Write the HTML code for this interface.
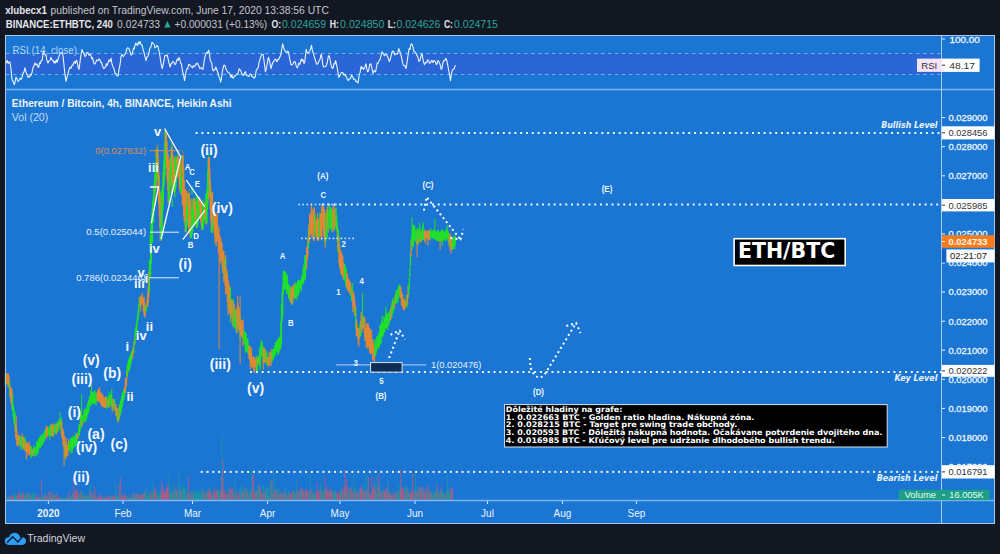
<!DOCTYPE html>
<html><head><meta charset="utf-8"><style>
html,body{margin:0;padding:0;background:#131722;}
#wrap{position:relative;width:1000px;height:554px;overflow:hidden;background:#131722;}
</style></head><body><div id="wrap">
<svg width="1000" height="554" viewBox="0 0 1000 554" style="position:absolute;left:0;top:0">
<rect x="5" y="35" width="990" height="489" fill="#1a75d3"/>
<rect x="6" y="53.5" width="935" height="21" fill="#2a66d6"/>
<line x1="6" y1="53.5" x2="941" y2="53.5" stroke="#6fb0f4" stroke-width="1" stroke-dasharray="3.5 3.5"/>
<line x1="6" y1="74.5" x2="941" y2="74.5" stroke="#6fb0f4" stroke-width="1" stroke-dasharray="3.5 3.5"/>
<g><rect x="6.0" y="494.3" width="1.1" height="5.7" fill="#22a88c" fill-opacity="0.5"/><rect x="6.7" y="496.9" width="1.1" height="3.1" fill="#22a88c" fill-opacity="0.5"/><rect x="7.4" y="497.0" width="1.1" height="3.0" fill="#e0506e" fill-opacity="0.62"/><rect x="8.1" y="496.6" width="1.1" height="3.4" fill="#e0506e" fill-opacity="0.62"/><rect x="8.8" y="496.1" width="1.1" height="3.9" fill="#22a88c" fill-opacity="0.5"/><rect x="9.5" y="496.2" width="1.1" height="3.8" fill="#22a88c" fill-opacity="0.5"/><rect x="10.2" y="494.0" width="1.1" height="6.0" fill="#e0506e" fill-opacity="0.62"/><rect x="10.9" y="497.0" width="1.1" height="3.0" fill="#22a88c" fill-opacity="0.5"/><rect x="11.6" y="496.5" width="1.1" height="3.5" fill="#e0506e" fill-opacity="0.62"/><rect x="12.3" y="496.3" width="1.1" height="3.7" fill="#e0506e" fill-opacity="0.62"/><rect x="13.0" y="496.6" width="1.1" height="3.4" fill="#e0506e" fill-opacity="0.62"/><rect x="13.7" y="493.5" width="1.1" height="6.5" fill="#22a88c" fill-opacity="0.5"/><rect x="14.4" y="492.7" width="1.1" height="7.3" fill="#22a88c" fill-opacity="0.5"/><rect x="15.1" y="497.0" width="1.1" height="3.0" fill="#22a88c" fill-opacity="0.5"/><rect x="15.8" y="495.4" width="1.1" height="4.6" fill="#22a88c" fill-opacity="0.5"/><rect x="16.5" y="495.5" width="1.1" height="4.5" fill="#e0506e" fill-opacity="0.62"/><rect x="17.2" y="496.7" width="1.1" height="3.3" fill="#e0506e" fill-opacity="0.62"/><rect x="17.9" y="490.3" width="1.1" height="9.7" fill="#e0506e" fill-opacity="0.62"/><rect x="18.6" y="494.2" width="1.1" height="5.8" fill="#e0506e" fill-opacity="0.62"/><rect x="19.3" y="495.1" width="1.1" height="4.9" fill="#e0506e" fill-opacity="0.62"/><rect x="20.0" y="494.1" width="1.1" height="5.9" fill="#22a88c" fill-opacity="0.5"/><rect x="20.7" y="491.1" width="1.1" height="8.9" fill="#22a88c" fill-opacity="0.5"/><rect x="21.4" y="495.9" width="1.1" height="4.1" fill="#e0506e" fill-opacity="0.62"/><rect x="22.1" y="493.3" width="1.1" height="6.7" fill="#e0506e" fill-opacity="0.62"/><rect x="22.8" y="492.9" width="1.1" height="7.1" fill="#e0506e" fill-opacity="0.62"/><rect x="23.5" y="495.7" width="1.1" height="4.3" fill="#e0506e" fill-opacity="0.62"/><rect x="24.2" y="493.2" width="1.1" height="6.8" fill="#22a88c" fill-opacity="0.5"/><rect x="24.9" y="495.8" width="1.1" height="4.2" fill="#22a88c" fill-opacity="0.5"/><rect x="25.6" y="493.0" width="1.1" height="7.0" fill="#22a88c" fill-opacity="0.5"/><rect x="26.3" y="496.2" width="1.1" height="3.8" fill="#22a88c" fill-opacity="0.5"/><rect x="27.0" y="494.1" width="1.1" height="5.9" fill="#e0506e" fill-opacity="0.62"/><rect x="27.7" y="492.3" width="1.1" height="7.7" fill="#e0506e" fill-opacity="0.62"/><rect x="28.4" y="493.9" width="1.1" height="6.1" fill="#22a88c" fill-opacity="0.5"/><rect x="29.1" y="493.1" width="1.1" height="6.9" fill="#22a88c" fill-opacity="0.5"/><rect x="29.8" y="495.5" width="1.1" height="4.5" fill="#e0506e" fill-opacity="0.62"/><rect x="30.5" y="493.2" width="1.1" height="6.8" fill="#22a88c" fill-opacity="0.5"/><rect x="31.2" y="495.0" width="1.1" height="5.0" fill="#22a88c" fill-opacity="0.5"/><rect x="31.9" y="492.7" width="1.1" height="7.3" fill="#22a88c" fill-opacity="0.5"/><rect x="32.6" y="493.7" width="1.1" height="6.3" fill="#22a88c" fill-opacity="0.5"/><rect x="33.3" y="491.2" width="1.1" height="8.8" fill="#22a88c" fill-opacity="0.5"/><rect x="34.0" y="493.8" width="1.1" height="6.2" fill="#22a88c" fill-opacity="0.5"/><rect x="34.7" y="497.3" width="1.1" height="2.7" fill="#22a88c" fill-opacity="0.5"/><rect x="35.4" y="497.2" width="1.1" height="2.8" fill="#e0506e" fill-opacity="0.62"/><rect x="36.1" y="493.8" width="1.1" height="6.2" fill="#e0506e" fill-opacity="0.62"/><rect x="36.8" y="496.9" width="1.1" height="3.1" fill="#e0506e" fill-opacity="0.62"/><rect x="37.5" y="496.3" width="1.1" height="3.7" fill="#e0506e" fill-opacity="0.62"/><rect x="38.2" y="497.9" width="1.1" height="2.1" fill="#22a88c" fill-opacity="0.5"/><rect x="38.9" y="497.1" width="1.1" height="2.9" fill="#e0506e" fill-opacity="0.62"/><rect x="39.6" y="497.4" width="1.1" height="2.6" fill="#22a88c" fill-opacity="0.5"/><rect x="40.3" y="497.1" width="1.1" height="2.9" fill="#22a88c" fill-opacity="0.5"/><rect x="41.0" y="479.3" width="1.1" height="20.7" fill="#e0506e" fill-opacity="0.62"/><rect x="41.7" y="496.5" width="1.1" height="3.5" fill="#22a88c" fill-opacity="0.5"/><rect x="42.4" y="495.0" width="1.1" height="5.0" fill="#22a88c" fill-opacity="0.5"/><rect x="43.1" y="496.3" width="1.1" height="3.7" fill="#22a88c" fill-opacity="0.5"/><rect x="43.8" y="491.8" width="1.1" height="8.2" fill="#22a88c" fill-opacity="0.5"/><rect x="44.5" y="495.9" width="1.1" height="4.1" fill="#e0506e" fill-opacity="0.62"/><rect x="45.2" y="494.2" width="1.1" height="5.8" fill="#e0506e" fill-opacity="0.62"/><rect x="45.9" y="496.5" width="1.1" height="3.5" fill="#e0506e" fill-opacity="0.62"/><rect x="46.6" y="495.3" width="1.1" height="4.7" fill="#e0506e" fill-opacity="0.62"/><rect x="47.3" y="496.1" width="1.1" height="3.9" fill="#22a88c" fill-opacity="0.5"/><rect x="48.0" y="491.7" width="1.1" height="8.3" fill="#22a88c" fill-opacity="0.5"/><rect x="48.7" y="491.6" width="1.1" height="8.4" fill="#e0506e" fill-opacity="0.62"/><rect x="49.4" y="496.8" width="1.1" height="3.2" fill="#22a88c" fill-opacity="0.5"/><rect x="50.1" y="495.3" width="1.1" height="4.7" fill="#e0506e" fill-opacity="0.62"/><rect x="50.8" y="491.2" width="1.1" height="8.8" fill="#e0506e" fill-opacity="0.62"/><rect x="51.5" y="495.8" width="1.1" height="4.2" fill="#22a88c" fill-opacity="0.5"/><rect x="52.2" y="497.0" width="1.1" height="3.0" fill="#e0506e" fill-opacity="0.62"/><rect x="52.9" y="494.6" width="1.1" height="5.4" fill="#22a88c" fill-opacity="0.5"/><rect x="53.6" y="493.8" width="1.1" height="6.2" fill="#e0506e" fill-opacity="0.62"/><rect x="54.3" y="495.0" width="1.1" height="5.0" fill="#e0506e" fill-opacity="0.62"/><rect x="55.0" y="497.7" width="1.1" height="2.3" fill="#22a88c" fill-opacity="0.5"/><rect x="55.7" y="492.2" width="1.1" height="7.8" fill="#22a88c" fill-opacity="0.5"/><rect x="56.4" y="493.7" width="1.1" height="6.3" fill="#e0506e" fill-opacity="0.62"/><rect x="57.1" y="497.5" width="1.1" height="2.5" fill="#e0506e" fill-opacity="0.62"/><rect x="57.8" y="497.1" width="1.1" height="2.9" fill="#e0506e" fill-opacity="0.62"/><rect x="58.5" y="497.0" width="1.1" height="3.0" fill="#e0506e" fill-opacity="0.62"/><rect x="59.2" y="497.5" width="1.1" height="2.5" fill="#e0506e" fill-opacity="0.62"/><rect x="59.9" y="497.8" width="1.1" height="2.2" fill="#22a88c" fill-opacity="0.5"/><rect x="60.6" y="498.1" width="1.1" height="1.9" fill="#e0506e" fill-opacity="0.62"/><rect x="61.3" y="497.8" width="1.1" height="2.2" fill="#22a88c" fill-opacity="0.5"/><rect x="62.0" y="496.9" width="1.1" height="3.1" fill="#22a88c" fill-opacity="0.5"/><rect x="62.7" y="497.8" width="1.1" height="2.2" fill="#22a88c" fill-opacity="0.5"/><rect x="63.4" y="497.5" width="1.1" height="2.5" fill="#22a88c" fill-opacity="0.5"/><rect x="64.1" y="497.7" width="1.1" height="2.3" fill="#22a88c" fill-opacity="0.5"/><rect x="64.8" y="498.3" width="1.1" height="1.7" fill="#e0506e" fill-opacity="0.62"/><rect x="65.5" y="497.2" width="1.1" height="2.8" fill="#22a88c" fill-opacity="0.5"/><rect x="66.2" y="498.0" width="1.1" height="2.0" fill="#22a88c" fill-opacity="0.5"/><rect x="66.9" y="497.3" width="1.1" height="2.7" fill="#e0506e" fill-opacity="0.62"/><rect x="67.6" y="495.6" width="1.1" height="4.4" fill="#22a88c" fill-opacity="0.5"/><rect x="68.3" y="491.6" width="1.1" height="8.4" fill="#e0506e" fill-opacity="0.62"/><rect x="69.0" y="494.7" width="1.1" height="5.3" fill="#22a88c" fill-opacity="0.5"/><rect x="69.7" y="496.4" width="1.1" height="3.6" fill="#e0506e" fill-opacity="0.62"/><rect x="70.4" y="496.7" width="1.1" height="3.3" fill="#22a88c" fill-opacity="0.5"/><rect x="71.1" y="496.5" width="1.1" height="3.5" fill="#22a88c" fill-opacity="0.5"/><rect x="71.8" y="492.9" width="1.1" height="7.1" fill="#22a88c" fill-opacity="0.5"/><rect x="72.5" y="495.2" width="1.1" height="4.8" fill="#22a88c" fill-opacity="0.5"/><rect x="73.2" y="477.7" width="1.1" height="22.3" fill="#e0506e" fill-opacity="0.62"/><rect x="73.9" y="490.7" width="1.1" height="9.3" fill="#e0506e" fill-opacity="0.62"/><rect x="74.6" y="494.6" width="1.1" height="5.4" fill="#e0506e" fill-opacity="0.62"/><rect x="75.3" y="491.2" width="1.1" height="8.8" fill="#e0506e" fill-opacity="0.62"/><rect x="76.0" y="488.7" width="1.1" height="11.3" fill="#e0506e" fill-opacity="0.62"/><rect x="76.7" y="493.8" width="1.1" height="6.2" fill="#e0506e" fill-opacity="0.62"/><rect x="77.4" y="489.4" width="1.1" height="10.6" fill="#e0506e" fill-opacity="0.62"/><rect x="78.1" y="496.3" width="1.1" height="3.7" fill="#22a88c" fill-opacity="0.5"/><rect x="78.8" y="494.7" width="1.1" height="5.3" fill="#22a88c" fill-opacity="0.5"/><rect x="79.5" y="492.0" width="1.1" height="8.0" fill="#22a88c" fill-opacity="0.5"/><rect x="80.2" y="490.9" width="1.1" height="9.1" fill="#e0506e" fill-opacity="0.62"/><rect x="80.9" y="490.6" width="1.1" height="9.4" fill="#22a88c" fill-opacity="0.5"/><rect x="81.6" y="492.0" width="1.1" height="8.0" fill="#22a88c" fill-opacity="0.5"/><rect x="82.3" y="496.1" width="1.1" height="3.9" fill="#e0506e" fill-opacity="0.62"/><rect x="83.0" y="496.8" width="1.1" height="3.2" fill="#22a88c" fill-opacity="0.5"/><rect x="83.7" y="493.9" width="1.1" height="6.1" fill="#22a88c" fill-opacity="0.5"/><rect x="84.4" y="495.4" width="1.1" height="4.6" fill="#e0506e" fill-opacity="0.62"/><rect x="85.1" y="497.0" width="1.1" height="3.0" fill="#22a88c" fill-opacity="0.5"/><rect x="85.8" y="495.6" width="1.1" height="4.4" fill="#22a88c" fill-opacity="0.5"/><rect x="86.5" y="495.3" width="1.1" height="4.7" fill="#22a88c" fill-opacity="0.5"/><rect x="87.2" y="495.6" width="1.1" height="4.4" fill="#22a88c" fill-opacity="0.5"/><rect x="87.9" y="496.1" width="1.1" height="3.9" fill="#22a88c" fill-opacity="0.5"/><rect x="88.6" y="492.3" width="1.1" height="7.7" fill="#22a88c" fill-opacity="0.5"/><rect x="89.3" y="491.5" width="1.1" height="8.5" fill="#e0506e" fill-opacity="0.62"/><rect x="90.0" y="483.4" width="1.1" height="16.6" fill="#22a88c" fill-opacity="0.5"/><rect x="90.7" y="495.3" width="1.1" height="4.7" fill="#22a88c" fill-opacity="0.5"/><rect x="91.4" y="491.6" width="1.1" height="8.4" fill="#e0506e" fill-opacity="0.62"/><rect x="92.1" y="496.7" width="1.1" height="3.3" fill="#e0506e" fill-opacity="0.62"/><rect x="92.8" y="493.2" width="1.1" height="6.8" fill="#22a88c" fill-opacity="0.5"/><rect x="93.5" y="494.3" width="1.1" height="5.7" fill="#e0506e" fill-opacity="0.62"/><rect x="94.2" y="486.7" width="1.1" height="13.3" fill="#e0506e" fill-opacity="0.62"/><rect x="94.9" y="497.4" width="1.1" height="2.6" fill="#22a88c" fill-opacity="0.5"/><rect x="95.6" y="497.2" width="1.1" height="2.8" fill="#e0506e" fill-opacity="0.62"/><rect x="96.3" y="497.9" width="1.1" height="2.1" fill="#e0506e" fill-opacity="0.62"/><rect x="97.0" y="497.9" width="1.1" height="2.1" fill="#e0506e" fill-opacity="0.62"/><rect x="97.7" y="497.3" width="1.1" height="2.7" fill="#e0506e" fill-opacity="0.62"/><rect x="98.4" y="492.7" width="1.1" height="7.3" fill="#e0506e" fill-opacity="0.62"/><rect x="99.1" y="497.1" width="1.1" height="2.9" fill="#e0506e" fill-opacity="0.62"/><rect x="99.8" y="495.1" width="1.1" height="4.9" fill="#e0506e" fill-opacity="0.62"/><rect x="100.5" y="497.8" width="1.1" height="2.2" fill="#e0506e" fill-opacity="0.62"/><rect x="101.2" y="495.7" width="1.1" height="4.3" fill="#e0506e" fill-opacity="0.62"/><rect x="101.9" y="496.7" width="1.1" height="3.3" fill="#22a88c" fill-opacity="0.5"/><rect x="102.6" y="497.1" width="1.1" height="2.9" fill="#22a88c" fill-opacity="0.5"/><rect x="103.3" y="498.0" width="1.1" height="2.0" fill="#e0506e" fill-opacity="0.62"/><rect x="104.0" y="497.2" width="1.1" height="2.8" fill="#e0506e" fill-opacity="0.62"/><rect x="104.7" y="497.4" width="1.1" height="2.6" fill="#e0506e" fill-opacity="0.62"/><rect x="105.4" y="497.2" width="1.1" height="2.8" fill="#e0506e" fill-opacity="0.62"/><rect x="106.1" y="497.2" width="1.1" height="2.8" fill="#22a88c" fill-opacity="0.5"/><rect x="106.8" y="497.8" width="1.1" height="2.2" fill="#e0506e" fill-opacity="0.62"/><rect x="107.5" y="495.6" width="1.1" height="4.4" fill="#e0506e" fill-opacity="0.62"/><rect x="108.2" y="497.3" width="1.1" height="2.7" fill="#e0506e" fill-opacity="0.62"/><rect x="108.9" y="498.4" width="1.1" height="1.6" fill="#e0506e" fill-opacity="0.62"/><rect x="109.6" y="495.4" width="1.1" height="4.6" fill="#e0506e" fill-opacity="0.62"/><rect x="110.3" y="494.6" width="1.1" height="5.4" fill="#22a88c" fill-opacity="0.5"/><rect x="111.0" y="495.9" width="1.1" height="4.1" fill="#22a88c" fill-opacity="0.5"/><rect x="111.7" y="496.4" width="1.1" height="3.6" fill="#e0506e" fill-opacity="0.62"/><rect x="112.4" y="497.1" width="1.1" height="2.9" fill="#e0506e" fill-opacity="0.62"/><rect x="113.1" y="497.2" width="1.1" height="2.8" fill="#e0506e" fill-opacity="0.62"/><rect x="113.8" y="495.9" width="1.1" height="4.1" fill="#e0506e" fill-opacity="0.62"/><rect x="114.5" y="494.8" width="1.1" height="5.2" fill="#e0506e" fill-opacity="0.62"/><rect x="115.2" y="481.7" width="1.1" height="18.3" fill="#22a88c" fill-opacity="0.5"/><rect x="115.9" y="495.7" width="1.1" height="4.3" fill="#22a88c" fill-opacity="0.5"/><rect x="116.6" y="495.9" width="1.1" height="4.1" fill="#22a88c" fill-opacity="0.5"/><rect x="117.3" y="491.4" width="1.1" height="8.6" fill="#22a88c" fill-opacity="0.5"/><rect x="118.0" y="496.1" width="1.1" height="3.9" fill="#22a88c" fill-opacity="0.5"/><rect x="118.7" y="485.1" width="1.1" height="14.9" fill="#e0506e" fill-opacity="0.62"/><rect x="119.4" y="496.5" width="1.1" height="3.5" fill="#22a88c" fill-opacity="0.5"/><rect x="120.1" y="477.5" width="1.1" height="22.5" fill="#e0506e" fill-opacity="0.62"/><rect x="120.8" y="497.0" width="1.1" height="3.0" fill="#e0506e" fill-opacity="0.62"/><rect x="121.5" y="494.7" width="1.1" height="5.3" fill="#22a88c" fill-opacity="0.5"/><rect x="122.2" y="494.6" width="1.1" height="5.4" fill="#e0506e" fill-opacity="0.62"/><rect x="122.9" y="495.5" width="1.1" height="4.5" fill="#e0506e" fill-opacity="0.62"/><rect x="123.6" y="496.7" width="1.1" height="3.3" fill="#e0506e" fill-opacity="0.62"/><rect x="124.3" y="496.3" width="1.1" height="3.7" fill="#e0506e" fill-opacity="0.62"/><rect x="125.0" y="493.5" width="1.1" height="6.5" fill="#e0506e" fill-opacity="0.62"/><rect x="125.7" y="496.6" width="1.1" height="3.4" fill="#e0506e" fill-opacity="0.62"/><rect x="126.4" y="496.1" width="1.1" height="3.9" fill="#22a88c" fill-opacity="0.5"/><rect x="127.1" y="498.1" width="1.1" height="1.9" fill="#22a88c" fill-opacity="0.5"/><rect x="127.8" y="497.6" width="1.1" height="2.4" fill="#22a88c" fill-opacity="0.5"/><rect x="128.5" y="494.3" width="1.1" height="5.7" fill="#22a88c" fill-opacity="0.5"/><rect x="129.2" y="497.7" width="1.1" height="2.3" fill="#e0506e" fill-opacity="0.62"/><rect x="129.9" y="498.1" width="1.1" height="1.9" fill="#22a88c" fill-opacity="0.5"/><rect x="130.6" y="496.4" width="1.1" height="3.6" fill="#22a88c" fill-opacity="0.5"/><rect x="131.3" y="494.3" width="1.1" height="5.7" fill="#e0506e" fill-opacity="0.62"/><rect x="132.0" y="495.3" width="1.1" height="4.7" fill="#22a88c" fill-opacity="0.5"/><rect x="132.7" y="492.3" width="1.1" height="7.7" fill="#e0506e" fill-opacity="0.62"/><rect x="133.4" y="493.0" width="1.1" height="7.0" fill="#22a88c" fill-opacity="0.5"/><rect x="134.1" y="495.8" width="1.1" height="4.2" fill="#22a88c" fill-opacity="0.5"/><rect x="134.8" y="496.3" width="1.1" height="3.7" fill="#22a88c" fill-opacity="0.5"/><rect x="135.5" y="493.5" width="1.1" height="6.5" fill="#e0506e" fill-opacity="0.62"/><rect x="136.2" y="493.8" width="1.1" height="6.2" fill="#22a88c" fill-opacity="0.5"/><rect x="136.9" y="494.1" width="1.1" height="5.9" fill="#e0506e" fill-opacity="0.62"/><rect x="137.6" y="494.3" width="1.1" height="5.7" fill="#e0506e" fill-opacity="0.62"/><rect x="138.3" y="492.4" width="1.1" height="7.6" fill="#22a88c" fill-opacity="0.5"/><rect x="139.0" y="494.3" width="1.1" height="5.7" fill="#e0506e" fill-opacity="0.62"/><rect x="139.7" y="497.0" width="1.1" height="3.0" fill="#e0506e" fill-opacity="0.62"/><rect x="140.4" y="496.8" width="1.1" height="3.2" fill="#e0506e" fill-opacity="0.62"/><rect x="141.1" y="493.7" width="1.1" height="6.3" fill="#e0506e" fill-opacity="0.62"/><rect x="141.8" y="494.5" width="1.1" height="5.5" fill="#e0506e" fill-opacity="0.62"/><rect x="142.5" y="494.6" width="1.1" height="5.4" fill="#e0506e" fill-opacity="0.62"/><rect x="143.2" y="491.7" width="1.1" height="8.3" fill="#22a88c" fill-opacity="0.5"/><rect x="143.9" y="491.2" width="1.1" height="8.8" fill="#e0506e" fill-opacity="0.62"/><rect x="144.6" y="493.0" width="1.1" height="7.0" fill="#22a88c" fill-opacity="0.5"/><rect x="145.3" y="488.5" width="1.1" height="11.5" fill="#22a88c" fill-opacity="0.5"/><rect x="146.0" y="495.6" width="1.1" height="4.4" fill="#22a88c" fill-opacity="0.5"/><rect x="146.7" y="487.1" width="1.1" height="12.9" fill="#22a88c" fill-opacity="0.5"/><rect x="147.4" y="495.6" width="1.1" height="4.4" fill="#22a88c" fill-opacity="0.5"/><rect x="148.1" y="495.6" width="1.1" height="4.4" fill="#22a88c" fill-opacity="0.5"/><rect x="148.8" y="493.5" width="1.1" height="6.5" fill="#22a88c" fill-opacity="0.5"/><rect x="149.5" y="491.9" width="1.1" height="8.1" fill="#e0506e" fill-opacity="0.62"/><rect x="150.2" y="495.4" width="1.1" height="4.6" fill="#e0506e" fill-opacity="0.62"/><rect x="150.9" y="490.8" width="1.1" height="9.2" fill="#22a88c" fill-opacity="0.5"/><rect x="151.6" y="492.5" width="1.1" height="7.5" fill="#e0506e" fill-opacity="0.62"/><rect x="152.3" y="481.3" width="1.1" height="18.7" fill="#22a88c" fill-opacity="0.5"/><rect x="153.0" y="488.7" width="1.1" height="11.3" fill="#22a88c" fill-opacity="0.5"/><rect x="153.7" y="493.4" width="1.1" height="6.6" fill="#e0506e" fill-opacity="0.62"/><rect x="154.4" y="486.4" width="1.1" height="13.6" fill="#e0506e" fill-opacity="0.62"/><rect x="155.1" y="489.6" width="1.1" height="10.4" fill="#e0506e" fill-opacity="0.62"/><rect x="155.8" y="491.4" width="1.1" height="8.6" fill="#22a88c" fill-opacity="0.5"/><rect x="156.5" y="494.3" width="1.1" height="5.7" fill="#22a88c" fill-opacity="0.5"/><rect x="157.2" y="495.2" width="1.1" height="4.8" fill="#e0506e" fill-opacity="0.62"/><rect x="157.9" y="491.5" width="1.1" height="8.5" fill="#22a88c" fill-opacity="0.5"/><rect x="158.6" y="493.4" width="1.1" height="6.6" fill="#22a88c" fill-opacity="0.5"/><rect x="159.3" y="494.3" width="1.1" height="5.7" fill="#22a88c" fill-opacity="0.5"/><rect x="160.0" y="488.9" width="1.1" height="11.1" fill="#22a88c" fill-opacity="0.5"/><rect x="160.7" y="492.9" width="1.1" height="7.1" fill="#e0506e" fill-opacity="0.62"/><rect x="161.4" y="481.2" width="1.1" height="18.8" fill="#e0506e" fill-opacity="0.62"/><rect x="162.1" y="486.3" width="1.1" height="13.7" fill="#e0506e" fill-opacity="0.62"/><rect x="162.8" y="491.2" width="1.1" height="8.8" fill="#e0506e" fill-opacity="0.62"/><rect x="163.5" y="490.3" width="1.1" height="9.7" fill="#e0506e" fill-opacity="0.62"/><rect x="164.2" y="492.9" width="1.1" height="7.1" fill="#e0506e" fill-opacity="0.62"/><rect x="164.9" y="493.6" width="1.1" height="6.4" fill="#e0506e" fill-opacity="0.62"/><rect x="165.6" y="488.5" width="1.1" height="11.5" fill="#e0506e" fill-opacity="0.62"/><rect x="166.3" y="485.4" width="1.1" height="14.6" fill="#e0506e" fill-opacity="0.62"/><rect x="167.0" y="488.7" width="1.1" height="11.3" fill="#e0506e" fill-opacity="0.62"/><rect x="167.7" y="484.4" width="1.1" height="15.6" fill="#e0506e" fill-opacity="0.62"/><rect x="168.4" y="474.1" width="1.1" height="25.9" fill="#22a88c" fill-opacity="0.5"/><rect x="169.1" y="493.2" width="1.1" height="6.8" fill="#e0506e" fill-opacity="0.62"/><rect x="169.8" y="492.8" width="1.1" height="7.2" fill="#22a88c" fill-opacity="0.5"/><rect x="170.5" y="485.1" width="1.1" height="14.9" fill="#22a88c" fill-opacity="0.5"/><rect x="171.2" y="492.2" width="1.1" height="7.8" fill="#22a88c" fill-opacity="0.5"/><rect x="171.9" y="491.1" width="1.1" height="8.9" fill="#e0506e" fill-opacity="0.62"/><rect x="172.6" y="492.3" width="1.1" height="7.7" fill="#22a88c" fill-opacity="0.5"/><rect x="173.3" y="483.0" width="1.1" height="17.0" fill="#22a88c" fill-opacity="0.5"/><rect x="174.0" y="490.1" width="1.1" height="9.9" fill="#22a88c" fill-opacity="0.5"/><rect x="174.7" y="491.7" width="1.1" height="8.3" fill="#22a88c" fill-opacity="0.5"/><rect x="175.4" y="486.5" width="1.1" height="13.5" fill="#e0506e" fill-opacity="0.62"/><rect x="176.1" y="490.8" width="1.1" height="9.2" fill="#e0506e" fill-opacity="0.62"/><rect x="176.8" y="491.2" width="1.1" height="8.8" fill="#22a88c" fill-opacity="0.5"/><rect x="177.5" y="493.0" width="1.1" height="7.0" fill="#22a88c" fill-opacity="0.5"/><rect x="178.2" y="471.9" width="1.1" height="28.1" fill="#22a88c" fill-opacity="0.5"/><rect x="178.9" y="483.6" width="1.1" height="16.4" fill="#22a88c" fill-opacity="0.5"/><rect x="179.6" y="490.3" width="1.1" height="9.7" fill="#e0506e" fill-opacity="0.62"/><rect x="180.3" y="490.0" width="1.1" height="10.0" fill="#e0506e" fill-opacity="0.62"/><rect x="181.0" y="488.8" width="1.1" height="11.2" fill="#22a88c" fill-opacity="0.5"/><rect x="181.7" y="490.4" width="1.1" height="9.6" fill="#22a88c" fill-opacity="0.5"/><rect x="182.4" y="483.8" width="1.1" height="16.2" fill="#22a88c" fill-opacity="0.5"/><rect x="183.1" y="486.5" width="1.1" height="13.5" fill="#22a88c" fill-opacity="0.5"/><rect x="183.8" y="489.4" width="1.1" height="10.6" fill="#22a88c" fill-opacity="0.5"/><rect x="184.5" y="487.6" width="1.1" height="12.4" fill="#22a88c" fill-opacity="0.5"/><rect x="185.2" y="488.7" width="1.1" height="11.3" fill="#22a88c" fill-opacity="0.5"/><rect x="185.9" y="494.8" width="1.1" height="5.2" fill="#22a88c" fill-opacity="0.5"/><rect x="186.6" y="492.7" width="1.1" height="7.3" fill="#22a88c" fill-opacity="0.5"/><rect x="187.3" y="492.7" width="1.1" height="7.3" fill="#e0506e" fill-opacity="0.62"/><rect x="188.0" y="475.9" width="1.1" height="24.1" fill="#e0506e" fill-opacity="0.62"/><rect x="188.7" y="495.7" width="1.1" height="4.3" fill="#e0506e" fill-opacity="0.62"/><rect x="189.4" y="493.6" width="1.1" height="6.4" fill="#22a88c" fill-opacity="0.5"/><rect x="190.1" y="492.6" width="1.1" height="7.4" fill="#e0506e" fill-opacity="0.62"/><rect x="190.8" y="490.1" width="1.1" height="9.9" fill="#22a88c" fill-opacity="0.5"/><rect x="191.5" y="494.5" width="1.1" height="5.5" fill="#22a88c" fill-opacity="0.5"/><rect x="192.2" y="491.5" width="1.1" height="8.5" fill="#22a88c" fill-opacity="0.5"/><rect x="192.9" y="493.3" width="1.1" height="6.7" fill="#e0506e" fill-opacity="0.62"/><rect x="193.6" y="487.7" width="1.1" height="12.3" fill="#22a88c" fill-opacity="0.5"/><rect x="194.3" y="490.6" width="1.1" height="9.4" fill="#22a88c" fill-opacity="0.5"/><rect x="195.0" y="494.6" width="1.1" height="5.4" fill="#22a88c" fill-opacity="0.5"/><rect x="195.7" y="491.8" width="1.1" height="8.2" fill="#22a88c" fill-opacity="0.5"/><rect x="196.4" y="492.3" width="1.1" height="7.7" fill="#22a88c" fill-opacity="0.5"/><rect x="197.1" y="491.3" width="1.1" height="8.7" fill="#22a88c" fill-opacity="0.5"/><rect x="197.8" y="492.9" width="1.1" height="7.1" fill="#22a88c" fill-opacity="0.5"/><rect x="198.5" y="492.1" width="1.1" height="7.9" fill="#22a88c" fill-opacity="0.5"/><rect x="199.2" y="490.7" width="1.1" height="9.3" fill="#22a88c" fill-opacity="0.5"/><rect x="199.9" y="494.4" width="1.1" height="5.6" fill="#22a88c" fill-opacity="0.5"/><rect x="200.6" y="488.3" width="1.1" height="11.7" fill="#22a88c" fill-opacity="0.5"/><rect x="201.3" y="495.5" width="1.1" height="4.5" fill="#22a88c" fill-opacity="0.5"/><rect x="202.0" y="487.1" width="1.1" height="12.9" fill="#22a88c" fill-opacity="0.5"/><rect x="202.7" y="493.6" width="1.1" height="6.4" fill="#22a88c" fill-opacity="0.5"/><rect x="203.4" y="490.2" width="1.1" height="9.8" fill="#e0506e" fill-opacity="0.62"/><rect x="204.1" y="491.3" width="1.1" height="8.7" fill="#e0506e" fill-opacity="0.62"/><rect x="204.8" y="494.0" width="1.1" height="6.0" fill="#22a88c" fill-opacity="0.5"/><rect x="205.5" y="495.0" width="1.1" height="5.0" fill="#e0506e" fill-opacity="0.62"/><rect x="206.2" y="490.4" width="1.1" height="9.6" fill="#22a88c" fill-opacity="0.5"/><rect x="206.9" y="490.2" width="1.1" height="9.8" fill="#22a88c" fill-opacity="0.5"/><rect x="207.6" y="490.5" width="1.1" height="9.5" fill="#e0506e" fill-opacity="0.62"/><rect x="208.3" y="491.5" width="1.1" height="8.5" fill="#e0506e" fill-opacity="0.62"/><rect x="209.0" y="488.6" width="1.1" height="11.4" fill="#e0506e" fill-opacity="0.62"/><rect x="209.7" y="485.4" width="1.1" height="14.6" fill="#22a88c" fill-opacity="0.5"/><rect x="210.4" y="493.4" width="1.1" height="6.6" fill="#e0506e" fill-opacity="0.62"/><rect x="211.1" y="492.3" width="1.1" height="7.7" fill="#e0506e" fill-opacity="0.62"/><rect x="211.8" y="494.3" width="1.1" height="5.7" fill="#22a88c" fill-opacity="0.5"/><rect x="212.5" y="493.2" width="1.1" height="6.8" fill="#22a88c" fill-opacity="0.5"/><rect x="213.2" y="490.0" width="1.1" height="10.0" fill="#e0506e" fill-opacity="0.62"/><rect x="213.9" y="494.8" width="1.1" height="5.2" fill="#e0506e" fill-opacity="0.62"/><rect x="214.6" y="488.0" width="1.1" height="12.0" fill="#e0506e" fill-opacity="0.62"/><rect x="215.3" y="492.9" width="1.1" height="7.1" fill="#e0506e" fill-opacity="0.62"/><rect x="216.0" y="490.5" width="1.1" height="9.5" fill="#e0506e" fill-opacity="0.62"/><rect x="216.7" y="489.8" width="1.1" height="10.2" fill="#22a88c" fill-opacity="0.5"/><rect x="217.4" y="491.0" width="1.1" height="9.0" fill="#e0506e" fill-opacity="0.62"/><rect x="218.1" y="488.7" width="1.1" height="11.3" fill="#22a88c" fill-opacity="0.5"/><rect x="218.8" y="492.5" width="1.1" height="7.5" fill="#22a88c" fill-opacity="0.5"/><rect x="219.5" y="489.8" width="1.1" height="10.2" fill="#22a88c" fill-opacity="0.5"/><rect x="220.2" y="491.9" width="1.1" height="8.1" fill="#e0506e" fill-opacity="0.62"/><rect x="220.9" y="476.6" width="1.1" height="23.4" fill="#e0506e" fill-opacity="0.62"/><rect x="221.6" y="491.3" width="1.1" height="8.7" fill="#e0506e" fill-opacity="0.62"/><rect x="222.3" y="486.5" width="1.1" height="13.5" fill="#e0506e" fill-opacity="0.62"/><rect x="223.0" y="491.8" width="1.1" height="8.2" fill="#22a88c" fill-opacity="0.5"/><rect x="223.7" y="492.7" width="1.1" height="7.3" fill="#e0506e" fill-opacity="0.62"/><rect x="224.4" y="490.1" width="1.1" height="9.9" fill="#e0506e" fill-opacity="0.62"/><rect x="225.1" y="492.7" width="1.1" height="7.3" fill="#e0506e" fill-opacity="0.62"/><rect x="225.8" y="494.4" width="1.1" height="5.6" fill="#e0506e" fill-opacity="0.62"/><rect x="226.5" y="495.0" width="1.1" height="5.0" fill="#22a88c" fill-opacity="0.5"/><rect x="227.2" y="487.7" width="1.1" height="12.3" fill="#22a88c" fill-opacity="0.5"/><rect x="227.9" y="493.5" width="1.1" height="6.5" fill="#e0506e" fill-opacity="0.62"/><rect x="228.6" y="489.0" width="1.1" height="11.0" fill="#e0506e" fill-opacity="0.62"/><rect x="229.3" y="489.8" width="1.1" height="10.2" fill="#22a88c" fill-opacity="0.5"/><rect x="230.0" y="486.8" width="1.1" height="13.2" fill="#e0506e" fill-opacity="0.62"/><rect x="230.7" y="489.0" width="1.1" height="11.0" fill="#e0506e" fill-opacity="0.62"/><rect x="231.4" y="490.5" width="1.1" height="9.5" fill="#22a88c" fill-opacity="0.5"/><rect x="232.1" y="488.3" width="1.1" height="11.7" fill="#e0506e" fill-opacity="0.62"/><rect x="232.8" y="494.3" width="1.1" height="5.7" fill="#22a88c" fill-opacity="0.5"/><rect x="233.5" y="494.1" width="1.1" height="5.9" fill="#e0506e" fill-opacity="0.62"/><rect x="234.2" y="477.1" width="1.1" height="22.9" fill="#22a88c" fill-opacity="0.5"/><rect x="234.9" y="493.9" width="1.1" height="6.1" fill="#22a88c" fill-opacity="0.5"/><rect x="235.6" y="491.2" width="1.1" height="8.8" fill="#e0506e" fill-opacity="0.62"/><rect x="236.3" y="490.9" width="1.1" height="9.1" fill="#22a88c" fill-opacity="0.5"/><rect x="237.0" y="495.2" width="1.1" height="4.8" fill="#e0506e" fill-opacity="0.62"/><rect x="237.7" y="495.6" width="1.1" height="4.4" fill="#22a88c" fill-opacity="0.5"/><rect x="238.4" y="495.5" width="1.1" height="4.5" fill="#e0506e" fill-opacity="0.62"/><rect x="239.1" y="490.8" width="1.1" height="9.2" fill="#e0506e" fill-opacity="0.62"/><rect x="239.8" y="485.8" width="1.1" height="14.2" fill="#22a88c" fill-opacity="0.5"/><rect x="240.5" y="491.7" width="1.1" height="8.3" fill="#22a88c" fill-opacity="0.5"/><rect x="241.2" y="487.3" width="1.1" height="12.7" fill="#22a88c" fill-opacity="0.5"/><rect x="241.9" y="491.2" width="1.1" height="8.8" fill="#e0506e" fill-opacity="0.62"/><rect x="242.6" y="492.6" width="1.1" height="7.4" fill="#e0506e" fill-opacity="0.62"/><rect x="243.3" y="486.9" width="1.1" height="13.1" fill="#22a88c" fill-opacity="0.5"/><rect x="244.0" y="493.0" width="1.1" height="7.0" fill="#22a88c" fill-opacity="0.5"/><rect x="244.7" y="487.8" width="1.1" height="12.2" fill="#22a88c" fill-opacity="0.5"/><rect x="245.4" y="488.1" width="1.1" height="11.9" fill="#e0506e" fill-opacity="0.62"/><rect x="246.1" y="489.2" width="1.1" height="10.8" fill="#22a88c" fill-opacity="0.5"/><rect x="246.8" y="491.1" width="1.1" height="8.9" fill="#e0506e" fill-opacity="0.62"/><rect x="247.5" y="490.9" width="1.1" height="9.1" fill="#22a88c" fill-opacity="0.5"/><rect x="248.2" y="493.8" width="1.1" height="6.2" fill="#22a88c" fill-opacity="0.5"/><rect x="248.9" y="491.7" width="1.1" height="8.3" fill="#22a88c" fill-opacity="0.5"/><rect x="249.6" y="490.7" width="1.1" height="9.3" fill="#e0506e" fill-opacity="0.62"/><rect x="250.3" y="489.3" width="1.1" height="10.7" fill="#22a88c" fill-opacity="0.5"/><rect x="251.0" y="469.2" width="1.1" height="30.8" fill="#22a88c" fill-opacity="0.5"/><rect x="251.7" y="493.2" width="1.1" height="6.8" fill="#e0506e" fill-opacity="0.62"/><rect x="252.4" y="475.8" width="1.1" height="24.2" fill="#e0506e" fill-opacity="0.62"/><rect x="253.1" y="473.9" width="1.1" height="26.1" fill="#e0506e" fill-opacity="0.62"/><rect x="253.8" y="487.3" width="1.1" height="12.7" fill="#22a88c" fill-opacity="0.5"/><rect x="254.5" y="493.7" width="1.1" height="6.3" fill="#e0506e" fill-opacity="0.62"/><rect x="255.2" y="491.9" width="1.1" height="8.1" fill="#e0506e" fill-opacity="0.62"/><rect x="255.9" y="490.6" width="1.1" height="9.4" fill="#e0506e" fill-opacity="0.62"/><rect x="256.6" y="491.9" width="1.1" height="8.1" fill="#22a88c" fill-opacity="0.5"/><rect x="257.3" y="485.2" width="1.1" height="14.8" fill="#22a88c" fill-opacity="0.5"/><rect x="258.0" y="488.0" width="1.1" height="12.0" fill="#22a88c" fill-opacity="0.5"/><rect x="258.7" y="484.9" width="1.1" height="15.1" fill="#e0506e" fill-opacity="0.62"/><rect x="259.4" y="484.3" width="1.1" height="15.7" fill="#22a88c" fill-opacity="0.5"/><rect x="260.1" y="487.7" width="1.1" height="12.3" fill="#e0506e" fill-opacity="0.62"/><rect x="260.8" y="493.8" width="1.1" height="6.2" fill="#e0506e" fill-opacity="0.62"/><rect x="261.5" y="492.7" width="1.1" height="7.3" fill="#22a88c" fill-opacity="0.5"/><rect x="262.2" y="493.9" width="1.1" height="6.1" fill="#e0506e" fill-opacity="0.62"/><rect x="262.9" y="485.5" width="1.1" height="14.5" fill="#22a88c" fill-opacity="0.5"/><rect x="263.6" y="489.8" width="1.1" height="10.2" fill="#e0506e" fill-opacity="0.62"/><rect x="264.3" y="493.0" width="1.1" height="7.0" fill="#e0506e" fill-opacity="0.62"/><rect x="265.0" y="489.7" width="1.1" height="10.3" fill="#22a88c" fill-opacity="0.5"/><rect x="265.7" y="487.3" width="1.1" height="12.7" fill="#22a88c" fill-opacity="0.5"/><rect x="266.4" y="488.3" width="1.1" height="11.7" fill="#22a88c" fill-opacity="0.5"/><rect x="267.1" y="486.8" width="1.1" height="13.2" fill="#22a88c" fill-opacity="0.5"/><rect x="267.8" y="495.6" width="1.1" height="4.4" fill="#e0506e" fill-opacity="0.62"/><rect x="268.5" y="494.8" width="1.1" height="5.2" fill="#22a88c" fill-opacity="0.5"/><rect x="269.2" y="488.1" width="1.1" height="11.9" fill="#22a88c" fill-opacity="0.5"/><rect x="269.9" y="482.9" width="1.1" height="17.1" fill="#22a88c" fill-opacity="0.5"/><rect x="270.6" y="479.1" width="1.1" height="20.9" fill="#22a88c" fill-opacity="0.5"/><rect x="271.3" y="479.7" width="1.1" height="20.3" fill="#e0506e" fill-opacity="0.62"/><rect x="272.0" y="493.6" width="1.1" height="6.4" fill="#e0506e" fill-opacity="0.62"/><rect x="272.7" y="488.9" width="1.1" height="11.1" fill="#22a88c" fill-opacity="0.5"/><rect x="273.4" y="470.3" width="1.1" height="29.7" fill="#22a88c" fill-opacity="0.5"/><rect x="274.1" y="489.3" width="1.1" height="10.7" fill="#e0506e" fill-opacity="0.62"/><rect x="274.8" y="490.5" width="1.1" height="9.5" fill="#22a88c" fill-opacity="0.5"/><rect x="275.5" y="489.0" width="1.1" height="11.0" fill="#e0506e" fill-opacity="0.62"/><rect x="276.2" y="489.1" width="1.1" height="10.9" fill="#22a88c" fill-opacity="0.5"/><rect x="276.9" y="493.6" width="1.1" height="6.4" fill="#e0506e" fill-opacity="0.62"/><rect x="277.6" y="487.9" width="1.1" height="12.1" fill="#22a88c" fill-opacity="0.5"/><rect x="278.3" y="489.9" width="1.1" height="10.1" fill="#22a88c" fill-opacity="0.5"/><rect x="279.0" y="495.2" width="1.1" height="4.8" fill="#e0506e" fill-opacity="0.62"/><rect x="279.7" y="493.2" width="1.1" height="6.8" fill="#e0506e" fill-opacity="0.62"/><rect x="280.4" y="492.7" width="1.1" height="7.3" fill="#e0506e" fill-opacity="0.62"/><rect x="281.1" y="493.6" width="1.1" height="6.4" fill="#22a88c" fill-opacity="0.5"/><rect x="281.8" y="491.6" width="1.1" height="8.4" fill="#22a88c" fill-opacity="0.5"/><rect x="282.5" y="495.5" width="1.1" height="4.5" fill="#e0506e" fill-opacity="0.62"/><rect x="283.2" y="493.0" width="1.1" height="7.0" fill="#e0506e" fill-opacity="0.62"/><rect x="283.9" y="490.9" width="1.1" height="9.1" fill="#e0506e" fill-opacity="0.62"/><rect x="284.6" y="494.7" width="1.1" height="5.3" fill="#22a88c" fill-opacity="0.5"/><rect x="285.3" y="487.8" width="1.1" height="12.2" fill="#22a88c" fill-opacity="0.5"/><rect x="286.0" y="495.0" width="1.1" height="5.0" fill="#e0506e" fill-opacity="0.62"/><rect x="286.7" y="493.7" width="1.1" height="6.3" fill="#22a88c" fill-opacity="0.5"/><rect x="287.4" y="491.6" width="1.1" height="8.4" fill="#22a88c" fill-opacity="0.5"/><rect x="288.1" y="490.7" width="1.1" height="9.3" fill="#22a88c" fill-opacity="0.5"/><rect x="288.8" y="495.1" width="1.1" height="4.9" fill="#e0506e" fill-opacity="0.62"/><rect x="289.5" y="493.6" width="1.1" height="6.4" fill="#e0506e" fill-opacity="0.62"/><rect x="290.2" y="494.0" width="1.1" height="6.0" fill="#e0506e" fill-opacity="0.62"/><rect x="290.9" y="494.1" width="1.1" height="5.9" fill="#e0506e" fill-opacity="0.62"/><rect x="291.6" y="490.2" width="1.1" height="9.8" fill="#e0506e" fill-opacity="0.62"/><rect x="292.3" y="493.0" width="1.1" height="7.0" fill="#22a88c" fill-opacity="0.5"/><rect x="293.0" y="490.7" width="1.1" height="9.3" fill="#22a88c" fill-opacity="0.5"/><rect x="293.7" y="491.7" width="1.1" height="8.3" fill="#e0506e" fill-opacity="0.62"/><rect x="294.4" y="491.5" width="1.1" height="8.5" fill="#22a88c" fill-opacity="0.5"/><rect x="295.1" y="494.6" width="1.1" height="5.4" fill="#22a88c" fill-opacity="0.5"/><rect x="295.8" y="479.4" width="1.1" height="20.6" fill="#22a88c" fill-opacity="0.5"/><rect x="296.5" y="491.4" width="1.1" height="8.6" fill="#22a88c" fill-opacity="0.5"/><rect x="297.2" y="490.3" width="1.1" height="9.7" fill="#e0506e" fill-opacity="0.62"/><rect x="297.9" y="493.1" width="1.1" height="6.9" fill="#22a88c" fill-opacity="0.5"/><rect x="298.6" y="493.3" width="1.1" height="6.7" fill="#e0506e" fill-opacity="0.62"/><rect x="299.3" y="487.4" width="1.1" height="12.6" fill="#e0506e" fill-opacity="0.62"/><rect x="300.0" y="490.1" width="1.1" height="9.9" fill="#22a88c" fill-opacity="0.5"/><rect x="300.7" y="489.3" width="1.1" height="10.7" fill="#22a88c" fill-opacity="0.5"/><rect x="301.4" y="488.0" width="1.1" height="12.0" fill="#e0506e" fill-opacity="0.62"/><rect x="302.1" y="491.5" width="1.1" height="8.5" fill="#e0506e" fill-opacity="0.62"/><rect x="302.8" y="490.6" width="1.1" height="9.4" fill="#e0506e" fill-opacity="0.62"/><rect x="303.5" y="491.3" width="1.1" height="8.7" fill="#22a88c" fill-opacity="0.5"/><rect x="304.2" y="492.2" width="1.1" height="7.8" fill="#22a88c" fill-opacity="0.5"/><rect x="304.9" y="489.5" width="1.1" height="10.5" fill="#e0506e" fill-opacity="0.62"/><rect x="305.6" y="490.1" width="1.1" height="9.9" fill="#e0506e" fill-opacity="0.62"/><rect x="306.3" y="489.0" width="1.1" height="11.0" fill="#e0506e" fill-opacity="0.62"/><rect x="307.0" y="492.6" width="1.1" height="7.4" fill="#e0506e" fill-opacity="0.62"/><rect x="307.7" y="492.0" width="1.1" height="8.0" fill="#22a88c" fill-opacity="0.5"/><rect x="308.4" y="493.8" width="1.1" height="6.2" fill="#22a88c" fill-opacity="0.5"/><rect x="309.1" y="490.2" width="1.1" height="9.8" fill="#e0506e" fill-opacity="0.62"/><rect x="309.8" y="474.2" width="1.1" height="25.8" fill="#22a88c" fill-opacity="0.5"/><rect x="310.5" y="488.7" width="1.1" height="11.3" fill="#e0506e" fill-opacity="0.62"/><rect x="311.2" y="495.1" width="1.1" height="4.9" fill="#22a88c" fill-opacity="0.5"/><rect x="311.9" y="493.2" width="1.1" height="6.8" fill="#e0506e" fill-opacity="0.62"/><rect x="312.6" y="488.5" width="1.1" height="11.5" fill="#22a88c" fill-opacity="0.5"/><rect x="313.3" y="492.3" width="1.1" height="7.7" fill="#22a88c" fill-opacity="0.5"/><rect x="314.0" y="494.9" width="1.1" height="5.1" fill="#22a88c" fill-opacity="0.5"/><rect x="314.7" y="492.7" width="1.1" height="7.3" fill="#22a88c" fill-opacity="0.5"/><rect x="315.4" y="493.9" width="1.1" height="6.1" fill="#e0506e" fill-opacity="0.62"/><rect x="316.1" y="490.2" width="1.1" height="9.8" fill="#e0506e" fill-opacity="0.62"/><rect x="316.8" y="482.5" width="1.1" height="17.5" fill="#e0506e" fill-opacity="0.62"/><rect x="317.5" y="494.5" width="1.1" height="5.5" fill="#e0506e" fill-opacity="0.62"/><rect x="318.2" y="492.0" width="1.1" height="8.0" fill="#e0506e" fill-opacity="0.62"/><rect x="318.9" y="491.3" width="1.1" height="8.7" fill="#e0506e" fill-opacity="0.62"/><rect x="319.6" y="487.5" width="1.1" height="12.5" fill="#22a88c" fill-opacity="0.5"/><rect x="320.3" y="481.6" width="1.1" height="18.4" fill="#22a88c" fill-opacity="0.5"/><rect x="321.0" y="490.4" width="1.1" height="9.6" fill="#e0506e" fill-opacity="0.62"/><rect x="321.7" y="491.9" width="1.1" height="8.1" fill="#22a88c" fill-opacity="0.5"/><rect x="322.4" y="489.3" width="1.1" height="10.7" fill="#22a88c" fill-opacity="0.5"/><rect x="323.1" y="492.6" width="1.1" height="7.4" fill="#e0506e" fill-opacity="0.62"/><rect x="323.8" y="489.7" width="1.1" height="10.3" fill="#22a88c" fill-opacity="0.5"/><rect x="324.5" y="477.1" width="1.1" height="22.9" fill="#e0506e" fill-opacity="0.62"/><rect x="325.2" y="489.4" width="1.1" height="10.6" fill="#22a88c" fill-opacity="0.5"/><rect x="325.9" y="489.7" width="1.1" height="10.3" fill="#e0506e" fill-opacity="0.62"/><rect x="326.6" y="491.4" width="1.1" height="8.6" fill="#e0506e" fill-opacity="0.62"/><rect x="327.3" y="486.1" width="1.1" height="13.9" fill="#e0506e" fill-opacity="0.62"/><rect x="328.0" y="492.1" width="1.1" height="7.9" fill="#e0506e" fill-opacity="0.62"/><rect x="328.7" y="490.8" width="1.1" height="9.2" fill="#e0506e" fill-opacity="0.62"/><rect x="329.4" y="491.0" width="1.1" height="9.0" fill="#22a88c" fill-opacity="0.5"/><rect x="330.1" y="489.3" width="1.1" height="10.7" fill="#e0506e" fill-opacity="0.62"/><rect x="330.8" y="491.1" width="1.1" height="8.9" fill="#e0506e" fill-opacity="0.62"/><rect x="331.5" y="491.2" width="1.1" height="8.8" fill="#22a88c" fill-opacity="0.5"/><rect x="332.2" y="491.7" width="1.1" height="8.3" fill="#22a88c" fill-opacity="0.5"/><rect x="332.9" y="491.5" width="1.1" height="8.5" fill="#e0506e" fill-opacity="0.62"/><rect x="333.6" y="493.9" width="1.1" height="6.1" fill="#22a88c" fill-opacity="0.5"/><rect x="334.3" y="492.2" width="1.1" height="7.8" fill="#22a88c" fill-opacity="0.5"/><rect x="335.0" y="489.1" width="1.1" height="10.9" fill="#22a88c" fill-opacity="0.5"/><rect x="335.7" y="494.8" width="1.1" height="5.2" fill="#22a88c" fill-opacity="0.5"/><rect x="336.4" y="492.3" width="1.1" height="7.7" fill="#e0506e" fill-opacity="0.62"/><rect x="337.1" y="492.4" width="1.1" height="7.6" fill="#e0506e" fill-opacity="0.62"/><rect x="337.8" y="494.9" width="1.1" height="5.1" fill="#e0506e" fill-opacity="0.62"/><rect x="338.5" y="493.6" width="1.1" height="6.4" fill="#e0506e" fill-opacity="0.62"/><rect x="339.2" y="491.4" width="1.1" height="8.6" fill="#e0506e" fill-opacity="0.62"/><rect x="339.9" y="491.2" width="1.1" height="8.8" fill="#22a88c" fill-opacity="0.5"/><rect x="340.6" y="493.4" width="1.1" height="6.6" fill="#22a88c" fill-opacity="0.5"/><rect x="341.3" y="489.1" width="1.1" height="10.9" fill="#e0506e" fill-opacity="0.62"/><rect x="342.0" y="486.7" width="1.1" height="13.3" fill="#e0506e" fill-opacity="0.62"/><rect x="342.7" y="493.9" width="1.1" height="6.1" fill="#22a88c" fill-opacity="0.5"/><rect x="343.4" y="491.3" width="1.1" height="8.7" fill="#e0506e" fill-opacity="0.62"/><rect x="344.1" y="469.7" width="1.1" height="30.3" fill="#e0506e" fill-opacity="0.62"/><rect x="344.8" y="485.7" width="1.1" height="14.3" fill="#22a88c" fill-opacity="0.5"/><rect x="345.5" y="485.5" width="1.1" height="14.5" fill="#e0506e" fill-opacity="0.62"/><rect x="346.2" y="479.2" width="1.1" height="20.8" fill="#e0506e" fill-opacity="0.62"/><rect x="346.9" y="493.0" width="1.1" height="7.0" fill="#22a88c" fill-opacity="0.5"/><rect x="347.6" y="486.9" width="1.1" height="13.1" fill="#e0506e" fill-opacity="0.62"/><rect x="348.3" y="491.4" width="1.1" height="8.6" fill="#22a88c" fill-opacity="0.5"/><rect x="349.0" y="491.6" width="1.1" height="8.4" fill="#22a88c" fill-opacity="0.5"/><rect x="349.7" y="488.1" width="1.1" height="11.9" fill="#e0506e" fill-opacity="0.62"/><rect x="350.4" y="489.2" width="1.1" height="10.8" fill="#e0506e" fill-opacity="0.62"/><rect x="351.1" y="486.2" width="1.1" height="13.8" fill="#22a88c" fill-opacity="0.5"/><rect x="351.8" y="491.7" width="1.1" height="8.3" fill="#e0506e" fill-opacity="0.62"/><rect x="352.5" y="492.9" width="1.1" height="7.1" fill="#e0506e" fill-opacity="0.62"/><rect x="353.2" y="474.1" width="1.1" height="25.9" fill="#22a88c" fill-opacity="0.5"/><rect x="353.9" y="490.9" width="1.1" height="9.1" fill="#e0506e" fill-opacity="0.62"/><rect x="354.6" y="487.5" width="1.1" height="12.5" fill="#22a88c" fill-opacity="0.5"/><rect x="355.3" y="487.0" width="1.1" height="13.0" fill="#22a88c" fill-opacity="0.5"/><rect x="356.0" y="492.5" width="1.1" height="7.5" fill="#e0506e" fill-opacity="0.62"/><rect x="356.7" y="493.0" width="1.1" height="7.0" fill="#22a88c" fill-opacity="0.5"/><rect x="357.4" y="490.6" width="1.1" height="9.4" fill="#e0506e" fill-opacity="0.62"/><rect x="358.1" y="494.4" width="1.1" height="5.6" fill="#e0506e" fill-opacity="0.62"/><rect x="358.8" y="488.6" width="1.1" height="11.4" fill="#22a88c" fill-opacity="0.5"/><rect x="359.5" y="488.4" width="1.1" height="11.6" fill="#22a88c" fill-opacity="0.5"/><rect x="360.2" y="488.2" width="1.1" height="11.8" fill="#e0506e" fill-opacity="0.62"/><rect x="360.9" y="485.3" width="1.1" height="14.7" fill="#e0506e" fill-opacity="0.62"/><rect x="361.6" y="490.0" width="1.1" height="10.0" fill="#e0506e" fill-opacity="0.62"/><rect x="362.3" y="490.2" width="1.1" height="9.8" fill="#e0506e" fill-opacity="0.62"/><rect x="363.0" y="492.2" width="1.1" height="7.8" fill="#22a88c" fill-opacity="0.5"/><rect x="363.7" y="489.7" width="1.1" height="10.3" fill="#e0506e" fill-opacity="0.62"/><rect x="364.4" y="474.9" width="1.1" height="25.1" fill="#22a88c" fill-opacity="0.5"/><rect x="365.1" y="491.7" width="1.1" height="8.3" fill="#e0506e" fill-opacity="0.62"/><rect x="365.8" y="491.3" width="1.1" height="8.7" fill="#22a88c" fill-opacity="0.5"/><rect x="366.5" y="474.6" width="1.1" height="25.4" fill="#22a88c" fill-opacity="0.5"/><rect x="367.2" y="490.4" width="1.1" height="9.6" fill="#e0506e" fill-opacity="0.62"/><rect x="367.9" y="477.0" width="1.1" height="23.0" fill="#e0506e" fill-opacity="0.62"/><rect x="368.6" y="494.2" width="1.1" height="5.8" fill="#e0506e" fill-opacity="0.62"/><rect x="369.3" y="491.9" width="1.1" height="8.1" fill="#22a88c" fill-opacity="0.5"/><rect x="370.0" y="494.0" width="1.1" height="6.0" fill="#e0506e" fill-opacity="0.62"/><rect x="370.7" y="494.5" width="1.1" height="5.5" fill="#22a88c" fill-opacity="0.5"/><rect x="371.4" y="475.9" width="1.1" height="24.1" fill="#e0506e" fill-opacity="0.62"/><rect x="372.1" y="489.8" width="1.1" height="10.2" fill="#e0506e" fill-opacity="0.62"/><rect x="372.8" y="487.6" width="1.1" height="12.4" fill="#e0506e" fill-opacity="0.62"/><rect x="373.5" y="483.7" width="1.1" height="16.3" fill="#e0506e" fill-opacity="0.62"/><rect x="374.2" y="484.2" width="1.1" height="15.8" fill="#22a88c" fill-opacity="0.5"/><rect x="374.9" y="489.0" width="1.1" height="11.0" fill="#e0506e" fill-opacity="0.62"/><rect x="375.6" y="474.0" width="1.1" height="26.0" fill="#22a88c" fill-opacity="0.5"/><rect x="376.3" y="493.0" width="1.1" height="7.0" fill="#22a88c" fill-opacity="0.5"/><rect x="377.0" y="487.5" width="1.1" height="12.5" fill="#e0506e" fill-opacity="0.62"/><rect x="377.7" y="484.5" width="1.1" height="15.5" fill="#22a88c" fill-opacity="0.5"/><rect x="378.4" y="473.3" width="1.1" height="26.7" fill="#e0506e" fill-opacity="0.62"/><rect x="379.1" y="489.4" width="1.1" height="10.6" fill="#22a88c" fill-opacity="0.5"/><rect x="379.8" y="485.9" width="1.1" height="14.1" fill="#22a88c" fill-opacity="0.5"/><rect x="380.5" y="492.2" width="1.1" height="7.8" fill="#e0506e" fill-opacity="0.62"/><rect x="381.2" y="492.7" width="1.1" height="7.3" fill="#e0506e" fill-opacity="0.62"/><rect x="381.9" y="490.0" width="1.1" height="10.0" fill="#e0506e" fill-opacity="0.62"/><rect x="382.6" y="490.4" width="1.1" height="9.6" fill="#22a88c" fill-opacity="0.5"/><rect x="383.3" y="491.6" width="1.1" height="8.4" fill="#22a88c" fill-opacity="0.5"/><rect x="384.0" y="490.6" width="1.1" height="9.4" fill="#e0506e" fill-opacity="0.62"/><rect x="384.7" y="492.6" width="1.1" height="7.4" fill="#e0506e" fill-opacity="0.62"/><rect x="385.4" y="488.1" width="1.1" height="11.9" fill="#e0506e" fill-opacity="0.62"/><rect x="386.1" y="492.2" width="1.1" height="7.8" fill="#22a88c" fill-opacity="0.5"/><rect x="386.8" y="487.1" width="1.1" height="12.9" fill="#e0506e" fill-opacity="0.62"/><rect x="387.5" y="479.1" width="1.1" height="20.9" fill="#22a88c" fill-opacity="0.5"/><rect x="388.2" y="490.7" width="1.1" height="9.3" fill="#e0506e" fill-opacity="0.62"/><rect x="388.9" y="493.5" width="1.1" height="6.5" fill="#22a88c" fill-opacity="0.5"/><rect x="389.6" y="492.7" width="1.1" height="7.3" fill="#e0506e" fill-opacity="0.62"/><rect x="390.3" y="495.4" width="1.1" height="4.6" fill="#e0506e" fill-opacity="0.62"/><rect x="391.0" y="495.9" width="1.1" height="4.1" fill="#e0506e" fill-opacity="0.62"/><rect x="391.7" y="493.4" width="1.1" height="6.6" fill="#e0506e" fill-opacity="0.62"/><rect x="392.4" y="495.0" width="1.1" height="5.0" fill="#e0506e" fill-opacity="0.62"/><rect x="393.1" y="490.9" width="1.1" height="9.1" fill="#22a88c" fill-opacity="0.5"/><rect x="393.8" y="494.9" width="1.1" height="5.1" fill="#22a88c" fill-opacity="0.5"/><rect x="394.5" y="492.7" width="1.1" height="7.3" fill="#e0506e" fill-opacity="0.62"/><rect x="395.2" y="492.9" width="1.1" height="7.1" fill="#e0506e" fill-opacity="0.62"/><rect x="395.9" y="490.9" width="1.1" height="9.1" fill="#22a88c" fill-opacity="0.5"/><rect x="396.6" y="493.8" width="1.1" height="6.2" fill="#22a88c" fill-opacity="0.5"/><rect x="397.3" y="490.2" width="1.1" height="9.8" fill="#e0506e" fill-opacity="0.62"/><rect x="398.0" y="492.4" width="1.1" height="7.6" fill="#22a88c" fill-opacity="0.5"/><rect x="398.7" y="484.7" width="1.1" height="15.3" fill="#22a88c" fill-opacity="0.5"/><rect x="399.4" y="491.9" width="1.1" height="8.1" fill="#22a88c" fill-opacity="0.5"/><rect x="400.1" y="469.7" width="1.1" height="30.3" fill="#e0506e" fill-opacity="0.62"/><rect x="400.8" y="488.6" width="1.1" height="11.4" fill="#e0506e" fill-opacity="0.62"/><rect x="401.5" y="493.1" width="1.1" height="6.9" fill="#e0506e" fill-opacity="0.62"/><rect x="402.2" y="488.2" width="1.1" height="11.8" fill="#e0506e" fill-opacity="0.62"/><rect x="402.9" y="487.2" width="1.1" height="12.8" fill="#e0506e" fill-opacity="0.62"/><rect x="403.6" y="489.9" width="1.1" height="10.1" fill="#22a88c" fill-opacity="0.5"/><rect x="404.3" y="491.2" width="1.1" height="8.8" fill="#e0506e" fill-opacity="0.62"/><rect x="405.0" y="486.2" width="1.1" height="13.8" fill="#22a88c" fill-opacity="0.5"/><rect x="405.7" y="487.7" width="1.1" height="12.3" fill="#22a88c" fill-opacity="0.5"/><rect x="406.4" y="486.0" width="1.1" height="14.0" fill="#22a88c" fill-opacity="0.5"/><rect x="407.1" y="488.6" width="1.1" height="11.4" fill="#e0506e" fill-opacity="0.62"/><rect x="407.8" y="489.2" width="1.1" height="10.8" fill="#22a88c" fill-opacity="0.5"/><rect x="408.5" y="493.6" width="1.1" height="6.4" fill="#22a88c" fill-opacity="0.5"/><rect x="409.2" y="493.1" width="1.1" height="6.9" fill="#e0506e" fill-opacity="0.62"/><rect x="409.9" y="493.3" width="1.1" height="6.7" fill="#e0506e" fill-opacity="0.62"/><rect x="410.6" y="491.8" width="1.1" height="8.2" fill="#e0506e" fill-opacity="0.62"/><rect x="411.3" y="492.3" width="1.1" height="7.7" fill="#e0506e" fill-opacity="0.62"/><rect x="412.0" y="472.2" width="1.1" height="27.8" fill="#e0506e" fill-opacity="0.62"/><rect x="412.7" y="495.1" width="1.1" height="4.9" fill="#22a88c" fill-opacity="0.5"/><rect x="413.4" y="491.2" width="1.1" height="8.8" fill="#e0506e" fill-opacity="0.62"/><rect x="414.1" y="490.9" width="1.1" height="9.1" fill="#22a88c" fill-opacity="0.5"/><rect x="414.8" y="472.6" width="1.1" height="27.4" fill="#22a88c" fill-opacity="0.5"/><rect x="415.5" y="490.2" width="1.1" height="9.8" fill="#e0506e" fill-opacity="0.62"/><rect x="416.2" y="492.6" width="1.1" height="7.4" fill="#e0506e" fill-opacity="0.62"/><rect x="416.9" y="489.4" width="1.1" height="10.6" fill="#22a88c" fill-opacity="0.5"/><rect x="417.6" y="486.2" width="1.1" height="13.8" fill="#22a88c" fill-opacity="0.5"/><rect x="418.3" y="487.2" width="1.1" height="12.8" fill="#e0506e" fill-opacity="0.62"/><rect x="419.0" y="489.8" width="1.1" height="10.2" fill="#22a88c" fill-opacity="0.5"/><rect x="419.7" y="487.3" width="1.1" height="12.7" fill="#e0506e" fill-opacity="0.62"/><rect x="420.4" y="489.0" width="1.1" height="11.0" fill="#e0506e" fill-opacity="0.62"/><rect x="421.1" y="488.2" width="1.1" height="11.8" fill="#22a88c" fill-opacity="0.5"/><rect x="421.8" y="493.0" width="1.1" height="7.0" fill="#e0506e" fill-opacity="0.62"/><rect x="422.5" y="486.6" width="1.1" height="13.4" fill="#e0506e" fill-opacity="0.62"/><rect x="423.2" y="488.4" width="1.1" height="11.6" fill="#22a88c" fill-opacity="0.5"/><rect x="423.9" y="494.4" width="1.1" height="5.6" fill="#e0506e" fill-opacity="0.62"/><rect x="424.6" y="491.8" width="1.1" height="8.2" fill="#e0506e" fill-opacity="0.62"/><rect x="425.3" y="487.5" width="1.1" height="12.5" fill="#e0506e" fill-opacity="0.62"/><rect x="426.0" y="490.9" width="1.1" height="9.1" fill="#22a88c" fill-opacity="0.5"/><rect x="426.7" y="492.4" width="1.1" height="7.6" fill="#22a88c" fill-opacity="0.5"/><rect x="427.4" y="485.8" width="1.1" height="14.2" fill="#e0506e" fill-opacity="0.62"/><rect x="428.1" y="489.8" width="1.1" height="10.2" fill="#22a88c" fill-opacity="0.5"/><rect x="428.8" y="490.3" width="1.1" height="9.7" fill="#e0506e" fill-opacity="0.62"/><rect x="429.5" y="493.2" width="1.1" height="6.8" fill="#e0506e" fill-opacity="0.62"/><rect x="430.2" y="492.2" width="1.1" height="7.8" fill="#e0506e" fill-opacity="0.62"/><rect x="430.9" y="491.1" width="1.1" height="8.9" fill="#22a88c" fill-opacity="0.5"/><rect x="431.6" y="493.1" width="1.1" height="6.9" fill="#22a88c" fill-opacity="0.5"/><rect x="432.3" y="495.5" width="1.1" height="4.5" fill="#22a88c" fill-opacity="0.5"/><rect x="433.0" y="490.5" width="1.1" height="9.5" fill="#22a88c" fill-opacity="0.5"/><rect x="433.7" y="493.2" width="1.1" height="6.8" fill="#e0506e" fill-opacity="0.62"/><rect x="434.4" y="491.7" width="1.1" height="8.3" fill="#22a88c" fill-opacity="0.5"/><rect x="435.1" y="490.4" width="1.1" height="9.6" fill="#22a88c" fill-opacity="0.5"/><rect x="435.8" y="493.8" width="1.1" height="6.2" fill="#22a88c" fill-opacity="0.5"/><rect x="436.5" y="484.4" width="1.1" height="15.6" fill="#e0506e" fill-opacity="0.62"/><rect x="437.2" y="488.6" width="1.1" height="11.4" fill="#22a88c" fill-opacity="0.5"/><rect x="437.9" y="492.3" width="1.1" height="7.7" fill="#e0506e" fill-opacity="0.62"/><rect x="438.6" y="494.2" width="1.1" height="5.8" fill="#22a88c" fill-opacity="0.5"/><rect x="439.3" y="492.0" width="1.1" height="8.0" fill="#22a88c" fill-opacity="0.5"/><rect x="440.0" y="490.2" width="1.1" height="9.8" fill="#22a88c" fill-opacity="0.5"/><rect x="440.7" y="487.1" width="1.1" height="12.9" fill="#e0506e" fill-opacity="0.62"/><rect x="441.4" y="490.9" width="1.1" height="9.1" fill="#22a88c" fill-opacity="0.5"/><rect x="442.1" y="490.7" width="1.1" height="9.3" fill="#22a88c" fill-opacity="0.5"/><rect x="442.8" y="494.2" width="1.1" height="5.8" fill="#22a88c" fill-opacity="0.5"/><rect x="443.5" y="491.7" width="1.1" height="8.3" fill="#22a88c" fill-opacity="0.5"/><rect x="444.2" y="495.1" width="1.1" height="4.9" fill="#e0506e" fill-opacity="0.62"/><rect x="444.9" y="494.3" width="1.1" height="5.7" fill="#22a88c" fill-opacity="0.5"/><rect x="445.6" y="492.4" width="1.1" height="7.6" fill="#e0506e" fill-opacity="0.62"/><rect x="446.3" y="490.5" width="1.1" height="9.5" fill="#22a88c" fill-opacity="0.5"/><rect x="447.0" y="475.3" width="1.1" height="24.7" fill="#22a88c" fill-opacity="0.5"/><rect x="447.7" y="491.0" width="1.1" height="9.0" fill="#22a88c" fill-opacity="0.5"/><rect x="448.4" y="487.8" width="1.1" height="12.2" fill="#22a88c" fill-opacity="0.5"/><rect x="449.1" y="491.7" width="1.1" height="8.3" fill="#22a88c" fill-opacity="0.5"/><rect x="449.8" y="488.5" width="1.1" height="11.5" fill="#e0506e" fill-opacity="0.62"/><rect x="450.5" y="492.8" width="1.1" height="7.2" fill="#22a88c" fill-opacity="0.5"/><rect x="451.2" y="488.9" width="1.1" height="11.1" fill="#e0506e" fill-opacity="0.62"/><rect x="451.9" y="487.3" width="1.1" height="12.7" fill="#e0506e" fill-opacity="0.62"/><rect x="221.5" y="436.0" width="1.1" height="64.0" fill="#22a88c" fill-opacity="0.5"/><rect x="222.3" y="460.0" width="1.1" height="40.0" fill="#e0506e" fill-opacity="0.62"/></g>
<g><rect x="4.8" y="382.0" width="1.3" height="4.1" fill="#22e02a" fill-opacity="0.85"/><rect x="4.8" y="373.7" width="1.3" height="9.3" fill="#22e02a"/><rect x="5.4" y="372.8" width="1.3" height="9.2" fill="#e08834"/><rect x="6.0" y="373.0" width="1.3" height="11.1" fill="#e08834"/><rect x="6.6" y="373.4" width="1.3" height="10.5" fill="#e08834"/><rect x="7.2" y="382.6" width="1.3" height="4.0" fill="#e08834" fill-opacity="0.85"/><rect x="7.2" y="375.6" width="1.3" height="8.0" fill="#e08834"/><rect x="7.8" y="373.8" width="1.3" height="11.4" fill="#e08834"/><rect x="8.4" y="376.8" width="1.3" height="11.0" fill="#e08834"/><rect x="9.0" y="381.9" width="1.3" height="13.8" fill="#22e02a"/><rect x="9.6" y="386.0" width="1.3" height="12.2" fill="#e08834"/><rect x="10.2" y="387.4" width="1.3" height="15.4" fill="#e08834"/><rect x="10.8" y="388.8" width="1.3" height="14.9" fill="#e08834"/><rect x="11.4" y="388.5" width="1.3" height="8.0" fill="#e08834" fill-opacity="0.85"/><rect x="11.4" y="395.5" width="1.3" height="13.4" fill="#e08834"/><rect x="12.0" y="394.6" width="1.3" height="16.7" fill="#22e02a"/><rect x="12.6" y="404.1" width="1.3" height="12.4" fill="#22e02a"/><rect x="13.2" y="408.2" width="1.3" height="14.0" fill="#22e02a"/><rect x="13.8" y="414.4" width="1.3" height="10.2" fill="#22e02a"/><rect x="14.4" y="412.1" width="1.3" height="18.5" fill="#22e02a"/><rect x="15.0" y="423.9" width="1.3" height="13.9" fill="#e08834"/><rect x="15.6" y="415.8" width="1.3" height="8.0" fill="#e08834" fill-opacity="0.85"/><rect x="15.6" y="422.8" width="1.3" height="16.9" fill="#e08834"/><rect x="16.2" y="429.1" width="1.3" height="15.5" fill="#e08834"/><rect x="16.8" y="434.2" width="1.3" height="12.5" fill="#e08834"/><rect x="17.4" y="438.2" width="1.3" height="5.9" fill="#e08834"/><rect x="18.0" y="435.8" width="1.3" height="7.9" fill="#e08834"/><rect x="18.6" y="434.9" width="1.3" height="11.7" fill="#e08834"/><rect x="19.2" y="436.9" width="1.3" height="9.2" fill="#22e02a"/><rect x="19.8" y="435.9" width="1.3" height="8.4" fill="#22e02a"/><rect x="20.4" y="443.6" width="1.3" height="6.4" fill="#22e02a" fill-opacity="0.85"/><rect x="20.4" y="437.0" width="1.3" height="7.6" fill="#22e02a"/><rect x="21.0" y="439.2" width="1.3" height="5.2" fill="#22e02a"/><rect x="21.6" y="433.4" width="1.3" height="3.6" fill="#e08834" fill-opacity="0.85"/><rect x="21.6" y="436.1" width="1.3" height="9.7" fill="#e08834"/><rect x="22.2" y="437.6" width="1.3" height="11.4" fill="#22e02a"/><rect x="22.8" y="437.0" width="1.3" height="11.2" fill="#e08834"/><rect x="23.4" y="439.9" width="1.3" height="9.9" fill="#e08834"/><rect x="24.0" y="439.2" width="1.3" height="11.4" fill="#e08834"/><rect x="24.6" y="436.9" width="1.3" height="4.3" fill="#22e02a" fill-opacity="0.85"/><rect x="24.6" y="440.2" width="1.3" height="9.2" fill="#22e02a"/><rect x="25.2" y="442.8" width="1.3" height="9.0" fill="#e08834"/><rect x="25.8" y="451.9" width="1.3" height="7.9" fill="#e08834" fill-opacity="0.85"/><rect x="25.8" y="442.3" width="1.3" height="10.6" fill="#e08834"/><rect x="26.4" y="445.0" width="1.3" height="6.2" fill="#e08834"/><rect x="27.0" y="442.5" width="1.3" height="9.3" fill="#e08834"/><rect x="27.6" y="444.3" width="1.3" height="11.2" fill="#e08834"/><rect x="28.2" y="447.6" width="1.3" height="5.7" fill="#e08834"/><rect x="28.8" y="441.5" width="1.3" height="4.4" fill="#e08834" fill-opacity="0.85"/><rect x="28.8" y="444.9" width="1.3" height="10.3" fill="#e08834"/><rect x="29.4" y="445.5" width="1.3" height="9.2" fill="#e08834"/><rect x="30.0" y="449.3" width="1.3" height="4.4" fill="#e08834"/><rect x="30.6" y="446.2" width="1.3" height="11.8" fill="#22e02a"/><rect x="31.2" y="448.7" width="1.3" height="6.4" fill="#22e02a"/><rect x="31.8" y="449.3" width="1.3" height="6.7" fill="#e08834"/><rect x="32.4" y="449.9" width="1.3" height="5.5" fill="#e08834"/><rect x="33.0" y="445.7" width="1.3" height="9.2" fill="#22e02a"/><rect x="33.6" y="449.1" width="1.3" height="7.2" fill="#22e02a"/><rect x="34.2" y="447.2" width="1.3" height="9.5" fill="#22e02a"/><rect x="34.8" y="447.5" width="1.3" height="5.4" fill="#22e02a"/><rect x="35.4" y="447.0" width="1.3" height="6.0" fill="#22e02a"/><rect x="36.0" y="441.5" width="1.3" height="14.3" fill="#22e02a"/><rect x="36.6" y="442.7" width="1.3" height="7.5" fill="#22e02a"/><rect x="37.2" y="443.5" width="1.3" height="10.2" fill="#22e02a"/><rect x="37.8" y="439.0" width="1.3" height="11.8" fill="#22e02a"/><rect x="38.4" y="437.7" width="1.3" height="10.3" fill="#22e02a"/><rect x="39.0" y="439.5" width="1.3" height="7.5" fill="#22e02a"/><rect x="39.6" y="435.1" width="1.3" height="4.2" fill="#22e02a" fill-opacity="0.85"/><rect x="39.6" y="438.3" width="1.3" height="9.8" fill="#22e02a"/><rect x="40.2" y="434.9" width="1.3" height="10.8" fill="#22e02a"/><rect x="40.8" y="438.0" width="1.3" height="8.0" fill="#22e02a"/><rect x="41.4" y="436.3" width="1.3" height="7.4" fill="#22e02a"/><rect x="42.0" y="433.8" width="1.3" height="11.5" fill="#22e02a"/><rect x="42.6" y="434.0" width="1.3" height="7.8" fill="#22e02a"/><rect x="43.2" y="432.9" width="1.3" height="9.2" fill="#22e02a"/><rect x="43.8" y="430.6" width="1.3" height="10.3" fill="#22e02a"/><rect x="44.4" y="430.7" width="1.3" height="7.2" fill="#22e02a"/><rect x="45.0" y="428.9" width="1.3" height="7.6" fill="#22e02a"/><rect x="45.6" y="426.5" width="1.3" height="12.2" fill="#e08834"/><rect x="46.2" y="426.3" width="1.3" height="10.4" fill="#e08834"/><rect x="46.8" y="426.9" width="1.3" height="9.0" fill="#e08834"/><rect x="47.4" y="430.1" width="1.3" height="4.1" fill="#22e02a"/><rect x="48.0" y="427.8" width="1.3" height="7.8" fill="#22e02a"/><rect x="48.6" y="426.4" width="1.3" height="9.3" fill="#22e02a"/><rect x="49.2" y="435.0" width="1.3" height="4.7" fill="#22e02a" fill-opacity="0.85"/><rect x="49.2" y="426.1" width="1.3" height="9.9" fill="#22e02a"/><rect x="49.8" y="424.8" width="1.3" height="11.0" fill="#22e02a"/><rect x="50.4" y="424.5" width="1.3" height="8.1" fill="#22e02a"/><rect x="51.0" y="424.2" width="1.3" height="11.7" fill="#e08834"/><rect x="51.6" y="424.5" width="1.3" height="11.9" fill="#e08834"/><rect x="52.2" y="427.1" width="1.3" height="8.4" fill="#22e02a"/><rect x="52.8" y="432.1" width="1.3" height="4.9" fill="#e08834" fill-opacity="0.85"/><rect x="52.8" y="425.8" width="1.3" height="7.3" fill="#e08834"/><rect x="53.4" y="423.5" width="1.3" height="8.2" fill="#e08834"/><rect x="54.0" y="423.6" width="1.3" height="8.3" fill="#22e02a"/><rect x="54.6" y="425.2" width="1.3" height="8.6" fill="#22e02a"/><rect x="55.2" y="424.5" width="1.3" height="10.0" fill="#22e02a"/><rect x="55.8" y="423.8" width="1.3" height="10.1" fill="#e08834"/><rect x="56.4" y="423.2" width="1.3" height="9.2" fill="#e08834"/><rect x="57.0" y="420.8" width="1.3" height="2.8" fill="#22e02a" fill-opacity="0.85"/><rect x="57.0" y="422.6" width="1.3" height="9.3" fill="#22e02a"/><rect x="57.6" y="422.3" width="1.3" height="7.0" fill="#22e02a"/><rect x="58.2" y="422.0" width="1.3" height="8.4" fill="#22e02a"/><rect x="58.8" y="418.5" width="1.3" height="7.4" fill="#22e02a"/><rect x="59.4" y="420.1" width="1.3" height="6.0" fill="#e08834"/><rect x="60.0" y="420.9" width="1.3" height="8.2" fill="#e08834"/><rect x="60.6" y="417.8" width="1.3" height="15.4" fill="#22e02a"/><rect x="61.2" y="421.4" width="1.3" height="15.7" fill="#e08834"/><rect x="61.8" y="429.5" width="1.3" height="9.4" fill="#e08834"/><rect x="62.4" y="428.7" width="1.3" height="17.2" fill="#e08834"/><rect x="63.0" y="432.1" width="1.3" height="13.9" fill="#e08834"/><rect x="63.6" y="435.9" width="1.3" height="13.4" fill="#e08834"/><rect x="64.2" y="437.9" width="1.3" height="19.2" fill="#e08834"/><rect x="64.8" y="443.5" width="1.3" height="15.7" fill="#22e02a"/><rect x="65.4" y="437.3" width="1.3" height="5.6" fill="#e08834" fill-opacity="0.85"/><rect x="65.4" y="441.9" width="1.3" height="16.6" fill="#e08834"/><rect x="66.0" y="444.5" width="1.3" height="11.6" fill="#e08834"/><rect x="66.6" y="444.4" width="1.3" height="8.0" fill="#e08834"/><rect x="67.2" y="445.5" width="1.3" height="10.7" fill="#e08834"/><rect x="67.8" y="439.1" width="1.3" height="12.2" fill="#e08834"/><rect x="68.4" y="443.0" width="1.3" height="7.8" fill="#22e02a"/><rect x="69.0" y="441.2" width="1.3" height="9.0" fill="#22e02a"/><rect x="69.6" y="441.2" width="1.3" height="8.0" fill="#22e02a"/><rect x="70.2" y="438.6" width="1.3" height="14.7" fill="#22e02a"/><rect x="70.8" y="437.4" width="1.3" height="10.2" fill="#22e02a"/><rect x="71.4" y="446.3" width="1.3" height="7.0" fill="#22e02a" fill-opacity="0.85"/><rect x="71.4" y="439.6" width="1.3" height="7.8" fill="#22e02a"/><rect x="72.0" y="446.1" width="1.3" height="4.3" fill="#22e02a" fill-opacity="0.85"/><rect x="72.0" y="438.3" width="1.3" height="8.8" fill="#22e02a"/><rect x="72.6" y="435.6" width="1.3" height="12.3" fill="#22e02a"/><rect x="73.2" y="438.3" width="1.3" height="5.4" fill="#22e02a"/><rect x="73.8" y="436.4" width="1.3" height="8.2" fill="#22e02a"/><rect x="74.4" y="436.6" width="1.3" height="10.4" fill="#22e02a"/><rect x="75.0" y="433.0" width="1.3" height="4.3" fill="#22e02a" fill-opacity="0.85"/><rect x="75.0" y="436.4" width="1.3" height="8.8" fill="#22e02a"/><rect x="75.6" y="435.0" width="1.3" height="7.2" fill="#22e02a"/><rect x="76.2" y="441.3" width="1.3" height="4.0" fill="#22e02a" fill-opacity="0.85"/><rect x="76.2" y="433.2" width="1.3" height="9.1" fill="#22e02a"/><rect x="76.8" y="434.6" width="1.3" height="4.4" fill="#e08834"/><rect x="77.4" y="432.8" width="1.3" height="5.1" fill="#e08834"/><rect x="78.0" y="427.8" width="1.3" height="8.4" fill="#22e02a"/><rect x="78.6" y="423.8" width="1.3" height="11.5" fill="#22e02a"/><rect x="79.2" y="424.0" width="1.3" height="8.4" fill="#22e02a"/><rect x="79.8" y="411.6" width="1.3" height="6.4" fill="#22e02a" fill-opacity="0.85"/><rect x="79.8" y="417.0" width="1.3" height="10.0" fill="#22e02a"/><rect x="80.4" y="417.1" width="1.3" height="11.7" fill="#22e02a"/><rect x="81.0" y="415.1" width="1.3" height="8.9" fill="#e08834"/><rect x="81.6" y="416.6" width="1.3" height="9.4" fill="#e08834"/><rect x="82.2" y="415.6" width="1.3" height="7.7" fill="#22e02a"/><rect x="82.8" y="414.7" width="1.3" height="5.5" fill="#22e02a"/><rect x="83.4" y="410.2" width="1.3" height="12.3" fill="#22e02a"/><rect x="84.0" y="409.0" width="1.3" height="8.5" fill="#22e02a"/><rect x="84.6" y="409.0" width="1.3" height="12.3" fill="#22e02a"/><rect x="85.2" y="409.8" width="1.3" height="6.6" fill="#22e02a"/><rect x="85.8" y="415.4" width="1.3" height="6.1" fill="#22e02a" fill-opacity="0.85"/><rect x="85.8" y="408.6" width="1.3" height="7.9" fill="#22e02a"/><rect x="86.4" y="413.3" width="1.3" height="4.2" fill="#22e02a" fill-opacity="0.85"/><rect x="86.4" y="405.8" width="1.3" height="8.4" fill="#22e02a"/><rect x="87.0" y="402.6" width="1.3" height="11.9" fill="#22e02a"/><rect x="87.6" y="404.0" width="1.3" height="9.4" fill="#22e02a"/><rect x="88.2" y="399.9" width="1.3" height="10.7" fill="#22e02a"/><rect x="88.8" y="396.4" width="1.3" height="9.3" fill="#22e02a"/><rect x="89.4" y="398.6" width="1.3" height="4.7" fill="#22e02a"/><rect x="90.0" y="390.5" width="1.3" height="4.3" fill="#22e02a" fill-opacity="0.85"/><rect x="90.0" y="393.8" width="1.3" height="12.6" fill="#22e02a"/><rect x="90.6" y="395.3" width="1.3" height="6.7" fill="#22e02a"/><rect x="91.2" y="394.1" width="1.3" height="9.3" fill="#22e02a"/><rect x="91.8" y="392.0" width="1.3" height="12.3" fill="#22e02a"/><rect x="92.4" y="393.8" width="1.3" height="8.3" fill="#22e02a"/><rect x="93.0" y="392.6" width="1.3" height="11.4" fill="#22e02a"/><rect x="93.6" y="391.0" width="1.3" height="6.5" fill="#22e02a" fill-opacity="0.85"/><rect x="93.6" y="396.6" width="1.3" height="5.0" fill="#22e02a"/><rect x="94.2" y="390.2" width="1.3" height="7.6" fill="#22e02a" fill-opacity="0.85"/><rect x="94.2" y="396.9" width="1.3" height="7.2" fill="#22e02a"/><rect x="94.8" y="397.1" width="1.3" height="5.6" fill="#22e02a"/><rect x="95.4" y="392.5" width="1.3" height="12.7" fill="#22e02a"/><rect x="96.0" y="395.7" width="1.3" height="5.7" fill="#22e02a"/><rect x="96.6" y="392.3" width="1.3" height="9.0" fill="#e08834"/><rect x="97.2" y="390.2" width="1.3" height="8.2" fill="#e08834"/><rect x="97.8" y="388.6" width="1.3" height="12.1" fill="#e08834"/><rect x="98.4" y="389.3" width="1.3" height="13.1" fill="#e08834"/><rect x="99.0" y="387.1" width="1.3" height="5.3" fill="#e08834" fill-opacity="0.85"/><rect x="99.0" y="391.4" width="1.3" height="10.9" fill="#e08834"/><rect x="99.6" y="395.0" width="1.3" height="6.0" fill="#e08834"/><rect x="100.2" y="392.2" width="1.3" height="11.6" fill="#e08834"/><rect x="100.8" y="393.3" width="1.3" height="12.4" fill="#e08834"/><rect x="101.4" y="394.6" width="1.3" height="10.6" fill="#e08834"/><rect x="102.0" y="394.3" width="1.3" height="12.7" fill="#e08834"/><rect x="102.6" y="397.2" width="1.3" height="9.6" fill="#e08834"/><rect x="103.2" y="396.9" width="1.3" height="10.4" fill="#e08834"/><rect x="103.8" y="399.1" width="1.3" height="8.7" fill="#e08834"/><rect x="104.4" y="397.1" width="1.3" height="7.8" fill="#e08834"/><rect x="105.0" y="397.0" width="1.3" height="10.8" fill="#e08834"/><rect x="105.6" y="396.3" width="1.3" height="11.3" fill="#e08834"/><rect x="106.2" y="395.9" width="1.3" height="13.0" fill="#22e02a"/><rect x="106.8" y="399.3" width="1.3" height="5.1" fill="#22e02a"/><rect x="107.4" y="399.1" width="1.3" height="7.7" fill="#e08834"/><rect x="108.0" y="397.8" width="1.3" height="10.1" fill="#e08834"/><rect x="108.6" y="391.8" width="1.3" height="4.8" fill="#22e02a" fill-opacity="0.85"/><rect x="108.6" y="395.6" width="1.3" height="10.5" fill="#22e02a"/><rect x="109.2" y="398.1" width="1.3" height="8.6" fill="#22e02a"/><rect x="109.8" y="394.8" width="1.3" height="8.1" fill="#22e02a"/><rect x="110.4" y="393.8" width="1.3" height="11.4" fill="#22e02a"/><rect x="111.0" y="389.1" width="1.3" height="7.1" fill="#22e02a" fill-opacity="0.85"/><rect x="111.0" y="395.2" width="1.3" height="11.2" fill="#22e02a"/><rect x="111.6" y="407.6" width="1.3" height="4.3" fill="#e08834" fill-opacity="0.85"/><rect x="111.6" y="398.6" width="1.3" height="10.0" fill="#e08834"/><rect x="112.2" y="399.1" width="1.3" height="5.8" fill="#e08834"/><rect x="112.8" y="400.8" width="1.3" height="6.1" fill="#e08834"/><rect x="113.4" y="399.0" width="1.3" height="11.7" fill="#22e02a"/><rect x="114.0" y="398.8" width="1.3" height="5.9" fill="#22e02a" fill-opacity="0.85"/><rect x="114.0" y="403.7" width="1.3" height="7.0" fill="#22e02a"/><rect x="114.6" y="405.5" width="1.3" height="5.2" fill="#e08834"/><rect x="115.2" y="403.8" width="1.3" height="11.6" fill="#e08834"/><rect x="115.8" y="407.6" width="1.3" height="8.2" fill="#e08834"/><rect x="116.4" y="407.8" width="1.3" height="11.6" fill="#e08834"/><rect x="117.0" y="410.3" width="1.3" height="11.4" fill="#22e02a"/><rect x="117.6" y="408.6" width="1.3" height="13.9" fill="#e08834"/><rect x="118.2" y="407.6" width="1.3" height="8.8" fill="#e08834"/><rect x="118.8" y="404.1" width="1.3" height="15.9" fill="#22e02a"/><rect x="119.4" y="404.2" width="1.3" height="11.7" fill="#22e02a"/><rect x="120.0" y="400.9" width="1.3" height="11.0" fill="#22e02a"/><rect x="120.6" y="399.1" width="1.3" height="13.8" fill="#22e02a"/><rect x="121.2" y="396.4" width="1.3" height="11.8" fill="#22e02a"/><rect x="121.8" y="392.4" width="1.3" height="13.5" fill="#22e02a"/><rect x="122.4" y="392.3" width="1.3" height="10.1" fill="#22e02a"/><rect x="123.0" y="389.5" width="1.3" height="10.5" fill="#22e02a"/><rect x="123.6" y="389.2" width="1.3" height="9.2" fill="#22e02a"/><rect x="124.2" y="385.5" width="1.3" height="6.0" fill="#e08834"/><rect x="124.8" y="378.3" width="1.3" height="14.9" fill="#e08834"/><rect x="125.4" y="378.5" width="1.3" height="8.5" fill="#e08834"/><rect x="126.0" y="378.8" width="1.3" height="6.5" fill="#e08834" fill-opacity="0.85"/><rect x="126.0" y="370.2" width="1.3" height="9.5" fill="#e08834"/><rect x="126.6" y="365.6" width="1.3" height="11.3" fill="#22e02a"/><rect x="127.2" y="362.9" width="1.3" height="9.7" fill="#22e02a"/><rect x="127.8" y="359.7" width="1.3" height="12.3" fill="#22e02a"/><rect x="128.4" y="359.2" width="1.3" height="11.4" fill="#22e02a"/><rect x="129.0" y="356.0" width="1.3" height="13.2" fill="#22e02a"/><rect x="129.6" y="356.9" width="1.3" height="10.3" fill="#22e02a"/><rect x="130.2" y="353.7" width="1.3" height="10.5" fill="#22e02a"/><rect x="130.8" y="351.2" width="1.3" height="9.6" fill="#22e02a"/><rect x="131.4" y="352.0" width="1.3" height="4.7" fill="#22e02a"/><rect x="132.0" y="349.3" width="1.3" height="9.3" fill="#e08834"/><rect x="132.6" y="345.8" width="1.3" height="7.8" fill="#e08834"/><rect x="133.2" y="342.0" width="1.3" height="11.6" fill="#22e02a"/><rect x="133.8" y="338.1" width="1.3" height="7.3" fill="#e08834"/><rect x="134.4" y="331.5" width="1.3" height="12.2" fill="#22e02a"/><rect x="135.0" y="327.5" width="1.3" height="9.2" fill="#22e02a"/><rect x="135.6" y="324.6" width="1.3" height="7.5" fill="#22e02a"/><rect x="136.2" y="325.9" width="1.3" height="6.6" fill="#22e02a" fill-opacity="0.85"/><rect x="136.2" y="320.6" width="1.3" height="6.3" fill="#22e02a"/><rect x="136.8" y="315.0" width="1.3" height="8.5" fill="#22e02a"/><rect x="137.4" y="309.0" width="1.3" height="11.1" fill="#22e02a"/><rect x="138.0" y="304.1" width="1.3" height="10.1" fill="#22e02a"/><rect x="138.6" y="297.3" width="1.3" height="9.8" fill="#22e02a"/><rect x="139.2" y="296.6" width="1.3" height="5.9" fill="#e08834"/><rect x="139.8" y="305.8" width="1.3" height="5.8" fill="#e08834" fill-opacity="0.85"/><rect x="139.8" y="296.8" width="1.3" height="10.0" fill="#e08834"/><rect x="140.4" y="296.1" width="1.3" height="9.3" fill="#e08834"/><rect x="141.0" y="295.1" width="1.3" height="8.6" fill="#e08834"/><rect x="141.6" y="293.1" width="1.3" height="10.8" fill="#e08834"/><rect x="142.2" y="298.0" width="1.3" height="6.9" fill="#e08834"/><rect x="142.8" y="298.0" width="1.3" height="13.9" fill="#e08834"/><rect x="143.4" y="311.7" width="1.3" height="4.4" fill="#e08834" fill-opacity="0.85"/><rect x="143.4" y="296.8" width="1.3" height="15.9" fill="#e08834"/><rect x="144.0" y="311.1" width="1.3" height="6.6" fill="#e08834" fill-opacity="0.85"/><rect x="144.0" y="302.9" width="1.3" height="9.2" fill="#e08834"/><rect x="144.6" y="305.4" width="1.3" height="10.4" fill="#e08834"/><rect x="145.2" y="305.2" width="1.3" height="6.3" fill="#22e02a"/><rect x="145.8" y="305.4" width="1.3" height="5.4" fill="#22e02a"/><rect x="146.4" y="299.8" width="1.3" height="6.3" fill="#e08834"/><rect x="147.0" y="292.7" width="1.3" height="14.3" fill="#e08834"/><rect x="147.6" y="286.4" width="1.3" height="17.3" fill="#e08834"/><rect x="148.2" y="271.9" width="1.3" height="25.6" fill="#e08834"/><rect x="148.8" y="260.5" width="1.3" height="32.3" fill="#22e02a"/><rect x="149.4" y="259.9" width="1.3" height="17.1" fill="#22e02a"/><rect x="150.0" y="240.9" width="1.3" height="33.7" fill="#22e02a"/><rect x="150.6" y="239.7" width="1.3" height="24.2" fill="#22e02a"/><rect x="151.2" y="216.5" width="1.3" height="23.4" fill="#22e02a"/><rect x="151.8" y="219.3" width="1.3" height="23.3" fill="#22e02a"/><rect x="152.4" y="200.5" width="1.3" height="21.3" fill="#22e02a"/><rect x="153.0" y="198.6" width="1.3" height="24.2" fill="#22e02a"/><rect x="153.6" y="186.9" width="1.3" height="13.6" fill="#22e02a"/><rect x="154.2" y="177.0" width="1.3" height="27.4" fill="#e08834"/><rect x="154.8" y="172.2" width="1.3" height="18.4" fill="#e08834"/><rect x="155.4" y="149.5" width="1.3" height="8.0" fill="#e08834" fill-opacity="0.85"/><rect x="155.4" y="162.0" width="1.3" height="25.6" fill="#e08834"/><rect x="156.0" y="156.9" width="1.3" height="24.5" fill="#22e02a"/><rect x="156.6" y="158.9" width="1.3" height="21.1" fill="#22e02a"/><rect x="157.2" y="154.9" width="1.3" height="19.4" fill="#e08834"/><rect x="157.8" y="162.6" width="1.3" height="25.3" fill="#e08834"/><rect x="158.4" y="176.1" width="1.3" height="28.4" fill="#22e02a"/><rect x="159.0" y="186.7" width="1.3" height="26.7" fill="#22e02a"/><rect x="159.6" y="200.4" width="1.3" height="16.4" fill="#e08834"/><rect x="160.2" y="193.2" width="1.3" height="33.3" fill="#e08834"/><rect x="160.8" y="190.7" width="1.3" height="28.9" fill="#22e02a"/><rect x="161.4" y="204.0" width="1.3" height="24.5" fill="#22e02a"/><rect x="162.0" y="187.5" width="1.3" height="23.5" fill="#22e02a"/><rect x="162.6" y="171.4" width="1.3" height="32.7" fill="#e08834"/><rect x="163.2" y="165.2" width="1.3" height="20.3" fill="#22e02a"/><rect x="163.8" y="157.9" width="1.3" height="22.6" fill="#22e02a"/><rect x="164.4" y="131.1" width="1.3" height="8.0" fill="#22e02a" fill-opacity="0.85"/><rect x="164.4" y="144.7" width="1.3" height="30.6" fill="#22e02a"/><rect x="165.0" y="146.1" width="1.3" height="14.5" fill="#22e02a"/><rect x="165.6" y="146.3" width="1.3" height="22.3" fill="#22e02a"/><rect x="166.2" y="142.2" width="1.3" height="24.9" fill="#22e02a"/><rect x="166.8" y="155.3" width="1.3" height="26.7" fill="#e08834"/><rect x="167.4" y="154.0" width="1.3" height="16.7" fill="#e08834"/><rect x="168.0" y="162.5" width="1.3" height="25.6" fill="#e08834"/><rect x="168.6" y="160.1" width="1.3" height="25.3" fill="#e08834"/><rect x="169.2" y="158.4" width="1.3" height="25.0" fill="#e08834"/><rect x="169.8" y="159.7" width="1.3" height="25.8" fill="#e08834"/><rect x="170.4" y="157.6" width="1.3" height="28.9" fill="#22e02a"/><rect x="171.0" y="160.0" width="1.3" height="35.9" fill="#e08834"/><rect x="171.6" y="199.0" width="1.3" height="8.0" fill="#22e02a" fill-opacity="0.85"/><rect x="171.6" y="164.6" width="1.3" height="29.1" fill="#22e02a"/><rect x="172.2" y="167.9" width="1.3" height="16.4" fill="#e08834"/><rect x="172.8" y="161.8" width="1.3" height="18.9" fill="#e08834"/><rect x="173.4" y="156.5" width="1.3" height="21.1" fill="#e08834"/><rect x="174.0" y="189.7" width="1.3" height="8.0" fill="#22e02a" fill-opacity="0.85"/><rect x="174.0" y="157.6" width="1.3" height="27.3" fill="#22e02a"/><rect x="174.6" y="161.9" width="1.3" height="14.2" fill="#22e02a"/><rect x="175.2" y="156.3" width="1.3" height="26.7" fill="#22e02a"/><rect x="175.8" y="158.2" width="1.3" height="20.4" fill="#e08834"/><rect x="176.4" y="157.1" width="1.3" height="17.2" fill="#e08834"/><rect x="177.0" y="165.1" width="1.3" height="12.3" fill="#e08834"/><rect x="177.6" y="154.8" width="1.3" height="20.9" fill="#e08834"/><rect x="178.2" y="159.2" width="1.3" height="16.5" fill="#e08834"/><rect x="178.8" y="169.4" width="1.3" height="19.4" fill="#e08834"/><rect x="179.4" y="160.2" width="1.3" height="30.0" fill="#e08834"/><rect x="180.0" y="161.4" width="1.3" height="29.0" fill="#e08834"/><rect x="180.6" y="166.3" width="1.3" height="29.0" fill="#e08834"/><rect x="181.2" y="170.0" width="1.3" height="22.3" fill="#e08834"/><rect x="181.8" y="183.3" width="1.3" height="22.4" fill="#e08834"/><rect x="182.4" y="176.4" width="1.3" height="27.0" fill="#e08834"/><rect x="183.0" y="190.6" width="1.3" height="25.2" fill="#e08834"/><rect x="183.6" y="185.1" width="1.3" height="8.0" fill="#e08834" fill-opacity="0.85"/><rect x="183.6" y="197.4" width="1.3" height="24.7" fill="#e08834"/><rect x="184.2" y="198.1" width="1.3" height="18.4" fill="#e08834"/><rect x="184.8" y="189.4" width="1.3" height="27.0" fill="#e08834"/><rect x="185.4" y="198.7" width="1.3" height="17.5" fill="#e08834"/><rect x="186.0" y="190.8" width="1.3" height="22.3" fill="#e08834"/><rect x="186.6" y="193.1" width="1.3" height="27.9" fill="#e08834"/><rect x="187.2" y="193.4" width="1.3" height="28.9" fill="#e08834"/><rect x="187.8" y="196.0" width="1.3" height="31.0" fill="#e08834"/><rect x="188.4" y="196.9" width="1.3" height="34.3" fill="#e08834"/><rect x="189.0" y="204.1" width="1.3" height="29.6" fill="#e08834"/><rect x="189.6" y="211.1" width="1.3" height="15.3" fill="#e08834"/><rect x="190.2" y="198.3" width="1.3" height="32.4" fill="#e08834"/><rect x="190.8" y="209.9" width="1.3" height="22.8" fill="#22e02a"/><rect x="191.4" y="186.5" width="1.3" height="8.0" fill="#22e02a" fill-opacity="0.85"/><rect x="191.4" y="200.9" width="1.3" height="34.8" fill="#22e02a"/><rect x="192.0" y="210.1" width="1.3" height="21.9" fill="#22e02a"/><rect x="192.6" y="199.6" width="1.3" height="25.9" fill="#22e02a"/><rect x="193.2" y="209.7" width="1.3" height="16.9" fill="#22e02a"/><rect x="193.8" y="201.8" width="1.3" height="22.6" fill="#22e02a"/><rect x="194.4" y="203.4" width="1.3" height="12.5" fill="#22e02a"/><rect x="195.0" y="201.1" width="1.3" height="14.7" fill="#22e02a"/><rect x="195.6" y="195.5" width="1.3" height="18.9" fill="#22e02a"/><rect x="196.2" y="200.9" width="1.3" height="15.2" fill="#22e02a"/><rect x="196.8" y="200.3" width="1.3" height="13.4" fill="#22e02a"/><rect x="197.4" y="195.8" width="1.3" height="14.2" fill="#22e02a"/><rect x="198.0" y="198.3" width="1.3" height="9.5" fill="#e08834"/><rect x="198.6" y="196.8" width="1.3" height="13.9" fill="#e08834"/><rect x="199.2" y="197.6" width="1.3" height="16.6" fill="#e08834"/><rect x="199.8" y="202.5" width="1.3" height="13.5" fill="#e08834"/><rect x="200.4" y="202.1" width="1.3" height="12.3" fill="#e08834"/><rect x="201.0" y="203.0" width="1.3" height="14.3" fill="#e08834"/><rect x="201.6" y="203.8" width="1.3" height="20.2" fill="#22e02a"/><rect x="202.2" y="199.6" width="1.3" height="19.6" fill="#22e02a"/><rect x="202.8" y="203.2" width="1.3" height="17.6" fill="#22e02a"/><rect x="203.4" y="208.3" width="1.3" height="10.5" fill="#22e02a"/><rect x="204.0" y="202.6" width="1.3" height="17.1" fill="#22e02a"/><rect x="204.6" y="203.1" width="1.3" height="11.0" fill="#22e02a"/><rect x="205.2" y="193.8" width="1.3" height="13.6" fill="#22e02a"/><rect x="205.8" y="197.4" width="1.3" height="10.2" fill="#22e02a"/><rect x="206.4" y="190.2" width="1.3" height="19.7" fill="#22e02a"/><rect x="207.0" y="187.8" width="1.3" height="16.5" fill="#22e02a"/><rect x="207.6" y="177.2" width="1.3" height="22.6" fill="#e08834"/><rect x="208.2" y="174.3" width="1.3" height="23.9" fill="#e08834"/><rect x="208.8" y="176.8" width="1.3" height="18.2" fill="#e08834"/><rect x="209.4" y="184.2" width="1.3" height="10.7" fill="#22e02a"/><rect x="210.0" y="187.1" width="1.3" height="12.2" fill="#e08834"/><rect x="210.6" y="191.0" width="1.3" height="27.1" fill="#22e02a"/><rect x="211.2" y="196.4" width="1.3" height="26.8" fill="#e08834"/><rect x="211.8" y="192.3" width="1.3" height="28.2" fill="#e08834"/><rect x="212.4" y="208.3" width="1.3" height="16.1" fill="#e08834"/><rect x="213.0" y="206.8" width="1.3" height="18.9" fill="#e08834"/><rect x="213.6" y="213.0" width="1.3" height="14.3" fill="#e08834"/><rect x="214.2" y="213.3" width="1.3" height="16.8" fill="#e08834"/><rect x="214.8" y="214.2" width="1.3" height="27.7" fill="#e08834"/><rect x="215.4" y="215.1" width="1.3" height="31.1" fill="#e08834"/><rect x="216.0" y="216.9" width="1.3" height="24.8" fill="#e08834"/><rect x="216.6" y="212.1" width="1.3" height="26.5" fill="#e08834"/><rect x="217.2" y="224.8" width="1.3" height="16.6" fill="#e08834"/><rect x="217.8" y="233.1" width="1.3" height="20.7" fill="#e08834"/><rect x="218.4" y="227.6" width="1.3" height="23.1" fill="#e08834"/><rect x="219.0" y="234.8" width="1.3" height="15.3" fill="#e08834"/><rect x="219.6" y="242.5" width="1.3" height="20.6" fill="#e08834"/><rect x="220.2" y="237.8" width="1.3" height="18.8" fill="#e08834"/><rect x="220.8" y="241.6" width="1.3" height="18.8" fill="#e08834"/><rect x="221.4" y="243.3" width="1.3" height="23.7" fill="#e08834"/><rect x="222.0" y="251.8" width="1.3" height="21.2" fill="#e08834"/><rect x="222.6" y="250.5" width="1.3" height="18.5" fill="#e08834"/><rect x="223.2" y="251.0" width="1.3" height="31.2" fill="#e08834"/><rect x="223.8" y="258.5" width="1.3" height="20.7" fill="#22e02a"/><rect x="224.4" y="265.3" width="1.3" height="20.5" fill="#e08834"/><rect x="225.0" y="255.1" width="1.3" height="39.1" fill="#e08834"/><rect x="225.6" y="267.9" width="1.3" height="20.3" fill="#e08834"/><rect x="226.2" y="270.3" width="1.3" height="23.3" fill="#e08834"/><rect x="226.8" y="274.2" width="1.3" height="28.6" fill="#e08834"/><rect x="227.4" y="307.0" width="1.3" height="8.0" fill="#e08834" fill-opacity="0.85"/><rect x="227.4" y="279.7" width="1.3" height="28.3" fill="#e08834"/><rect x="228.0" y="282.4" width="1.3" height="25.2" fill="#e08834"/><rect x="228.6" y="285.4" width="1.3" height="27.3" fill="#e08834"/><rect x="229.2" y="286.5" width="1.3" height="27.5" fill="#e08834"/><rect x="229.8" y="314.8" width="1.3" height="8.0" fill="#22e02a" fill-opacity="0.85"/><rect x="229.8" y="287.5" width="1.3" height="28.3" fill="#22e02a"/><rect x="230.4" y="300.8" width="1.3" height="17.7" fill="#e08834"/><rect x="231.0" y="299.0" width="1.3" height="14.8" fill="#e08834"/><rect x="231.6" y="299.3" width="1.3" height="25.1" fill="#e08834"/><rect x="232.2" y="299.0" width="1.3" height="27.1" fill="#22e02a"/><rect x="232.8" y="301.3" width="1.3" height="16.5" fill="#e08834"/><rect x="233.4" y="304.0" width="1.3" height="23.7" fill="#e08834"/><rect x="234.0" y="310.8" width="1.3" height="16.4" fill="#22e02a"/><rect x="234.6" y="321.1" width="1.3" height="8.0" fill="#22e02a" fill-opacity="0.85"/><rect x="234.6" y="310.4" width="1.3" height="11.7" fill="#22e02a"/><rect x="235.2" y="307.6" width="1.3" height="14.4" fill="#e08834"/><rect x="235.8" y="310.0" width="1.3" height="22.8" fill="#22e02a"/><rect x="236.4" y="311.0" width="1.3" height="22.4" fill="#e08834"/><rect x="237.0" y="295.7" width="1.3" height="8.0" fill="#e08834" fill-opacity="0.85"/><rect x="237.0" y="302.7" width="1.3" height="22.2" fill="#e08834"/><rect x="237.6" y="305.7" width="1.3" height="22.3" fill="#e08834"/><rect x="238.2" y="306.5" width="1.3" height="23.8" fill="#e08834"/><rect x="238.8" y="309.8" width="1.3" height="21.2" fill="#e08834"/><rect x="239.4" y="315.1" width="1.3" height="24.6" fill="#22e02a"/><rect x="240.0" y="319.4" width="1.3" height="15.7" fill="#e08834"/><rect x="240.6" y="324.5" width="1.3" height="11.7" fill="#e08834"/><rect x="241.2" y="320.0" width="1.3" height="16.8" fill="#e08834"/><rect x="241.8" y="323.9" width="1.3" height="14.1" fill="#e08834"/><rect x="242.4" y="319.6" width="1.3" height="26.2" fill="#e08834"/><rect x="243.0" y="329.9" width="1.3" height="10.8" fill="#22e02a"/><rect x="243.6" y="331.9" width="1.3" height="10.6" fill="#22e02a"/><rect x="244.2" y="334.4" width="1.3" height="10.4" fill="#22e02a"/><rect x="244.8" y="332.0" width="1.3" height="20.7" fill="#22e02a"/><rect x="245.4" y="333.1" width="1.3" height="15.5" fill="#22e02a"/><rect x="246.0" y="338.7" width="1.3" height="12.1" fill="#22e02a"/><rect x="246.6" y="338.1" width="1.3" height="13.7" fill="#22e02a"/><rect x="247.2" y="339.0" width="1.3" height="14.3" fill="#22e02a"/><rect x="247.8" y="344.7" width="1.3" height="9.9" fill="#22e02a"/><rect x="248.4" y="345.9" width="1.3" height="13.0" fill="#e08834"/><rect x="249.0" y="345.7" width="1.3" height="14.4" fill="#e08834"/><rect x="249.6" y="362.5" width="1.3" height="6.8" fill="#e08834" fill-opacity="0.85"/><rect x="249.6" y="349.4" width="1.3" height="14.1" fill="#e08834"/><rect x="250.2" y="348.9" width="1.3" height="15.0" fill="#e08834"/><rect x="250.8" y="346.9" width="1.3" height="8.0" fill="#e08834" fill-opacity="0.85"/><rect x="250.8" y="353.9" width="1.3" height="13.0" fill="#e08834"/><rect x="251.4" y="357.1" width="1.3" height="9.7" fill="#e08834"/><rect x="252.0" y="357.9" width="1.3" height="10.2" fill="#e08834"/><rect x="252.6" y="356.0" width="1.3" height="4.5" fill="#e08834" fill-opacity="0.85"/><rect x="252.6" y="359.6" width="1.3" height="6.2" fill="#e08834"/><rect x="253.2" y="356.7" width="1.3" height="15.5" fill="#e08834"/><rect x="253.8" y="367.0" width="1.3" height="5.4" fill="#e08834" fill-opacity="0.85"/><rect x="253.8" y="360.3" width="1.3" height="7.7" fill="#e08834"/><rect x="254.4" y="357.7" width="1.3" height="9.7" fill="#e08834"/><rect x="255.0" y="359.9" width="1.3" height="7.0" fill="#e08834"/><rect x="255.6" y="358.0" width="1.3" height="13.0" fill="#e08834"/><rect x="256.2" y="355.9" width="1.3" height="15.5" fill="#22e02a"/><rect x="256.8" y="364.6" width="1.3" height="7.9" fill="#22e02a" fill-opacity="0.85"/><rect x="256.8" y="359.4" width="1.3" height="6.2" fill="#22e02a"/><rect x="257.4" y="357.1" width="1.3" height="7.5" fill="#e08834"/><rect x="258.0" y="356.5" width="1.3" height="7.4" fill="#e08834"/><rect x="258.6" y="352.9" width="1.3" height="10.4" fill="#22e02a"/><rect x="259.2" y="347.8" width="1.3" height="18.5" fill="#22e02a"/><rect x="259.8" y="363.8" width="1.3" height="5.9" fill="#22e02a" fill-opacity="0.85"/><rect x="259.8" y="345.0" width="1.3" height="19.8" fill="#22e02a"/><rect x="260.4" y="340.6" width="1.3" height="15.9" fill="#22e02a"/><rect x="261.0" y="346.6" width="1.3" height="9.2" fill="#22e02a"/><rect x="261.6" y="341.6" width="1.3" height="14.5" fill="#22e02a"/><rect x="262.2" y="346.1" width="1.3" height="15.3" fill="#22e02a"/><rect x="262.8" y="362.1" width="1.3" height="7.7" fill="#e08834" fill-opacity="0.85"/><rect x="262.8" y="348.9" width="1.3" height="14.2" fill="#e08834"/><rect x="263.4" y="347.3" width="1.3" height="11.4" fill="#e08834"/><rect x="264.0" y="348.8" width="1.3" height="14.1" fill="#e08834"/><rect x="264.6" y="349.7" width="1.3" height="12.4" fill="#e08834"/><rect x="265.2" y="350.1" width="1.3" height="9.6" fill="#22e02a"/><rect x="265.8" y="354.0" width="1.3" height="10.6" fill="#22e02a"/><rect x="266.4" y="352.5" width="1.3" height="12.5" fill="#22e02a"/><rect x="267.0" y="357.1" width="1.3" height="4.6" fill="#e08834"/><rect x="267.6" y="357.3" width="1.3" height="9.3" fill="#e08834"/><rect x="268.2" y="357.2" width="1.3" height="9.0" fill="#e08834"/><rect x="268.8" y="352.0" width="1.3" height="13.3" fill="#e08834"/><rect x="269.4" y="351.3" width="1.3" height="10.9" fill="#e08834"/><rect x="270.0" y="352.2" width="1.3" height="10.5" fill="#22e02a"/><rect x="270.6" y="360.3" width="1.3" height="5.5" fill="#e08834" fill-opacity="0.85"/><rect x="270.6" y="351.9" width="1.3" height="9.5" fill="#e08834"/><rect x="271.2" y="348.8" width="1.3" height="11.6" fill="#e08834"/><rect x="271.8" y="356.7" width="1.3" height="5.0" fill="#22e02a" fill-opacity="0.85"/><rect x="271.8" y="350.6" width="1.3" height="7.0" fill="#22e02a"/><rect x="272.4" y="349.3" width="1.3" height="10.1" fill="#22e02a"/><rect x="273.0" y="353.5" width="1.3" height="5.4" fill="#22e02a" fill-opacity="0.85"/><rect x="273.0" y="349.1" width="1.3" height="5.5" fill="#22e02a"/><rect x="273.6" y="348.4" width="1.3" height="8.3" fill="#22e02a"/><rect x="274.2" y="345.0" width="1.3" height="11.3" fill="#22e02a"/><rect x="274.8" y="342.3" width="1.3" height="11.7" fill="#22e02a"/><rect x="275.4" y="341.9" width="1.3" height="10.4" fill="#22e02a"/><rect x="276.0" y="342.1" width="1.3" height="9.7" fill="#22e02a"/><rect x="276.6" y="339.8" width="1.3" height="10.6" fill="#22e02a"/><rect x="277.2" y="350.8" width="1.3" height="4.6" fill="#22e02a" fill-opacity="0.85"/><rect x="277.2" y="341.5" width="1.3" height="10.2" fill="#22e02a"/><rect x="277.8" y="338.7" width="1.3" height="15.1" fill="#22e02a"/><rect x="278.4" y="337.3" width="1.3" height="15.2" fill="#22e02a"/><rect x="279.0" y="336.7" width="1.3" height="11.8" fill="#22e02a"/><rect x="279.6" y="339.7" width="1.3" height="10.2" fill="#22e02a"/><rect x="280.2" y="321.8" width="1.3" height="25.4" fill="#22e02a"/><rect x="280.8" y="304.0" width="1.3" height="40.0" fill="#22e02a"/><rect x="281.4" y="292.8" width="1.3" height="29.1" fill="#22e02a"/><rect x="282.0" y="286.3" width="1.3" height="30.6" fill="#22e02a"/><rect x="282.6" y="272.5" width="1.3" height="21.5" fill="#22e02a"/><rect x="283.2" y="270.8" width="1.3" height="12.9" fill="#22e02a"/><rect x="283.8" y="270.6" width="1.3" height="18.9" fill="#22e02a"/><rect x="284.4" y="276.5" width="1.3" height="8.9" fill="#22e02a"/><rect x="285.0" y="271.7" width="1.3" height="17.6" fill="#22e02a"/><rect x="285.6" y="274.5" width="1.3" height="16.2" fill="#22e02a"/><rect x="286.2" y="277.8" width="1.3" height="16.1" fill="#22e02a"/><rect x="286.8" y="275.3" width="1.3" height="18.5" fill="#22e02a"/><rect x="287.4" y="283.6" width="1.3" height="8.7" fill="#22e02a"/><rect x="288.0" y="285.1" width="1.3" height="13.4" fill="#22e02a"/><rect x="288.6" y="285.4" width="1.3" height="13.4" fill="#22e02a"/><rect x="289.2" y="286.8" width="1.3" height="14.1" fill="#22e02a"/><rect x="289.8" y="291.1" width="1.3" height="11.5" fill="#e08834"/><rect x="290.4" y="286.7" width="1.3" height="15.5" fill="#e08834"/><rect x="291.0" y="288.5" width="1.3" height="15.5" fill="#e08834"/><rect x="291.6" y="285.9" width="1.3" height="19.1" fill="#22e02a"/><rect x="292.2" y="285.7" width="1.3" height="17.0" fill="#e08834"/><rect x="292.8" y="288.3" width="1.3" height="10.1" fill="#e08834"/><rect x="293.4" y="283.5" width="1.3" height="13.8" fill="#e08834"/><rect x="294.0" y="286.5" width="1.3" height="12.2" fill="#22e02a"/><rect x="294.6" y="283.8" width="1.3" height="14.3" fill="#22e02a"/><rect x="295.2" y="282.4" width="1.3" height="16.3" fill="#22e02a"/><rect x="295.8" y="286.0" width="1.3" height="11.4" fill="#22e02a"/><rect x="296.4" y="293.4" width="1.3" height="6.4" fill="#22e02a" fill-opacity="0.85"/><rect x="296.4" y="283.3" width="1.3" height="11.1" fill="#22e02a"/><rect x="297.0" y="280.9" width="1.3" height="14.8" fill="#22e02a"/><rect x="297.6" y="280.2" width="1.3" height="15.3" fill="#22e02a"/><rect x="298.2" y="279.5" width="1.3" height="14.1" fill="#22e02a"/><rect x="298.8" y="281.3" width="1.3" height="8.0" fill="#22e02a"/><rect x="299.4" y="280.9" width="1.3" height="8.1" fill="#22e02a"/><rect x="300.0" y="280.1" width="1.3" height="8.1" fill="#22e02a"/><rect x="300.6" y="279.5" width="1.3" height="12.2" fill="#22e02a"/><rect x="301.2" y="276.0" width="1.3" height="8.7" fill="#22e02a"/><rect x="301.8" y="275.2" width="1.3" height="8.2" fill="#22e02a"/><rect x="302.4" y="269.1" width="1.3" height="15.4" fill="#22e02a"/><rect x="303.0" y="264.8" width="1.3" height="17.0" fill="#22e02a"/><rect x="303.6" y="265.1" width="1.3" height="11.8" fill="#22e02a"/><rect x="304.2" y="255.0" width="1.3" height="25.3" fill="#22e02a"/><rect x="304.8" y="255.8" width="1.3" height="22.9" fill="#22e02a"/><rect x="305.4" y="255.0" width="1.3" height="11.8" fill="#22e02a"/><rect x="306.0" y="261.1" width="1.3" height="8.0" fill="#e08834" fill-opacity="0.85"/><rect x="306.0" y="247.0" width="1.3" height="15.1" fill="#e08834"/><rect x="306.6" y="248.4" width="1.3" height="11.1" fill="#e08834"/><rect x="307.2" y="237.8" width="1.3" height="18.5" fill="#e08834"/><rect x="307.8" y="228.0" width="1.3" height="20.8" fill="#22e02a"/><rect x="308.4" y="223.7" width="1.3" height="19.2" fill="#e08834"/><rect x="309.0" y="213.7" width="1.3" height="23.2" fill="#e08834"/><rect x="309.6" y="217.0" width="1.3" height="17.6" fill="#e08834"/><rect x="310.2" y="213.7" width="1.3" height="19.6" fill="#e08834"/><rect x="310.8" y="203.4" width="1.3" height="30.9" fill="#e08834"/><rect x="311.4" y="209.6" width="1.3" height="28.7" fill="#e08834"/><rect x="312.0" y="215.3" width="1.3" height="12.9" fill="#e08834"/><rect x="312.6" y="208.4" width="1.3" height="30.2" fill="#e08834"/><rect x="313.2" y="210.6" width="1.3" height="30.8" fill="#e08834"/><rect x="313.8" y="207.4" width="1.3" height="8.0" fill="#e08834" fill-opacity="0.85"/><rect x="313.8" y="214.4" width="1.3" height="18.2" fill="#e08834"/><rect x="314.4" y="214.9" width="1.3" height="21.3" fill="#22e02a"/><rect x="315.0" y="222.0" width="1.3" height="15.3" fill="#22e02a"/><rect x="315.6" y="219.2" width="1.3" height="18.3" fill="#e08834"/><rect x="316.2" y="220.5" width="1.3" height="12.5" fill="#e08834"/><rect x="316.8" y="212.5" width="1.3" height="6.2" fill="#e08834" fill-opacity="0.85"/><rect x="316.8" y="217.7" width="1.3" height="23.0" fill="#e08834"/><rect x="317.4" y="222.3" width="1.3" height="12.3" fill="#e08834"/><rect x="318.0" y="218.3" width="1.3" height="22.8" fill="#e08834"/><rect x="318.6" y="221.6" width="1.3" height="16.3" fill="#22e02a"/><rect x="319.2" y="212.9" width="1.3" height="18.8" fill="#22e02a"/><rect x="319.8" y="214.1" width="1.3" height="22.6" fill="#e08834"/><rect x="320.4" y="213.2" width="1.3" height="15.8" fill="#e08834"/><rect x="321.0" y="206.4" width="1.3" height="34.1" fill="#e08834"/><rect x="321.6" y="204.6" width="1.3" height="23.2" fill="#e08834"/><rect x="322.2" y="209.3" width="1.3" height="18.1" fill="#e08834"/><rect x="322.8" y="206.1" width="1.3" height="30.7" fill="#e08834"/><rect x="323.4" y="209.1" width="1.3" height="22.1" fill="#e08834"/><rect x="324.0" y="210.3" width="1.3" height="31.4" fill="#e08834"/><rect x="324.6" y="240.1" width="1.3" height="8.0" fill="#e08834" fill-opacity="0.85"/><rect x="324.6" y="221.6" width="1.3" height="19.5" fill="#e08834"/><rect x="325.2" y="214.0" width="1.3" height="28.6" fill="#22e02a"/><rect x="325.8" y="211.9" width="1.3" height="26.2" fill="#22e02a"/><rect x="326.4" y="209.1" width="1.3" height="29.1" fill="#22e02a"/><rect x="327.0" y="206.8" width="1.3" height="21.6" fill="#e08834"/><rect x="327.6" y="212.7" width="1.3" height="19.7" fill="#e08834"/><rect x="328.2" y="210.7" width="1.3" height="19.0" fill="#22e02a"/><rect x="328.8" y="204.8" width="1.3" height="14.6" fill="#22e02a"/><rect x="329.4" y="207.1" width="1.3" height="20.7" fill="#22e02a"/><rect x="330.0" y="210.2" width="1.3" height="18.3" fill="#22e02a"/><rect x="330.6" y="207.8" width="1.3" height="21.9" fill="#22e02a"/><rect x="331.2" y="213.9" width="1.3" height="18.0" fill="#22e02a"/><rect x="331.8" y="209.0" width="1.3" height="17.6" fill="#e08834"/><rect x="332.4" y="206.0" width="1.3" height="8.0" fill="#e08834" fill-opacity="0.85"/><rect x="332.4" y="213.0" width="1.3" height="19.2" fill="#e08834"/><rect x="333.0" y="211.1" width="1.3" height="18.0" fill="#22e02a"/><rect x="333.6" y="205.0" width="1.3" height="7.1" fill="#e08834" fill-opacity="0.85"/><rect x="333.6" y="211.1" width="1.3" height="18.9" fill="#e08834"/><rect x="334.2" y="208.5" width="1.3" height="18.7" fill="#e08834"/><rect x="334.8" y="215.4" width="1.3" height="10.4" fill="#e08834"/><rect x="335.4" y="207.8" width="1.3" height="21.8" fill="#22e02a"/><rect x="336.0" y="214.7" width="1.3" height="16.7" fill="#22e02a"/><rect x="336.6" y="222.2" width="1.3" height="19.2" fill="#22e02a"/><rect x="337.2" y="228.4" width="1.3" height="22.7" fill="#e08834"/><rect x="337.8" y="229.8" width="1.3" height="8.0" fill="#22e02a" fill-opacity="0.85"/><rect x="337.8" y="236.8" width="1.3" height="16.9" fill="#22e02a"/><rect x="338.4" y="236.9" width="1.3" height="26.5" fill="#e08834"/><rect x="339.0" y="245.1" width="1.3" height="22.8" fill="#e08834"/><rect x="339.6" y="249.9" width="1.3" height="19.2" fill="#e08834"/><rect x="340.2" y="250.3" width="1.3" height="23.3" fill="#e08834"/><rect x="340.8" y="254.0" width="1.3" height="21.0" fill="#e08834"/><rect x="341.4" y="253.4" width="1.3" height="21.6" fill="#e08834"/><rect x="342.0" y="269.7" width="1.3" height="7.9" fill="#e08834" fill-opacity="0.85"/><rect x="342.0" y="256.1" width="1.3" height="14.6" fill="#e08834"/><rect x="342.6" y="272.0" width="1.3" height="8.0" fill="#e08834" fill-opacity="0.85"/><rect x="342.6" y="262.3" width="1.3" height="10.8" fill="#e08834"/><rect x="343.2" y="265.3" width="1.3" height="10.5" fill="#e08834"/><rect x="343.8" y="264.1" width="1.3" height="15.5" fill="#22e02a"/><rect x="344.4" y="264.6" width="1.3" height="16.2" fill="#22e02a"/><rect x="345.0" y="269.8" width="1.3" height="16.8" fill="#22e02a"/><rect x="345.6" y="268.1" width="1.3" height="16.1" fill="#22e02a"/><rect x="346.2" y="272.7" width="1.3" height="15.6" fill="#e08834"/><rect x="346.8" y="274.1" width="1.3" height="16.4" fill="#e08834"/><rect x="347.4" y="278.6" width="1.3" height="10.2" fill="#e08834"/><rect x="348.0" y="279.4" width="1.3" height="12.8" fill="#e08834"/><rect x="348.6" y="279.7" width="1.3" height="11.0" fill="#e08834"/><rect x="349.2" y="281.8" width="1.3" height="11.0" fill="#e08834"/><rect x="349.8" y="282.5" width="1.3" height="12.8" fill="#e08834"/><rect x="350.4" y="288.1" width="1.3" height="7.6" fill="#e08834"/><rect x="351.0" y="287.4" width="1.3" height="13.8" fill="#22e02a"/><rect x="351.6" y="282.9" width="1.3" height="6.3" fill="#22e02a" fill-opacity="0.85"/><rect x="351.6" y="288.2" width="1.3" height="11.5" fill="#22e02a"/><rect x="352.2" y="304.5" width="1.3" height="8.0" fill="#e08834" fill-opacity="0.85"/><rect x="352.2" y="291.4" width="1.3" height="14.2" fill="#e08834"/><rect x="352.8" y="291.9" width="1.3" height="13.2" fill="#e08834"/><rect x="353.4" y="294.4" width="1.3" height="15.3" fill="#e08834"/><rect x="354.0" y="299.8" width="1.3" height="16.5" fill="#e08834"/><rect x="354.6" y="304.8" width="1.3" height="9.9" fill="#e08834"/><rect x="355.2" y="307.6" width="1.3" height="21.7" fill="#22e02a"/><rect x="355.8" y="319.4" width="1.3" height="16.6" fill="#e08834"/><rect x="356.4" y="323.6" width="1.3" height="9.5" fill="#e08834"/><rect x="357.0" y="327.7" width="1.3" height="10.4" fill="#e08834"/><rect x="357.6" y="331.8" width="1.3" height="12.8" fill="#e08834"/><rect x="358.2" y="338.8" width="1.3" height="8.0" fill="#e08834" fill-opacity="0.85"/><rect x="358.2" y="327.8" width="1.3" height="12.0" fill="#e08834"/><rect x="358.8" y="328.1" width="1.3" height="9.6" fill="#e08834"/><rect x="359.4" y="322.7" width="1.3" height="13.5" fill="#22e02a"/><rect x="360.0" y="320.4" width="1.3" height="16.0" fill="#22e02a"/><rect x="360.6" y="311.9" width="1.3" height="5.4" fill="#e08834" fill-opacity="0.85"/><rect x="360.6" y="316.3" width="1.3" height="10.4" fill="#e08834"/><rect x="361.2" y="317.4" width="1.3" height="15.1" fill="#e08834"/><rect x="361.8" y="317.7" width="1.3" height="11.1" fill="#e08834"/><rect x="362.4" y="315.8" width="1.3" height="12.5" fill="#e08834"/><rect x="363.0" y="317.5" width="1.3" height="9.0" fill="#e08834"/><rect x="363.6" y="317.0" width="1.3" height="16.3" fill="#e08834"/><rect x="364.2" y="318.1" width="1.3" height="22.5" fill="#e08834"/><rect x="364.8" y="327.7" width="1.3" height="9.2" fill="#e08834"/><rect x="365.4" y="340.0" width="1.3" height="8.0" fill="#e08834" fill-opacity="0.85"/><rect x="365.4" y="328.8" width="1.3" height="12.2" fill="#e08834"/><rect x="366.0" y="323.4" width="1.3" height="19.3" fill="#e08834"/><rect x="366.6" y="328.1" width="1.3" height="18.5" fill="#e08834"/><rect x="367.2" y="323.1" width="1.3" height="25.8" fill="#e08834"/><rect x="367.8" y="324.9" width="1.3" height="20.5" fill="#e08834"/><rect x="368.4" y="329.4" width="1.3" height="18.5" fill="#e08834"/><rect x="369.0" y="327.9" width="1.3" height="24.8" fill="#e08834"/><rect x="369.6" y="346.5" width="1.3" height="7.3" fill="#e08834" fill-opacity="0.85"/><rect x="369.6" y="330.0" width="1.3" height="17.6" fill="#e08834"/><rect x="370.2" y="335.6" width="1.3" height="16.4" fill="#e08834"/><rect x="370.8" y="329.9" width="1.3" height="5.3" fill="#e08834" fill-opacity="0.85"/><rect x="370.8" y="334.2" width="1.3" height="19.8" fill="#e08834"/><rect x="371.4" y="339.2" width="1.3" height="13.2" fill="#e08834"/><rect x="372.0" y="344.0" width="1.3" height="16.5" fill="#e08834"/><rect x="372.6" y="340.5" width="1.3" height="15.5" fill="#e08834"/><rect x="373.2" y="349.5" width="1.3" height="10.2" fill="#e08834"/><rect x="373.8" y="346.5" width="1.3" height="15.6" fill="#e08834"/><rect x="374.4" y="339.0" width="1.3" height="17.2" fill="#22e02a"/><rect x="375.0" y="342.9" width="1.3" height="13.0" fill="#22e02a"/><rect x="375.6" y="342.6" width="1.3" height="10.5" fill="#22e02a"/><rect x="376.2" y="335.7" width="1.3" height="14.4" fill="#22e02a"/><rect x="376.8" y="338.1" width="1.3" height="9.8" fill="#22e02a"/><rect x="377.4" y="344.4" width="1.3" height="4.8" fill="#22e02a" fill-opacity="0.85"/><rect x="377.4" y="336.9" width="1.3" height="8.4" fill="#22e02a"/><rect x="378.0" y="333.6" width="1.3" height="11.3" fill="#22e02a"/><rect x="378.6" y="332.8" width="1.3" height="15.0" fill="#22e02a"/><rect x="379.2" y="325.3" width="1.3" height="8.0" fill="#22e02a" fill-opacity="0.85"/><rect x="379.2" y="332.3" width="1.3" height="11.4" fill="#22e02a"/><rect x="379.8" y="324.9" width="1.3" height="17.4" fill="#22e02a"/><rect x="380.4" y="324.7" width="1.3" height="19.7" fill="#22e02a"/><rect x="381.0" y="320.6" width="1.3" height="5.9" fill="#22e02a" fill-opacity="0.85"/><rect x="381.0" y="325.5" width="1.3" height="11.6" fill="#22e02a"/><rect x="381.6" y="315.4" width="1.3" height="8.0" fill="#22e02a" fill-opacity="0.85"/><rect x="381.6" y="322.4" width="1.3" height="12.4" fill="#22e02a"/><rect x="382.2" y="322.9" width="1.3" height="13.8" fill="#22e02a"/><rect x="382.8" y="323.0" width="1.3" height="11.5" fill="#22e02a"/><rect x="383.4" y="316.7" width="1.3" height="16.0" fill="#22e02a"/><rect x="384.0" y="319.1" width="1.3" height="13.0" fill="#22e02a"/><rect x="384.6" y="317.5" width="1.3" height="10.7" fill="#22e02a"/><rect x="385.2" y="306.8" width="1.3" height="8.0" fill="#22e02a" fill-opacity="0.85"/><rect x="385.2" y="313.8" width="1.3" height="13.6" fill="#22e02a"/><rect x="385.8" y="313.2" width="1.3" height="16.2" fill="#22e02a"/><rect x="386.4" y="313.7" width="1.3" height="12.8" fill="#22e02a"/><rect x="387.0" y="321.8" width="1.3" height="8.0" fill="#22e02a" fill-opacity="0.85"/><rect x="387.0" y="314.4" width="1.3" height="8.4" fill="#22e02a"/><rect x="387.6" y="315.8" width="1.3" height="7.4" fill="#22e02a"/><rect x="388.2" y="311.5" width="1.3" height="14.0" fill="#22e02a"/><rect x="388.8" y="313.7" width="1.3" height="7.7" fill="#22e02a"/><rect x="389.4" y="310.8" width="1.3" height="10.1" fill="#22e02a"/><rect x="390.0" y="308.1" width="1.3" height="12.0" fill="#e08834"/><rect x="390.6" y="305.0" width="1.3" height="9.7" fill="#e08834"/><rect x="391.2" y="303.0" width="1.3" height="14.9" fill="#22e02a"/><rect x="391.8" y="299.9" width="1.3" height="12.1" fill="#22e02a"/><rect x="392.4" y="297.5" width="1.3" height="5.4" fill="#22e02a" fill-opacity="0.85"/><rect x="392.4" y="301.9" width="1.3" height="12.0" fill="#22e02a"/><rect x="393.0" y="301.3" width="1.3" height="9.3" fill="#22e02a"/><rect x="393.6" y="300.8" width="1.3" height="7.8" fill="#e08834"/><rect x="394.2" y="296.6" width="1.3" height="7.4" fill="#22e02a"/><rect x="394.8" y="293.6" width="1.3" height="9.0" fill="#e08834"/><rect x="395.4" y="290.4" width="1.3" height="5.0" fill="#22e02a" fill-opacity="0.85"/><rect x="395.4" y="294.4" width="1.3" height="9.8" fill="#22e02a"/><rect x="396.0" y="291.4" width="1.3" height="11.3" fill="#22e02a"/><rect x="396.6" y="289.6" width="1.3" height="8.0" fill="#22e02a"/><rect x="397.2" y="294.8" width="1.3" height="8.0" fill="#22e02a" fill-opacity="0.85"/><rect x="397.2" y="289.2" width="1.3" height="6.6" fill="#22e02a"/><rect x="397.8" y="285.6" width="1.3" height="13.9" fill="#22e02a"/><rect x="398.4" y="287.7" width="1.3" height="7.7" fill="#22e02a"/><rect x="399.0" y="284.2" width="1.3" height="10.2" fill="#22e02a"/><rect x="399.6" y="288.0" width="1.3" height="10.0" fill="#e08834"/><rect x="400.2" y="286.3" width="1.3" height="11.3" fill="#e08834"/><rect x="400.8" y="299.7" width="1.3" height="5.8" fill="#e08834" fill-opacity="0.85"/><rect x="400.8" y="291.0" width="1.3" height="9.7" fill="#e08834"/><rect x="401.4" y="295.3" width="1.3" height="9.3" fill="#e08834"/><rect x="402.0" y="294.0" width="1.3" height="13.2" fill="#e08834"/><rect x="402.6" y="298.7" width="1.3" height="11.3" fill="#e08834"/><rect x="403.2" y="299.0" width="1.3" height="9.9" fill="#e08834"/><rect x="403.8" y="299.7" width="1.3" height="10.7" fill="#e08834"/><rect x="404.4" y="300.7" width="1.3" height="7.3" fill="#e08834"/><rect x="405.0" y="301.4" width="1.3" height="5.6" fill="#e08834"/><rect x="405.6" y="295.1" width="1.3" height="6.4" fill="#22e02a" fill-opacity="0.85"/><rect x="405.6" y="300.5" width="1.3" height="6.8" fill="#22e02a"/><rect x="406.2" y="298.9" width="1.3" height="8.6" fill="#22e02a"/><rect x="406.8" y="294.2" width="1.3" height="10.5" fill="#e08834"/><rect x="407.4" y="285.8" width="1.3" height="12.6" fill="#e08834"/><rect x="408.0" y="286.2" width="1.3" height="8.7" fill="#22e02a"/><rect x="408.6" y="284.2" width="1.3" height="5.0" fill="#22e02a" fill-opacity="0.85"/><rect x="408.6" y="278.0" width="1.3" height="7.2" fill="#22e02a"/><rect x="409.2" y="267.7" width="1.3" height="9.5" fill="#22e02a"/><rect x="409.8" y="254.4" width="1.3" height="12.4" fill="#22e02a"/><rect x="410.4" y="239.5" width="1.3" height="17.0" fill="#e08834"/><rect x="411.0" y="236.0" width="1.3" height="13.8" fill="#22e02a"/><rect x="411.6" y="230.1" width="1.3" height="13.7" fill="#22e02a"/><rect x="412.2" y="224.5" width="1.3" height="21.9" fill="#22e02a"/><rect x="412.8" y="225.1" width="1.3" height="21.7" fill="#22e02a"/><rect x="413.4" y="226.3" width="1.3" height="13.4" fill="#22e02a"/><rect x="414.0" y="225.6" width="1.3" height="15.4" fill="#22e02a"/><rect x="414.6" y="231.2" width="1.3" height="10.3" fill="#22e02a"/><rect x="415.2" y="229.4" width="1.3" height="11.6" fill="#22e02a"/><rect x="415.8" y="230.7" width="1.3" height="13.5" fill="#22e02a"/><rect x="416.4" y="228.2" width="1.3" height="12.3" fill="#22e02a"/><rect x="417.0" y="233.0" width="1.3" height="11.6" fill="#22e02a"/><rect x="417.6" y="229.6" width="1.3" height="15.1" fill="#e08834"/><rect x="418.2" y="228.5" width="1.3" height="10.4" fill="#22e02a"/><rect x="418.8" y="222.9" width="1.3" height="7.6" fill="#22e02a" fill-opacity="0.85"/><rect x="418.8" y="229.5" width="1.3" height="12.7" fill="#22e02a"/><rect x="419.4" y="226.4" width="1.3" height="7.0" fill="#22e02a" fill-opacity="0.85"/><rect x="419.4" y="232.4" width="1.3" height="6.0" fill="#22e02a"/><rect x="420.0" y="232.1" width="1.3" height="10.4" fill="#22e02a"/><rect x="420.6" y="230.6" width="1.3" height="11.3" fill="#e08834"/><rect x="421.2" y="229.9" width="1.3" height="8.0" fill="#22e02a"/><rect x="421.8" y="228.8" width="1.3" height="11.2" fill="#22e02a"/><rect x="422.4" y="224.3" width="1.3" height="5.5" fill="#22e02a" fill-opacity="0.85"/><rect x="422.4" y="228.8" width="1.3" height="9.5" fill="#22e02a"/><rect x="423.0" y="232.7" width="1.3" height="7.5" fill="#22e02a"/><rect x="423.6" y="232.5" width="1.3" height="5.6" fill="#22e02a"/><rect x="424.2" y="229.7" width="1.3" height="11.5" fill="#e08834"/><rect x="424.8" y="237.8" width="1.3" height="5.8" fill="#e08834" fill-opacity="0.85"/><rect x="424.8" y="230.5" width="1.3" height="8.3" fill="#e08834"/><rect x="425.4" y="231.2" width="1.3" height="7.6" fill="#e08834"/><rect x="426.0" y="232.7" width="1.3" height="5.2" fill="#e08834"/><rect x="426.6" y="230.9" width="1.3" height="5.9" fill="#e08834"/><rect x="427.2" y="239.2" width="1.3" height="6.4" fill="#e08834" fill-opacity="0.85"/><rect x="427.2" y="230.9" width="1.3" height="9.2" fill="#e08834"/><rect x="427.8" y="230.4" width="1.3" height="7.7" fill="#e08834"/><rect x="428.4" y="230.0" width="1.3" height="10.2" fill="#e08834"/><rect x="429.0" y="232.7" width="1.3" height="7.7" fill="#e08834"/><rect x="429.6" y="231.5" width="1.3" height="6.9" fill="#22e02a"/><rect x="430.2" y="228.4" width="1.3" height="9.0" fill="#22e02a"/><rect x="430.8" y="230.9" width="1.3" height="5.5" fill="#22e02a"/><rect x="431.4" y="231.5" width="1.3" height="7.6" fill="#22e02a"/><rect x="432.0" y="230.6" width="1.3" height="7.5" fill="#22e02a"/><rect x="432.6" y="231.0" width="1.3" height="7.3" fill="#22e02a"/><rect x="433.2" y="229.4" width="1.3" height="7.3" fill="#22e02a"/><rect x="433.8" y="230.5" width="1.3" height="8.1" fill="#22e02a"/><rect x="434.4" y="232.4" width="1.3" height="6.0" fill="#22e02a"/><rect x="435.0" y="232.0" width="1.3" height="7.9" fill="#22e02a"/><rect x="435.6" y="230.6" width="1.3" height="7.6" fill="#22e02a"/><rect x="436.2" y="232.6" width="1.3" height="8.5" fill="#22e02a"/><rect x="436.8" y="232.6" width="1.3" height="8.4" fill="#22e02a"/><rect x="437.4" y="229.5" width="1.3" height="10.5" fill="#22e02a"/><rect x="438.0" y="231.2" width="1.3" height="10.2" fill="#22e02a"/><rect x="438.6" y="232.3" width="1.3" height="7.5" fill="#22e02a"/><rect x="439.2" y="232.6" width="1.3" height="8.5" fill="#22e02a"/><rect x="439.8" y="231.5" width="1.3" height="9.2" fill="#22e02a"/><rect x="440.4" y="230.9" width="1.3" height="10.8" fill="#22e02a"/><rect x="441.0" y="229.5" width="1.3" height="11.5" fill="#22e02a"/><rect x="441.6" y="239.6" width="1.3" height="6.7" fill="#22e02a" fill-opacity="0.85"/><rect x="441.6" y="230.6" width="1.3" height="10.1" fill="#22e02a"/><rect x="442.2" y="229.9" width="1.3" height="9.8" fill="#22e02a"/><rect x="442.8" y="230.4" width="1.3" height="10.7" fill="#22e02a"/><rect x="443.4" y="231.8" width="1.3" height="8.1" fill="#22e02a"/><rect x="444.0" y="232.1" width="1.3" height="7.4" fill="#22e02a"/><rect x="444.6" y="232.4" width="1.3" height="7.6" fill="#22e02a"/><rect x="445.2" y="236.8" width="1.3" height="4.5" fill="#22e02a" fill-opacity="0.85"/><rect x="445.2" y="229.9" width="1.3" height="7.9" fill="#22e02a"/><rect x="445.8" y="230.6" width="1.3" height="8.0" fill="#22e02a"/><rect x="446.4" y="228.3" width="1.3" height="9.8" fill="#22e02a"/><rect x="447.0" y="232.3" width="1.3" height="7.2" fill="#22e02a"/><rect x="447.6" y="231.4" width="1.3" height="9.5" fill="#22e02a"/><rect x="448.2" y="240.3" width="1.3" height="6.3" fill="#22e02a" fill-opacity="0.85"/><rect x="448.2" y="233.6" width="1.3" height="7.7" fill="#22e02a"/><rect x="448.8" y="235.2" width="1.3" height="7.6" fill="#e08834"/><rect x="449.4" y="243.6" width="1.3" height="6.8" fill="#e08834" fill-opacity="0.85"/><rect x="449.4" y="233.2" width="1.3" height="11.4" fill="#e08834"/><rect x="450.0" y="235.1" width="1.3" height="12.4" fill="#e08834"/><rect x="450.6" y="237.2" width="1.3" height="12.3" fill="#e08834"/><rect x="451.2" y="243.1" width="1.3" height="5.7" fill="#e08834"/><rect x="451.8" y="238.6" width="1.3" height="10.7" fill="#22e02a"/><rect x="452.4" y="237.7" width="1.3" height="11.8" fill="#22e02a"/><rect x="453.0" y="240.0" width="1.3" height="6.8" fill="#22e02a"/><rect x="453.6" y="235.6" width="1.3" height="11.2" fill="#22e02a"/><rect x="454.2" y="244.8" width="1.3" height="4.3" fill="#22e02a" fill-opacity="0.85"/><rect x="454.2" y="238.6" width="1.3" height="7.3" fill="#22e02a"/><rect x="454.8" y="236.3" width="1.3" height="7.4" fill="#22e02a"/><rect x="59.6" y="412.0" width="1" height="13.0" fill="#22e02a"/><rect x="63.6" y="440.0" width="1" height="26.0" fill="#e08834"/><rect x="81.1" y="394.0" width="1" height="27.0" fill="#22e02a"/><rect x="91.1" y="385.0" width="1" height="15.0" fill="#22e02a"/><rect x="165.6" y="135.0" width="1" height="15.0" fill="#22e02a"/><rect x="208.1" y="160.0" width="1" height="30.0" fill="#22e02a"/><rect x="218.6" y="250.0" width="1" height="99.0" fill="#e08834"/><rect x="239.6" y="296.0" width="1" height="68.0" fill="#e08834"/><rect x="362.1" y="293.0" width="1" height="32.0" fill="#22e02a"/><rect x="411.6" y="217.0" width="1" height="18.0" fill="#22e02a"/><rect x="416.6" y="240.0" width="1" height="17.0" fill="#e08834"/><rect x="422.6" y="222.0" width="1" height="10.0" fill="#22e02a"/><rect x="434.3" y="219.0" width="1" height="13.0" fill="#22e02a"/><rect x="439.6" y="238.0" width="1" height="12.0" fill="#e08834"/><rect x="446.6" y="225.0" width="1" height="10.0" fill="#22e02a"/><rect x="450.6" y="245.0" width="1" height="9.0" fill="#e08834"/></g>
<g><rect x="149.6" y="235.6" width="1.9" height="11.1" fill="#22e02a"/><rect x="150.1" y="227.9" width="1.9" height="11.0" fill="#22e02a"/><rect x="150.7" y="223.8" width="0.8" height="4.1" fill="#22e02a" fill-opacity="0.7"/><rect x="150.6" y="221.1" width="1.9" height="11.1" fill="#22e02a"/><rect x="151.2" y="214.6" width="0.8" height="6.5" fill="#22e02a" fill-opacity="0.7"/><rect x="151.1" y="216.0" width="1.9" height="10.6" fill="#22e02a"/><rect x="151.7" y="212.6" width="0.8" height="3.5" fill="#22e02a" fill-opacity="0.7"/><rect x="151.6" y="208.3" width="1.9" height="12.1" fill="#22e02a"/><rect x="152.1" y="202.0" width="1.9" height="10.0" fill="#22e02a"/><rect x="152.6" y="195.8" width="1.9" height="11.1" fill="#22e02a"/><rect x="153.1" y="188.1" width="1.9" height="11.7" fill="#22e02a"/><rect x="153.6" y="182.8" width="1.9" height="10.1" fill="#22e02a"/><rect x="154.2" y="179.1" width="0.8" height="3.7" fill="#22e02a" fill-opacity="0.7"/><rect x="154.1" y="174.9" width="1.9" height="10.9" fill="#22e02a"/><rect x="154.6" y="169.2" width="1.9" height="11.3" fill="#22e02a"/><rect x="155.1" y="162.1" width="1.9" height="10.8" fill="#22e02a"/><rect x="155.6" y="154.6" width="1.9" height="11.8" fill="#22e02a"/><rect x="156.1" y="148.1" width="1.9" height="11.3" fill="#22e02a"/><rect x="156.7" y="145.5" width="0.8" height="2.6" fill="#22e02a" fill-opacity="0.7"/><rect x="156.6" y="148.8" width="1.9" height="17.4" fill="#e08834"/><rect x="157.2" y="144.2" width="0.8" height="4.6" fill="#e08834" fill-opacity="0.7"/><rect x="157.1" y="160.2" width="1.9" height="17.8" fill="#e08834"/><rect x="157.6" y="173.0" width="1.9" height="18.3" fill="#e08834"/><rect x="158.1" y="186.8" width="1.9" height="16.3" fill="#e08834"/><rect x="158.6" y="197.7" width="1.9" height="18.0" fill="#e08834"/><rect x="159.1" y="210.9" width="1.9" height="16.4" fill="#e08834"/><rect x="159.6" y="223.4" width="1.9" height="17.6" fill="#e08834"/><rect x="160.1" y="224.4" width="1.9" height="15.7" fill="#22e02a"/><rect x="160.6" y="215.5" width="1.9" height="15.0" fill="#22e02a"/><rect x="161.1" y="203.6" width="1.9" height="15.5" fill="#22e02a"/><rect x="161.6" y="194.7" width="1.9" height="14.6" fill="#22e02a"/><rect x="162.1" y="183.6" width="1.9" height="15.3" fill="#22e02a"/><rect x="162.7" y="177.0" width="0.8" height="6.5" fill="#22e02a" fill-opacity="0.7"/><rect x="162.6" y="172.9" width="1.9" height="14.7" fill="#22e02a"/><rect x="163.2" y="166.1" width="0.8" height="6.8" fill="#22e02a" fill-opacity="0.7"/><rect x="163.1" y="161.8" width="1.9" height="14.5" fill="#22e02a"/><rect x="163.6" y="152.4" width="1.9" height="14.1" fill="#22e02a"/><rect x="164.1" y="141.1" width="1.9" height="15.8" fill="#22e02a"/><rect x="164.6" y="130.5" width="1.9" height="14.9" fill="#22e02a"/><rect x="165.2" y="128.1" width="0.8" height="2.4" fill="#22e02a" fill-opacity="0.7"/><rect x="165.1" y="130.8" width="1.9" height="15.8" fill="#e08834"/><rect x="165.6" y="141.0" width="1.9" height="16.4" fill="#e08834"/><rect x="166.1" y="153.3" width="1.9" height="14.7" fill="#e08834"/><rect x="166.6" y="164.1" width="1.9" height="15.8" fill="#e08834"/><rect x="167.1" y="176.0" width="1.9" height="14.7" fill="#e08834"/><rect x="167.6" y="186.7" width="1.9" height="16.4" fill="#e08834"/><rect x="168.1" y="190.1" width="1.9" height="11.3" fill="#22e02a"/><rect x="168.7" y="186.0" width="0.8" height="4.1" fill="#22e02a" fill-opacity="0.7"/><rect x="168.6" y="180.6" width="1.9" height="14.1" fill="#22e02a"/><rect x="169.2" y="173.9" width="0.8" height="6.7" fill="#22e02a" fill-opacity="0.7"/><rect x="169.1" y="172.9" width="1.9" height="12.7" fill="#22e02a"/><rect x="169.6" y="165.4" width="1.9" height="11.0" fill="#22e02a"/><rect x="170.1" y="155.8" width="1.9" height="12.9" fill="#22e02a"/><rect x="170.6" y="147.2" width="1.9" height="13.0" fill="#22e02a"/><rect x="171.2" y="141.8" width="0.8" height="5.3" fill="#22e02a" fill-opacity="0.7"/><rect x="171.1" y="147.5" width="1.9" height="10.8" fill="#e08834"/><rect x="171.7" y="142.6" width="0.8" height="4.9" fill="#e08834" fill-opacity="0.7"/><rect x="171.6" y="155.4" width="1.9" height="10.6" fill="#e08834"/><rect x="172.1" y="161.6" width="1.9" height="10.5" fill="#e08834"/><rect x="172.7" y="158.5" width="0.8" height="3.1" fill="#e08834" fill-opacity="0.7"/><rect x="172.6" y="168.4" width="1.9" height="11.1" fill="#e08834"/><rect x="173.1" y="174.0" width="1.9" height="11.2" fill="#e08834"/><rect x="173.6" y="180.9" width="1.9" height="11.6" fill="#e08834"/><rect x="174.1" y="182.7" width="1.9" height="8.9" fill="#22e02a"/><rect x="174.6" y="177.5" width="1.9" height="9.8" fill="#22e02a"/><rect x="175.1" y="173.6" width="1.9" height="8.3" fill="#22e02a"/><rect x="175.7" y="166.5" width="0.8" height="7.1" fill="#22e02a" fill-opacity="0.7"/><rect x="175.6" y="168.8" width="1.9" height="8.3" fill="#22e02a"/><rect x="176.1" y="162.2" width="1.9" height="10.4" fill="#22e02a"/><rect x="176.6" y="158.3" width="1.9" height="9.3" fill="#22e02a"/><rect x="177.2" y="152.0" width="0.8" height="6.3" fill="#22e02a" fill-opacity="0.7"/><rect x="177.1" y="158.1" width="1.9" height="9.6" fill="#e08834"/><rect x="177.6" y="162.2" width="1.9" height="11.0" fill="#e08834"/><rect x="178.1" y="166.8" width="1.9" height="9.4" fill="#e08834"/><rect x="178.6" y="173.7" width="1.9" height="8.6" fill="#e08834"/><rect x="179.1" y="177.3" width="1.9" height="9.6" fill="#e08834"/><rect x="179.7" y="170.6" width="0.8" height="6.7" fill="#e08834" fill-opacity="0.7"/><rect x="179.6" y="182.7" width="1.9" height="10.0" fill="#e08834"/><rect x="180.1" y="178.1" width="1.9" height="14.7" fill="#22e02a"/><rect x="180.7" y="173.2" width="0.8" height="4.8" fill="#22e02a" fill-opacity="0.7"/><rect x="180.7" y="167.5" width="1.9" height="13.6" fill="#22e02a"/><rect x="181.3" y="155.3" width="1.9" height="15.9" fill="#22e02a"/><rect x="181.9" y="155.3" width="1.9" height="17.2" fill="#e08834"/><rect x="182.5" y="150.1" width="0.8" height="5.2" fill="#e08834" fill-opacity="0.7"/><rect x="182.4" y="167.6" width="1.9" height="17.1" fill="#e08834"/><rect x="183.0" y="163.7" width="0.8" height="3.9" fill="#e08834" fill-opacity="0.7"/><rect x="183.0" y="180.1" width="1.9" height="15.3" fill="#e08834"/><rect x="183.5" y="191.3" width="1.9" height="17.0" fill="#e08834"/><rect x="184.1" y="185.0" width="0.8" height="6.4" fill="#e08834" fill-opacity="0.7"/><rect x="184.0" y="204.6" width="1.9" height="16.1" fill="#e08834"/><rect x="184.6" y="202.0" width="0.8" height="2.6" fill="#e08834" fill-opacity="0.7"/><rect x="184.6" y="216.3" width="1.9" height="15.9" fill="#e08834"/><rect x="185.2" y="209.0" width="0.8" height="7.3" fill="#e08834" fill-opacity="0.7"/><rect x="185.1" y="221.1" width="1.9" height="10.7" fill="#22e02a"/><rect x="185.6" y="215.7" width="1.9" height="10.7" fill="#22e02a"/><rect x="186.2" y="208.0" width="0.8" height="7.7" fill="#22e02a" fill-opacity="0.7"/><rect x="186.1" y="209.4" width="1.9" height="10.2" fill="#22e02a"/><rect x="186.6" y="204.8" width="1.9" height="9.3" fill="#22e02a"/><rect x="187.1" y="197.8" width="1.9" height="10.1" fill="#22e02a"/><rect x="187.6" y="193.2" width="1.9" height="8.9" fill="#22e02a"/><rect x="188.1" y="193.3" width="1.9" height="13.4" fill="#e08834"/><rect x="188.7" y="189.1" width="0.8" height="4.2" fill="#e08834" fill-opacity="0.7"/><rect x="188.6" y="203.6" width="1.9" height="13.0" fill="#e08834"/><rect x="189.2" y="198.1" width="0.8" height="5.5" fill="#e08834" fill-opacity="0.7"/><rect x="189.1" y="212.9" width="1.9" height="13.9" fill="#e08834"/><rect x="189.6" y="222.3" width="1.9" height="15.4" fill="#e08834"/><rect x="190.1" y="226.1" width="1.9" height="11.7" fill="#22e02a"/><rect x="190.6" y="221.2" width="1.9" height="9.8" fill="#22e02a"/><rect x="191.2" y="213.9" width="0.8" height="7.3" fill="#22e02a" fill-opacity="0.7"/><rect x="191.1" y="215.1" width="1.9" height="9.6" fill="#22e02a"/><rect x="191.6" y="208.7" width="1.9" height="10.1" fill="#22e02a"/><rect x="192.1" y="204.2" width="1.9" height="9.8" fill="#22e02a"/><rect x="192.6" y="198.1" width="1.9" height="9.9" fill="#22e02a"/><rect x="193.1" y="198.4" width="1.9" height="8.2" fill="#e08834"/><rect x="193.6" y="201.0" width="1.9" height="8.9" fill="#e08834"/><rect x="194.1" y="207.1" width="1.9" height="7.2" fill="#e08834"/><rect x="194.7" y="204.2" width="0.8" height="2.9" fill="#e08834" fill-opacity="0.7"/><rect x="194.6" y="210.2" width="1.9" height="8.0" fill="#e08834"/><rect x="195.1" y="215.3" width="1.9" height="8.0" fill="#e08834"/><rect x="195.6" y="219.4" width="1.9" height="7.3" fill="#e08834"/><rect x="196.1" y="219.5" width="1.9" height="8.5" fill="#22e02a"/><rect x="196.6" y="216.3" width="1.9" height="8.4" fill="#22e02a"/><rect x="197.1" y="211.9" width="1.9" height="9.4" fill="#22e02a"/><rect x="197.7" y="206.6" width="0.8" height="5.3" fill="#22e02a" fill-opacity="0.7"/><rect x="197.6" y="208.6" width="1.9" height="7.9" fill="#22e02a"/><rect x="198.1" y="205.6" width="1.9" height="8.8" fill="#22e02a"/><rect x="198.6" y="203.6" width="1.9" height="7.9" fill="#22e02a"/><rect x="199.2" y="196.9" width="0.8" height="6.7" fill="#22e02a" fill-opacity="0.7"/><rect x="199.1" y="202.4" width="1.9" height="9.1" fill="#e08834"/><rect x="199.6" y="207.6" width="1.9" height="9.3" fill="#e08834"/><rect x="200.2" y="200.0" width="0.8" height="7.6" fill="#e08834" fill-opacity="0.7"/><rect x="200.1" y="212.2" width="1.9" height="9.4" fill="#e08834"/><rect x="200.6" y="216.0" width="1.9" height="9.2" fill="#e08834"/><rect x="201.1" y="222.1" width="1.9" height="8.0" fill="#e08834"/><rect x="201.7" y="215.0" width="0.8" height="7.2" fill="#e08834" fill-opacity="0.7"/><rect x="201.6" y="221.8" width="1.9" height="8.2" fill="#22e02a"/><rect x="202.1" y="217.7" width="1.9" height="9.8" fill="#22e02a"/><rect x="202.7" y="211.5" width="0.8" height="6.2" fill="#22e02a" fill-opacity="0.7"/><rect x="202.6" y="214.5" width="1.9" height="8.7" fill="#22e02a"/><rect x="203.2" y="207.0" width="0.8" height="7.5" fill="#22e02a" fill-opacity="0.7"/><rect x="203.1" y="211.5" width="1.9" height="8.1" fill="#22e02a"/><rect x="203.6" y="208.2" width="1.9" height="6.6" fill="#22e02a"/><rect x="204.1" y="208.3" width="1.9" height="7.0" fill="#e08834"/><rect x="204.7" y="200.3" width="0.8" height="8.0" fill="#e08834" fill-opacity="0.7"/><rect x="204.6" y="211.3" width="1.9" height="8.3" fill="#e08834"/><rect x="205.2" y="203.9" width="0.8" height="7.4" fill="#e08834" fill-opacity="0.7"/><rect x="205.2" y="215.5" width="1.9" height="8.9" fill="#e08834"/><rect x="205.8" y="211.0" width="0.8" height="4.5" fill="#e08834" fill-opacity="0.7"/><rect x="205.7" y="203.4" width="1.9" height="19.8" fill="#22e02a"/><rect x="206.3" y="189.7" width="1.9" height="20.0" fill="#22e02a"/><rect x="206.9" y="182.0" width="0.8" height="7.7" fill="#22e02a" fill-opacity="0.7"/><rect x="206.9" y="172.6" width="1.9" height="21.0" fill="#22e02a"/><rect x="207.5" y="166.4" width="0.8" height="6.2" fill="#22e02a" fill-opacity="0.7"/><rect x="207.5" y="157.8" width="1.9" height="19.9" fill="#22e02a"/><rect x="208.1" y="152.7" width="0.8" height="5.1" fill="#22e02a" fill-opacity="0.7"/><rect x="208.1" y="157.2" width="1.9" height="15.9" fill="#e08834"/><rect x="208.6" y="169.6" width="1.9" height="15.4" fill="#e08834"/><rect x="209.2" y="164.9" width="0.8" height="4.8" fill="#e08834" fill-opacity="0.7"/><rect x="209.1" y="180.8" width="1.9" height="16.5" fill="#e08834"/><rect x="209.6" y="192.8" width="1.9" height="16.1" fill="#e08834"/><rect x="210.1" y="205.0" width="1.9" height="14.5" fill="#e08834"/><rect x="210.6" y="216.5" width="1.9" height="14.9" fill="#e08834"/><rect x="211.1" y="225.7" width="1.9" height="7.3" fill="#22e02a"/><rect x="211.6" y="221.0" width="1.9" height="8.6" fill="#22e02a"/><rect x="212.1" y="218.3" width="1.9" height="7.5" fill="#22e02a"/><rect x="212.6" y="216.4" width="1.9" height="6.9" fill="#22e02a"/><rect x="213.1" y="215.2" width="1.9" height="9.8" fill="#e08834"/><rect x="213.6" y="220.7" width="1.9" height="11.2" fill="#e08834"/><rect x="214.1" y="227.6" width="1.9" height="8.6" fill="#e08834"/><rect x="214.7" y="221.2" width="0.8" height="6.3" fill="#e08834" fill-opacity="0.7"/><rect x="214.6" y="231.8" width="1.9" height="10.7" fill="#e08834"/></g>
<polyline points="5.5,61.4 6.4,62.7 7.3,60.4 8.2,63.4 9.1,62.1 10.0,62.0 11.0,69.1 12.0,79.8 12.8,80.7 13.6,83.1 14.4,84.6 16.0,77.4 17.0,79.0 18.0,81.4 18.8,80.9 19.6,79.1 20.4,78.1 21.2,79.4 22.0,77.4 23.0,73.4 24.0,71.8 25.0,67.8 26.0,72.2 27.0,74.6 28.0,77.4 28.8,76.3 29.6,77.2 30.4,74.3 31.2,75.1 32.0,72.6 33.0,67.6 34.0,65.9 35.0,63.0 36.0,64.9 37.0,63.9 38.0,67.0 38.8,67.2 39.6,62.7 40.4,63.5 41.2,60.6 42.0,60.6 43.5,51.0 44.3,54.3 45.2,54.4 46.0,55.8 47.0,60.6 48.0,63.0 49.0,61.1 50.0,60.0 51.0,57.4 52.0,60.0 53.0,60.3 54.0,63.0 54.8,61.2 55.6,63.1 56.4,59.7 57.2,62.1 58.0,59.8 59.0,56.2 60.0,53.4 61.0,52.6 62.0,52.6 63.0,55.8 64.0,65.5 65.0,74.7 66.0,81.4 67.0,77.1 68.0,74.0 69.0,69.4 70.0,67.1 71.0,68.4 72.0,65.4 72.8,65.5 73.7,62.7 74.5,61.6 75.3,63.5 76.2,60.2 77.0,61.4 78.0,66.7 79.0,69.4 80.0,61.9 81.0,55.0 82.0,49.4 83.0,52.1 84.0,53.5 85.0,56.6 86.0,55.5 87.0,52.5 88.0,52.6 89.0,55.3 90.0,54.0 91.0,55.8 91.8,58.8 92.6,57.6 93.4,61.8 94.2,64.1 95.0,63.8 95.8,62.4 96.6,60.0 97.4,60.4 98.2,60.5 99.0,59.0 99.8,59.5 100.7,62.4 101.5,62.2 102.3,65.3 103.2,67.9 104.0,68.6 104.8,67.2 105.6,67.1 106.4,63.7 107.2,65.4 108.0,63.0 109.0,59.9 110.0,61.5 111.0,58.2 111.8,63.2 112.6,66.0 113.4,67.4 114.2,69.5 115.0,73.4 116.0,73.6 117.0,76.0 118.0,75.8 119.0,69.4 120.0,64.7 121.0,56.6 121.8,54.5 122.6,55.6 123.4,56.6 124.2,55.1 125.0,54.2 126.0,52.2 127.0,48.3 128.0,47.8 129.0,48.8 130.0,51.7 131.0,55.0 131.8,54.7 132.6,52.5 133.4,48.1 134.2,49.0 135.0,45.4 135.8,42.9 136.7,44.5 137.5,45.3 138.3,42.1 139.2,43.8 140.0,41.4 141.0,44.7 142.0,44.9 143.0,49.4 144.0,52.5 145.0,56.7 146.0,60.6 147.0,56.9 148.0,56.2 149.0,52.6 150.0,47.8 151.0,46.8 152.0,42.2 153.0,43.3 154.0,44.2 155.0,47.8 156.0,46.8 157.0,45.4 158.0,46.6 159.0,51.0 160.1,57.1 161.1,63.9 162.2,68.6 163.0,65.6 163.8,61.6 164.6,56.5 165.4,55.0 166.2,55.9 167.0,55.0 167.8,57.4 169.0,62.8 170.2,67.0 171.0,63.7 171.8,63.6 172.6,61.4 173.4,61.9 174.2,63.0 175.0,64.6 175.8,63.8 176.6,60.4 177.4,59.0 178.2,60.6 179.0,57.4 179.8,58.9 180.6,63.0 181.4,63.8 182.5,70.9 183.5,74.9 184.6,80.6 185.4,75.2 186.2,71.0 187.0,68.6 187.8,68.8 188.6,64.4 189.4,64.6 190.5,65.7 191.5,66.9 192.6,67.8 193.4,65.7 194.2,66.6 195.0,66.2 195.8,63.8 196.6,64.2 197.4,63.0 198.2,64.9 199.0,66.2 199.8,68.6 200.9,67.7 201.9,68.7 203.0,69.4 203.8,63.4 204.6,58.3 205.4,55.0 206.5,52.4 207.5,53.3 208.6,50.2 209.4,54.2 210.2,59.8 211.0,62.2 211.8,63.2 212.6,69.8 213.4,71.0 214.2,69.6 215.0,69.5 215.8,67.0 217.0,70.5 218.2,73.4 219.0,77.1 219.8,78.2 220.6,82.2 221.4,79.0 222.2,72.4 223.0,68.7 223.8,65.4 224.9,65.4 225.9,68.7 227.0,71.0 228.1,72.4 229.1,72.8 230.2,75.0 231.0,77.4 231.8,74.9 232.6,77.7 233.4,78.2 234.5,75.8 235.5,75.9 236.6,74.2 237.4,74.1 238.2,72.6 239.0,68.8 239.8,69.4 241.0,71.2 242.2,75.0 243.0,74.6 243.8,75.3 244.6,72.6 245.4,71.6 246.2,74.7 247.0,75.8 247.8,75.8 248.9,76.5 249.9,74.1 251.0,74.2 252.1,76.8 253.1,76.7 254.2,78.2 255.3,76.7 256.3,69.8 257.4,68.6 258.2,67.6 259.0,62.6 259.8,59.8 260.6,57.4 261.8,54.2 263.0,54.2 264.2,62.0 265.4,71.8 266.2,69.1 267.0,65.3 267.8,59.6 268.6,57.4 269.8,62.4 271.0,68.6 272.1,64.5 273.1,62.1 274.2,60.6 275.0,59.2 275.8,59.3 276.6,61.5 277.4,61.3 278.2,59.0 279.0,59.1 279.8,56.8 280.6,55.8 281.6,49.8 282.7,43.8 283.6,47.3 284.5,50.2 285.4,51.0 286.2,52.4 287.0,52.3 287.8,51.0 288.6,52.6 289.8,59.1 291.0,64.6 292.1,64.9 293.1,63.6 294.2,61.4 295.3,61.9 296.3,66.5 297.4,67.8 298.2,65.4 299.0,62.9 299.8,64.4 300.6,61.5 301.4,59.0 302.2,61.0 303.0,59.5 303.8,63.3 304.6,63.0 306.2,49.4 307.0,52.2 307.8,53.2 308.6,52.6 309.6,51.2 310.5,49.1 311.5,45.4 312.3,50.1 313.2,52.7 314.0,55.8 315.2,59.5 316.4,63.8 317.2,64.3 318.0,63.3 318.8,61.4 320.0,59.3 321.2,54.2 322.0,57.7 322.8,64.6 323.6,67.0 324.8,66.7 326.0,66.2 327.2,62.8 328.4,55.8 329.2,55.9 330.0,59.0 331.2,65.7 332.4,68.6 333.2,67.7 334.0,63.6 334.8,64.0 335.6,60.6 336.7,65.1 337.7,70.6 338.8,77.4 339.9,75.6 340.9,73.1 342.0,72.6 343.1,73.1 344.1,75.3 345.2,74.2 346.3,77.1 347.3,79.3 348.4,80.6 349.2,78.8 350.0,78.9 350.8,77.6 351.6,75.0 352.7,77.1 353.7,79.4 354.8,79.0 355.9,81.6 356.9,81.3 358.0,83.0 359.1,75.7 360.1,72.4 361.2,66.2 362.0,68.6 362.8,67.7 363.6,69.4 364.8,67.0 366.0,63.8 366.8,69.1 367.6,71.8 368.7,70.3 369.7,64.5 370.8,63.8 372.0,68.6 373.2,73.4 374.0,70.9 374.8,70.8 375.6,71.8 377.2,63.0 378.0,63.4 378.8,61.1 379.6,60.6 380.8,56.6 382.0,51.8 383.2,53.6 384.4,55.8 385.2,54.9 386.0,54.1 386.8,55.0 388.0,57.6 389.2,61.4 390.3,59.3 391.3,54.9 392.4,51.0 393.2,51.5 394.0,52.0 394.8,55.0 396.0,53.7 397.2,54.2 398.0,52.2 398.8,48.6 400.0,52.0 401.2,55.8 402.0,59.6 402.8,63.4 403.6,65.4 404.8,65.5 406.0,68.6 407.2,61.3 408.4,52.6 409.2,48.6 410.0,49.5 410.8,44.7 411.6,43.8 412.7,45.6 413.7,51.0 414.8,51.8 416.0,53.2 417.2,55.8 418.0,57.5 418.8,61.4 419.9,60.3 420.9,56.5 422.0,53.4 423.2,60.6 424.4,64.6 425.2,63.0 426.0,62.2 426.8,62.8 427.6,59.8 428.7,60.6 429.7,63.4 430.8,62.2 431.9,60.4 432.9,62.5 434.0,60.6 435.2,61.2 436.4,64.6 437.2,63.6 438.0,60.5 438.8,61.4 440.0,64.1 441.2,69.4 442.0,68.2 442.8,63.4 443.6,60.6 444.8,60.6 446.0,58.2 447.2,62.4 448.4,68.6 449.4,74.0 450.5,80.6 451.4,73.8 452.4,70.2 453.2,69.2 454.0,69.2 454.8,66.7 455.6,65.4" fill="none" stroke="#eef4ff" stroke-width="1.1" stroke-linejoin="round"/>
<line x1="5" y1="89.5" x2="995" y2="89.5" stroke="#7ab6f2" stroke-width="1.5"/>
<line x1="941.5" y1="35" x2="941.5" y2="523" stroke="#a9d0f7" stroke-width="1"/>
<line x1="5" y1="500.5" x2="995" y2="500.5" stroke="#7ab6f2" stroke-width="1.3"/>
<rect x="5.5" y="35.5" width="989" height="488" fill="none" stroke="#a8c8ee" stroke-width="1"/>
<g fill="#eef8ff"><rect x="937.50" y="132.00" width="2" height="2"/><rect x="931.70" y="132.00" width="2" height="2"/><rect x="925.91" y="132.00" width="2" height="2"/><rect x="920.11" y="132.00" width="2" height="2"/><rect x="914.32" y="132.00" width="2" height="2"/><rect x="908.52" y="132.00" width="2" height="2"/><rect x="902.72" y="132.00" width="2" height="2"/><rect x="896.93" y="132.00" width="2" height="2"/><rect x="891.13" y="132.00" width="2" height="2"/><rect x="885.34" y="132.00" width="2" height="2"/><rect x="879.54" y="132.00" width="2" height="2"/><rect x="873.74" y="132.00" width="2" height="2"/><rect x="867.95" y="132.00" width="2" height="2"/><rect x="862.15" y="132.00" width="2" height="2"/><rect x="856.36" y="132.00" width="2" height="2"/><rect x="850.56" y="132.00" width="2" height="2"/><rect x="844.76" y="132.00" width="2" height="2"/><rect x="838.97" y="132.00" width="2" height="2"/><rect x="833.17" y="132.00" width="2" height="2"/><rect x="827.38" y="132.00" width="2" height="2"/><rect x="821.58" y="132.00" width="2" height="2"/><rect x="815.78" y="132.00" width="2" height="2"/><rect x="809.99" y="132.00" width="2" height="2"/><rect x="804.19" y="132.00" width="2" height="2"/><rect x="798.40" y="132.00" width="2" height="2"/><rect x="792.60" y="132.00" width="2" height="2"/><rect x="786.80" y="132.00" width="2" height="2"/><rect x="781.01" y="132.00" width="2" height="2"/><rect x="775.21" y="132.00" width="2" height="2"/><rect x="769.42" y="132.00" width="2" height="2"/><rect x="763.62" y="132.00" width="2" height="2"/><rect x="757.82" y="132.00" width="2" height="2"/><rect x="752.03" y="132.00" width="2" height="2"/><rect x="746.23" y="132.00" width="2" height="2"/><rect x="740.44" y="132.00" width="2" height="2"/><rect x="734.64" y="132.00" width="2" height="2"/><rect x="728.84" y="132.00" width="2" height="2"/><rect x="723.05" y="132.00" width="2" height="2"/><rect x="717.25" y="132.00" width="2" height="2"/><rect x="711.46" y="132.00" width="2" height="2"/><rect x="705.66" y="132.00" width="2" height="2"/><rect x="699.86" y="132.00" width="2" height="2"/><rect x="694.07" y="132.00" width="2" height="2"/><rect x="688.27" y="132.00" width="2" height="2"/><rect x="682.48" y="132.00" width="2" height="2"/><rect x="676.68" y="132.00" width="2" height="2"/><rect x="670.88" y="132.00" width="2" height="2"/><rect x="665.09" y="132.00" width="2" height="2"/><rect x="659.29" y="132.00" width="2" height="2"/><rect x="653.50" y="132.00" width="2" height="2"/><rect x="647.70" y="132.00" width="2" height="2"/><rect x="641.90" y="132.00" width="2" height="2"/><rect x="636.11" y="132.00" width="2" height="2"/><rect x="630.31" y="132.00" width="2" height="2"/><rect x="624.52" y="132.00" width="2" height="2"/><rect x="618.72" y="132.00" width="2" height="2"/><rect x="612.92" y="132.00" width="2" height="2"/><rect x="607.13" y="132.00" width="2" height="2"/><rect x="601.33" y="132.00" width="2" height="2"/><rect x="595.54" y="132.00" width="2" height="2"/><rect x="589.74" y="132.00" width="2" height="2"/><rect x="583.94" y="132.00" width="2" height="2"/><rect x="578.15" y="132.00" width="2" height="2"/><rect x="572.35" y="132.00" width="2" height="2"/><rect x="566.56" y="132.00" width="2" height="2"/><rect x="560.76" y="132.00" width="2" height="2"/><rect x="554.96" y="132.00" width="2" height="2"/><rect x="549.17" y="132.00" width="2" height="2"/><rect x="543.37" y="132.00" width="2" height="2"/><rect x="537.58" y="132.00" width="2" height="2"/><rect x="531.78" y="132.00" width="2" height="2"/><rect x="525.98" y="132.00" width="2" height="2"/><rect x="520.19" y="132.00" width="2" height="2"/><rect x="514.39" y="132.00" width="2" height="2"/><rect x="508.60" y="132.00" width="2" height="2"/><rect x="502.80" y="132.00" width="2" height="2"/><rect x="497.00" y="132.00" width="2" height="2"/><rect x="491.21" y="132.00" width="2" height="2"/><rect x="485.41" y="132.00" width="2" height="2"/><rect x="479.62" y="132.00" width="2" height="2"/><rect x="473.82" y="132.00" width="2" height="2"/><rect x="468.02" y="132.00" width="2" height="2"/><rect x="462.23" y="132.00" width="2" height="2"/><rect x="456.43" y="132.00" width="2" height="2"/><rect x="450.64" y="132.00" width="2" height="2"/><rect x="444.84" y="132.00" width="2" height="2"/><rect x="439.04" y="132.00" width="2" height="2"/><rect x="433.25" y="132.00" width="2" height="2"/><rect x="427.45" y="132.00" width="2" height="2"/><rect x="421.66" y="132.00" width="2" height="2"/><rect x="415.86" y="132.00" width="2" height="2"/><rect x="410.06" y="132.00" width="2" height="2"/><rect x="404.27" y="132.00" width="2" height="2"/><rect x="398.47" y="132.00" width="2" height="2"/><rect x="392.68" y="132.00" width="2" height="2"/><rect x="386.88" y="132.00" width="2" height="2"/><rect x="381.08" y="132.00" width="2" height="2"/><rect x="375.29" y="132.00" width="2" height="2"/><rect x="369.49" y="132.00" width="2" height="2"/><rect x="363.70" y="132.00" width="2" height="2"/><rect x="357.90" y="132.00" width="2" height="2"/><rect x="352.10" y="132.00" width="2" height="2"/><rect x="346.31" y="132.00" width="2" height="2"/><rect x="340.51" y="132.00" width="2" height="2"/><rect x="334.72" y="132.00" width="2" height="2"/><rect x="328.92" y="132.00" width="2" height="2"/><rect x="323.12" y="132.00" width="2" height="2"/><rect x="317.33" y="132.00" width="2" height="2"/><rect x="311.53" y="132.00" width="2" height="2"/><rect x="305.74" y="132.00" width="2" height="2"/><rect x="299.94" y="132.00" width="2" height="2"/><rect x="294.14" y="132.00" width="2" height="2"/><rect x="288.35" y="132.00" width="2" height="2"/><rect x="282.55" y="132.00" width="2" height="2"/><rect x="276.76" y="132.00" width="2" height="2"/><rect x="270.96" y="132.00" width="2" height="2"/><rect x="265.16" y="132.00" width="2" height="2"/><rect x="259.37" y="132.00" width="2" height="2"/><rect x="253.57" y="132.00" width="2" height="2"/><rect x="247.78" y="132.00" width="2" height="2"/><rect x="241.98" y="132.00" width="2" height="2"/><rect x="236.18" y="132.00" width="2" height="2"/><rect x="230.39" y="132.00" width="2" height="2"/><rect x="224.59" y="132.00" width="2" height="2"/><rect x="218.80" y="132.00" width="2" height="2"/><rect x="213.00" y="132.00" width="2" height="2"/><rect x="207.20" y="132.00" width="2" height="2"/><rect x="201.41" y="132.00" width="2" height="2"/><rect x="195.61" y="132.00" width="2" height="2"/></g>
<g fill="#eef8ff"><rect x="936.20" y="203.50" width="2" height="2"/><rect x="930.40" y="203.50" width="2" height="2"/><rect x="924.61" y="203.50" width="2" height="2"/><rect x="918.81" y="203.50" width="2" height="2"/><rect x="913.02" y="203.50" width="2" height="2"/><rect x="907.22" y="203.50" width="2" height="2"/><rect x="901.42" y="203.50" width="2" height="2"/><rect x="895.63" y="203.50" width="2" height="2"/><rect x="889.83" y="203.50" width="2" height="2"/><rect x="884.04" y="203.50" width="2" height="2"/><rect x="878.24" y="203.50" width="2" height="2"/><rect x="872.44" y="203.50" width="2" height="2"/><rect x="866.65" y="203.50" width="2" height="2"/><rect x="860.85" y="203.50" width="2" height="2"/><rect x="855.06" y="203.50" width="2" height="2"/><rect x="849.26" y="203.50" width="2" height="2"/><rect x="843.46" y="203.50" width="2" height="2"/><rect x="837.67" y="203.50" width="2" height="2"/><rect x="831.87" y="203.50" width="2" height="2"/><rect x="826.08" y="203.50" width="2" height="2"/><rect x="820.28" y="203.50" width="2" height="2"/><rect x="814.48" y="203.50" width="2" height="2"/><rect x="808.69" y="203.50" width="2" height="2"/><rect x="802.89" y="203.50" width="2" height="2"/><rect x="797.10" y="203.50" width="2" height="2"/><rect x="791.30" y="203.50" width="2" height="2"/><rect x="785.50" y="203.50" width="2" height="2"/><rect x="779.71" y="203.50" width="2" height="2"/><rect x="773.91" y="203.50" width="2" height="2"/><rect x="768.12" y="203.50" width="2" height="2"/><rect x="762.32" y="203.50" width="2" height="2"/><rect x="756.52" y="203.50" width="2" height="2"/><rect x="750.73" y="203.50" width="2" height="2"/><rect x="744.93" y="203.50" width="2" height="2"/><rect x="739.14" y="203.50" width="2" height="2"/><rect x="733.34" y="203.50" width="2" height="2"/><rect x="727.54" y="203.50" width="2" height="2"/><rect x="721.75" y="203.50" width="2" height="2"/><rect x="715.95" y="203.50" width="2" height="2"/><rect x="710.16" y="203.50" width="2" height="2"/><rect x="704.36" y="203.50" width="2" height="2"/><rect x="698.56" y="203.50" width="2" height="2"/><rect x="692.77" y="203.50" width="2" height="2"/><rect x="686.97" y="203.50" width="2" height="2"/><rect x="681.18" y="203.50" width="2" height="2"/><rect x="675.38" y="203.50" width="2" height="2"/><rect x="669.58" y="203.50" width="2" height="2"/><rect x="663.79" y="203.50" width="2" height="2"/><rect x="657.99" y="203.50" width="2" height="2"/><rect x="652.20" y="203.50" width="2" height="2"/><rect x="646.40" y="203.50" width="2" height="2"/><rect x="640.60" y="203.50" width="2" height="2"/><rect x="634.81" y="203.50" width="2" height="2"/><rect x="629.01" y="203.50" width="2" height="2"/><rect x="623.22" y="203.50" width="2" height="2"/><rect x="617.42" y="203.50" width="2" height="2"/><rect x="611.62" y="203.50" width="2" height="2"/><rect x="605.83" y="203.50" width="2" height="2"/><rect x="600.03" y="203.50" width="2" height="2"/><rect x="594.24" y="203.50" width="2" height="2"/><rect x="588.44" y="203.50" width="2" height="2"/><rect x="582.64" y="203.50" width="2" height="2"/><rect x="576.85" y="203.50" width="2" height="2"/><rect x="571.05" y="203.50" width="2" height="2"/><rect x="565.26" y="203.50" width="2" height="2"/><rect x="559.46" y="203.50" width="2" height="2"/><rect x="553.66" y="203.50" width="2" height="2"/><rect x="547.87" y="203.50" width="2" height="2"/><rect x="542.07" y="203.50" width="2" height="2"/><rect x="536.28" y="203.50" width="2" height="2"/><rect x="530.48" y="203.50" width="2" height="2"/><rect x="524.68" y="203.50" width="2" height="2"/><rect x="518.89" y="203.50" width="2" height="2"/><rect x="513.09" y="203.50" width="2" height="2"/><rect x="507.30" y="203.50" width="2" height="2"/><rect x="501.50" y="203.50" width="2" height="2"/><rect x="495.70" y="203.50" width="2" height="2"/><rect x="489.91" y="203.50" width="2" height="2"/><rect x="484.11" y="203.50" width="2" height="2"/><rect x="478.32" y="203.50" width="2" height="2"/><rect x="472.52" y="203.50" width="2" height="2"/><rect x="466.72" y="203.50" width="2" height="2"/><rect x="460.93" y="203.50" width="2" height="2"/><rect x="455.13" y="203.50" width="2" height="2"/><rect x="449.34" y="203.50" width="2" height="2"/><rect x="443.54" y="203.50" width="2" height="2"/><rect x="437.74" y="203.50" width="2" height="2"/><rect x="431.95" y="203.50" width="2" height="2"/><rect x="426.15" y="203.50" width="2" height="2"/><rect x="420.36" y="203.50" width="2" height="2"/><rect x="414.56" y="203.50" width="2" height="2"/><rect x="408.76" y="203.50" width="2" height="2"/><rect x="402.97" y="203.50" width="2" height="2"/><rect x="397.17" y="203.50" width="2" height="2"/><rect x="391.38" y="203.50" width="2" height="2"/><rect x="385.58" y="203.50" width="2" height="2"/><rect x="379.78" y="203.50" width="2" height="2"/><rect x="373.99" y="203.50" width="2" height="2"/><rect x="368.19" y="203.50" width="2" height="2"/><rect x="362.40" y="203.50" width="2" height="2"/><rect x="356.60" y="203.50" width="2" height="2"/><rect x="350.80" y="203.50" width="2" height="2"/><rect x="345.01" y="203.50" width="2" height="2"/><rect x="339.21" y="203.50" width="2" height="2"/><rect x="333.42" y="203.50" width="2" height="2"/><rect x="327.62" y="203.50" width="2" height="2"/><rect x="321.82" y="203.50" width="2" height="2"/></g>
<g fill="#eef8ff"><rect x="939.80" y="371.00" width="2" height="2"/><rect x="934.00" y="371.00" width="2" height="2"/><rect x="928.21" y="371.00" width="2" height="2"/><rect x="922.41" y="371.00" width="2" height="2"/><rect x="916.62" y="371.00" width="2" height="2"/><rect x="910.82" y="371.00" width="2" height="2"/><rect x="905.02" y="371.00" width="2" height="2"/><rect x="899.23" y="371.00" width="2" height="2"/><rect x="893.43" y="371.00" width="2" height="2"/><rect x="887.64" y="371.00" width="2" height="2"/><rect x="881.84" y="371.00" width="2" height="2"/><rect x="876.04" y="371.00" width="2" height="2"/><rect x="870.25" y="371.00" width="2" height="2"/><rect x="864.45" y="371.00" width="2" height="2"/><rect x="858.66" y="371.00" width="2" height="2"/><rect x="852.86" y="371.00" width="2" height="2"/><rect x="847.06" y="371.00" width="2" height="2"/><rect x="841.27" y="371.00" width="2" height="2"/><rect x="835.47" y="371.00" width="2" height="2"/><rect x="829.68" y="371.00" width="2" height="2"/><rect x="823.88" y="371.00" width="2" height="2"/><rect x="818.08" y="371.00" width="2" height="2"/><rect x="812.29" y="371.00" width="2" height="2"/><rect x="806.49" y="371.00" width="2" height="2"/><rect x="800.70" y="371.00" width="2" height="2"/><rect x="794.90" y="371.00" width="2" height="2"/><rect x="789.10" y="371.00" width="2" height="2"/><rect x="783.31" y="371.00" width="2" height="2"/><rect x="777.51" y="371.00" width="2" height="2"/><rect x="771.72" y="371.00" width="2" height="2"/><rect x="765.92" y="371.00" width="2" height="2"/><rect x="760.12" y="371.00" width="2" height="2"/><rect x="754.33" y="371.00" width="2" height="2"/><rect x="748.53" y="371.00" width="2" height="2"/><rect x="742.74" y="371.00" width="2" height="2"/><rect x="736.94" y="371.00" width="2" height="2"/><rect x="731.14" y="371.00" width="2" height="2"/><rect x="725.35" y="371.00" width="2" height="2"/><rect x="719.55" y="371.00" width="2" height="2"/><rect x="713.76" y="371.00" width="2" height="2"/><rect x="707.96" y="371.00" width="2" height="2"/><rect x="702.16" y="371.00" width="2" height="2"/><rect x="696.37" y="371.00" width="2" height="2"/><rect x="690.57" y="371.00" width="2" height="2"/><rect x="684.78" y="371.00" width="2" height="2"/><rect x="678.98" y="371.00" width="2" height="2"/><rect x="673.18" y="371.00" width="2" height="2"/><rect x="667.39" y="371.00" width="2" height="2"/><rect x="661.59" y="371.00" width="2" height="2"/><rect x="655.80" y="371.00" width="2" height="2"/><rect x="650.00" y="371.00" width="2" height="2"/><rect x="644.20" y="371.00" width="2" height="2"/><rect x="638.41" y="371.00" width="2" height="2"/><rect x="632.61" y="371.00" width="2" height="2"/><rect x="626.82" y="371.00" width="2" height="2"/><rect x="621.02" y="371.00" width="2" height="2"/><rect x="615.22" y="371.00" width="2" height="2"/><rect x="609.43" y="371.00" width="2" height="2"/><rect x="603.63" y="371.00" width="2" height="2"/><rect x="597.84" y="371.00" width="2" height="2"/><rect x="592.04" y="371.00" width="2" height="2"/><rect x="586.24" y="371.00" width="2" height="2"/><rect x="580.45" y="371.00" width="2" height="2"/><rect x="574.65" y="371.00" width="2" height="2"/><rect x="568.86" y="371.00" width="2" height="2"/><rect x="563.06" y="371.00" width="2" height="2"/><rect x="557.26" y="371.00" width="2" height="2"/><rect x="551.47" y="371.00" width="2" height="2"/><rect x="545.67" y="371.00" width="2" height="2"/><rect x="539.88" y="371.00" width="2" height="2"/><rect x="534.08" y="371.00" width="2" height="2"/><rect x="528.28" y="371.00" width="2" height="2"/><rect x="522.49" y="371.00" width="2" height="2"/><rect x="516.69" y="371.00" width="2" height="2"/><rect x="510.90" y="371.00" width="2" height="2"/><rect x="505.10" y="371.00" width="2" height="2"/><rect x="499.30" y="371.00" width="2" height="2"/><rect x="493.51" y="371.00" width="2" height="2"/><rect x="487.71" y="371.00" width="2" height="2"/><rect x="481.92" y="371.00" width="2" height="2"/><rect x="476.12" y="371.00" width="2" height="2"/><rect x="470.32" y="371.00" width="2" height="2"/><rect x="464.53" y="371.00" width="2" height="2"/><rect x="458.73" y="371.00" width="2" height="2"/><rect x="452.94" y="371.00" width="2" height="2"/><rect x="447.14" y="371.00" width="2" height="2"/><rect x="441.34" y="371.00" width="2" height="2"/><rect x="435.55" y="371.00" width="2" height="2"/><rect x="429.75" y="371.00" width="2" height="2"/><rect x="423.96" y="371.00" width="2" height="2"/><rect x="418.16" y="371.00" width="2" height="2"/><rect x="412.36" y="371.00" width="2" height="2"/><rect x="406.57" y="371.00" width="2" height="2"/><rect x="400.77" y="371.00" width="2" height="2"/><rect x="394.98" y="371.00" width="2" height="2"/><rect x="389.18" y="371.00" width="2" height="2"/><rect x="383.38" y="371.00" width="2" height="2"/><rect x="377.59" y="371.00" width="2" height="2"/><rect x="371.79" y="371.00" width="2" height="2"/><rect x="366.00" y="371.00" width="2" height="2"/><rect x="360.20" y="371.00" width="2" height="2"/><rect x="354.40" y="371.00" width="2" height="2"/><rect x="348.61" y="371.00" width="2" height="2"/><rect x="342.81" y="371.00" width="2" height="2"/><rect x="337.02" y="371.00" width="2" height="2"/><rect x="331.22" y="371.00" width="2" height="2"/><rect x="325.42" y="371.00" width="2" height="2"/><rect x="319.63" y="371.00" width="2" height="2"/><rect x="313.83" y="371.00" width="2" height="2"/><rect x="308.04" y="371.00" width="2" height="2"/><rect x="302.24" y="371.00" width="2" height="2"/><rect x="296.44" y="371.00" width="2" height="2"/><rect x="290.65" y="371.00" width="2" height="2"/><rect x="284.85" y="371.00" width="2" height="2"/><rect x="279.06" y="371.00" width="2" height="2"/><rect x="273.26" y="371.00" width="2" height="2"/><rect x="267.46" y="371.00" width="2" height="2"/><rect x="261.67" y="371.00" width="2" height="2"/><rect x="255.87" y="371.00" width="2" height="2"/><rect x="250.08" y="371.00" width="2" height="2"/></g>
<g fill="#eef8ff"><rect x="936.80" y="470.90" width="2" height="2"/><rect x="931.00" y="470.90" width="2" height="2"/><rect x="925.21" y="470.90" width="2" height="2"/><rect x="919.41" y="470.90" width="2" height="2"/><rect x="913.62" y="470.90" width="2" height="2"/><rect x="907.82" y="470.90" width="2" height="2"/><rect x="902.02" y="470.90" width="2" height="2"/><rect x="896.23" y="470.90" width="2" height="2"/><rect x="890.43" y="470.90" width="2" height="2"/><rect x="884.64" y="470.90" width="2" height="2"/><rect x="878.84" y="470.90" width="2" height="2"/><rect x="873.04" y="470.90" width="2" height="2"/><rect x="867.25" y="470.90" width="2" height="2"/><rect x="861.45" y="470.90" width="2" height="2"/><rect x="855.66" y="470.90" width="2" height="2"/><rect x="849.86" y="470.90" width="2" height="2"/><rect x="844.06" y="470.90" width="2" height="2"/><rect x="838.27" y="470.90" width="2" height="2"/><rect x="832.47" y="470.90" width="2" height="2"/><rect x="826.68" y="470.90" width="2" height="2"/><rect x="820.88" y="470.90" width="2" height="2"/><rect x="815.08" y="470.90" width="2" height="2"/><rect x="809.29" y="470.90" width="2" height="2"/><rect x="803.49" y="470.90" width="2" height="2"/><rect x="797.70" y="470.90" width="2" height="2"/><rect x="791.90" y="470.90" width="2" height="2"/><rect x="786.10" y="470.90" width="2" height="2"/><rect x="780.31" y="470.90" width="2" height="2"/><rect x="774.51" y="470.90" width="2" height="2"/><rect x="768.72" y="470.90" width="2" height="2"/><rect x="762.92" y="470.90" width="2" height="2"/><rect x="757.12" y="470.90" width="2" height="2"/><rect x="751.33" y="470.90" width="2" height="2"/><rect x="745.53" y="470.90" width="2" height="2"/><rect x="739.74" y="470.90" width="2" height="2"/><rect x="733.94" y="470.90" width="2" height="2"/><rect x="728.14" y="470.90" width="2" height="2"/><rect x="722.35" y="470.90" width="2" height="2"/><rect x="716.55" y="470.90" width="2" height="2"/><rect x="710.76" y="470.90" width="2" height="2"/><rect x="704.96" y="470.90" width="2" height="2"/><rect x="699.16" y="470.90" width="2" height="2"/><rect x="693.37" y="470.90" width="2" height="2"/><rect x="687.57" y="470.90" width="2" height="2"/><rect x="681.78" y="470.90" width="2" height="2"/><rect x="675.98" y="470.90" width="2" height="2"/><rect x="670.18" y="470.90" width="2" height="2"/><rect x="664.39" y="470.90" width="2" height="2"/><rect x="658.59" y="470.90" width="2" height="2"/><rect x="652.80" y="470.90" width="2" height="2"/><rect x="647.00" y="470.90" width="2" height="2"/><rect x="641.20" y="470.90" width="2" height="2"/><rect x="635.41" y="470.90" width="2" height="2"/><rect x="629.61" y="470.90" width="2" height="2"/><rect x="623.82" y="470.90" width="2" height="2"/><rect x="618.02" y="470.90" width="2" height="2"/><rect x="612.22" y="470.90" width="2" height="2"/><rect x="606.43" y="470.90" width="2" height="2"/><rect x="600.63" y="470.90" width="2" height="2"/><rect x="594.84" y="470.90" width="2" height="2"/><rect x="589.04" y="470.90" width="2" height="2"/><rect x="583.24" y="470.90" width="2" height="2"/><rect x="577.45" y="470.90" width="2" height="2"/><rect x="571.65" y="470.90" width="2" height="2"/><rect x="565.86" y="470.90" width="2" height="2"/><rect x="560.06" y="470.90" width="2" height="2"/><rect x="554.26" y="470.90" width="2" height="2"/><rect x="548.47" y="470.90" width="2" height="2"/><rect x="542.67" y="470.90" width="2" height="2"/><rect x="536.88" y="470.90" width="2" height="2"/><rect x="531.08" y="470.90" width="2" height="2"/><rect x="525.28" y="470.90" width="2" height="2"/><rect x="519.49" y="470.90" width="2" height="2"/><rect x="513.69" y="470.90" width="2" height="2"/><rect x="507.90" y="470.90" width="2" height="2"/><rect x="502.10" y="470.90" width="2" height="2"/><rect x="496.30" y="470.90" width="2" height="2"/><rect x="490.51" y="470.90" width="2" height="2"/><rect x="484.71" y="470.90" width="2" height="2"/><rect x="478.92" y="470.90" width="2" height="2"/><rect x="473.12" y="470.90" width="2" height="2"/><rect x="467.32" y="470.90" width="2" height="2"/><rect x="461.53" y="470.90" width="2" height="2"/><rect x="455.73" y="470.90" width="2" height="2"/><rect x="449.94" y="470.90" width="2" height="2"/><rect x="444.14" y="470.90" width="2" height="2"/><rect x="438.34" y="470.90" width="2" height="2"/><rect x="432.55" y="470.90" width="2" height="2"/><rect x="426.75" y="470.90" width="2" height="2"/><rect x="420.96" y="470.90" width="2" height="2"/><rect x="415.16" y="470.90" width="2" height="2"/><rect x="409.36" y="470.90" width="2" height="2"/><rect x="403.57" y="470.90" width="2" height="2"/><rect x="397.77" y="470.90" width="2" height="2"/><rect x="391.98" y="470.90" width="2" height="2"/><rect x="386.18" y="470.90" width="2" height="2"/><rect x="380.38" y="470.90" width="2" height="2"/><rect x="374.59" y="470.90" width="2" height="2"/><rect x="368.79" y="470.90" width="2" height="2"/><rect x="363.00" y="470.90" width="2" height="2"/><rect x="357.20" y="470.90" width="2" height="2"/><rect x="351.40" y="470.90" width="2" height="2"/><rect x="345.61" y="470.90" width="2" height="2"/><rect x="339.81" y="470.90" width="2" height="2"/><rect x="334.02" y="470.90" width="2" height="2"/><rect x="328.22" y="470.90" width="2" height="2"/><rect x="322.42" y="470.90" width="2" height="2"/><rect x="316.63" y="470.90" width="2" height="2"/><rect x="310.83" y="470.90" width="2" height="2"/><rect x="305.04" y="470.90" width="2" height="2"/><rect x="299.24" y="470.90" width="2" height="2"/><rect x="293.44" y="470.90" width="2" height="2"/><rect x="287.65" y="470.90" width="2" height="2"/><rect x="281.85" y="470.90" width="2" height="2"/><rect x="276.06" y="470.90" width="2" height="2"/><rect x="270.26" y="470.90" width="2" height="2"/><rect x="264.46" y="470.90" width="2" height="2"/><rect x="258.67" y="470.90" width="2" height="2"/><rect x="252.87" y="470.90" width="2" height="2"/><rect x="247.08" y="470.90" width="2" height="2"/><rect x="241.28" y="470.90" width="2" height="2"/><rect x="235.48" y="470.90" width="2" height="2"/><rect x="229.69" y="470.90" width="2" height="2"/><rect x="223.89" y="470.90" width="2" height="2"/><rect x="218.10" y="470.90" width="2" height="2"/><rect x="212.30" y="470.90" width="2" height="2"/><rect x="206.50" y="470.90" width="2" height="2"/><rect x="200.71" y="470.90" width="2" height="2"/></g>
<g fill="#cfe8ff"><rect x="352.40" y="237.60" width="1.6" height="1.6"/><rect x="348.45" y="237.60" width="1.6" height="1.6"/><rect x="344.50" y="237.60" width="1.6" height="1.6"/><rect x="340.55" y="237.60" width="1.6" height="1.6"/><rect x="336.60" y="237.60" width="1.6" height="1.6"/><rect x="332.65" y="237.60" width="1.6" height="1.6"/><rect x="328.70" y="237.60" width="1.6" height="1.6"/><rect x="324.75" y="237.60" width="1.6" height="1.6"/><rect x="320.80" y="237.60" width="1.6" height="1.6"/><rect x="316.85" y="237.60" width="1.6" height="1.6"/><rect x="312.90" y="237.60" width="1.6" height="1.6"/><rect x="308.95" y="237.60" width="1.6" height="1.6"/><rect x="305.00" y="237.60" width="1.6" height="1.6"/><rect x="301.05" y="237.60" width="1.6" height="1.6"/></g>
<g fill="#cfe8ff"><rect x="335.20" y="203.70" width="1.6" height="1.6"/><rect x="331.10" y="203.70" width="1.6" height="1.6"/><rect x="327.00" y="203.70" width="1.6" height="1.6"/><rect x="322.90" y="203.70" width="1.6" height="1.6"/><rect x="318.80" y="203.70" width="1.6" height="1.6"/><rect x="314.70" y="203.70" width="1.6" height="1.6"/><rect x="310.60" y="203.70" width="1.6" height="1.6"/><rect x="306.50" y="203.70" width="1.6" height="1.6"/><rect x="302.40" y="203.70" width="1.6" height="1.6"/><rect x="298.30" y="203.70" width="1.6" height="1.6"/></g>
<line x1="149.5" y1="150.7" x2="180.5" y2="150.7" stroke="#d8904a" stroke-width="1"/>
<line x1="149.8" y1="232.2" x2="179.2" y2="232.2" stroke="#e8f2ff" stroke-width="1"/>
<line x1="149" y1="277.8" x2="179" y2="277.8" stroke="#e8f2ff" stroke-width="1"/>
<line x1="336" y1="364.9" x2="426.2" y2="364.9" stroke="#b8d8f8" stroke-width="1"/>
<line x1="164.8" y1="129" x2="180.7" y2="156.7" stroke="#ffffff" stroke-width="1.3" stroke-linecap="round"/>
<line x1="180.7" y1="156.7" x2="161.3" y2="238.5" stroke="#ffffff" stroke-width="1.3" stroke-linecap="round"/>
<line x1="151.4" y1="222.7" x2="158.4" y2="187" stroke="#ffffff" stroke-width="1.3" stroke-linecap="round"/>
<line x1="150.4" y1="187" x2="158.4" y2="187" stroke="#ffffff" stroke-width="1.3" stroke-linecap="round"/>
<line x1="186.6" y1="180.5" x2="204.5" y2="206.3" stroke="#ffffff" stroke-width="1.3" stroke-linecap="round"/>
<line x1="204.5" y1="210.8" x2="183.2" y2="239.1" stroke="#ffffff" stroke-width="1.3" stroke-linecap="round"/>
<rect x="370.6" y="362.6" width="31.5" height="9.5" fill="#0e2e55" stroke="#d8e8f8" stroke-width="1"/>
<path d="M423.9,210.6 L426.6,197 L460.5,239.5" fill="none" stroke="#ffffff" stroke-width="2" stroke-dasharray="2 3" stroke-linecap="butt"/>
<path d="M450.5,238 L460.5,239.5 L463.5,229.5" fill="none" stroke="#ffffff" stroke-width="2" stroke-dasharray="2 3" stroke-linecap="butt"/>
<path d="M529.8,358 L530.6,367.7 Q534,377 539.5,377.5 Q542,377 544.4,375 L576.1,323" fill="none" stroke="#ffffff" stroke-width="2" stroke-dasharray="2 3" stroke-linecap="butt"/>
<path d="M566.3,326 L576.1,323 L580.5,333" fill="none" stroke="#ffffff" stroke-width="2" stroke-dasharray="2 3" stroke-linecap="butt"/>
<path d="M389.1,358 L399.6,330.6" fill="none" stroke="#ffffff" stroke-width="2" stroke-dasharray="2 3" stroke-linecap="butt"/>
<path d="M390.5,334.8 L399.6,330.6 L405,339.5" fill="none" stroke="#ffffff" stroke-width="2" stroke-dasharray="2 3" stroke-linecap="butt"/>
<text x="5.2" y="14.0" fill="#e4e6ec" text-anchor="start" style="font-family:'Liberation Sans', Arial, sans-serif;font-size:11px;font-weight:bold;" textLength="41.6" lengthAdjust="spacingAndGlyphs">xlubecx1</text>
<text x="50.6" y="14.0" fill="#c3c6ce" text-anchor="start" style="font-family:'Liberation Sans', Arial, sans-serif;font-size:11px;font-weight:normal;" textLength="278.3" lengthAdjust="spacingAndGlyphs">published on TradingView.com, June 17, 2020 13:38:56 UTC</text>
<text x="5.8" y="28.2" fill="#e4e6ec" text-anchor="start" style="font-family:'Liberation Sans', Arial, sans-serif;font-size:10.5px;font-weight:bold;" textLength="107.0" lengthAdjust="spacingAndGlyphs">BINANCE:ETHBTC, 240</text>
<text x="117.1" y="28.2" fill="#c3c6ce" text-anchor="start" style="font-family:'Liberation Sans', Arial, sans-serif;font-size:10.5px;font-weight:normal;" textLength="43.0" lengthAdjust="spacingAndGlyphs">0.024733</text>
<polygon points="164.3,27.6 170.5,27.6 167.4,20.8" fill="#26a69a"/>
<text x="174.5" y="28.2" fill="#c3c6ce" text-anchor="start" style="font-family:'Liberation Sans', Arial, sans-serif;font-size:10.5px;font-weight:normal;" textLength="92.6" lengthAdjust="spacingAndGlyphs">+0.000031 (+0.13%)</text>
<text x="271.5" y="28.2" fill="#e4e6ec" text-anchor="start" style="font-family:'Liberation Sans', Arial, sans-serif;font-size:10.5px;font-weight:bold;" textLength="9.7" lengthAdjust="spacingAndGlyphs">O:</text>
<text x="282.0" y="28.2" fill="#26a69a" text-anchor="start" style="font-family:'Liberation Sans', Arial, sans-serif;font-size:10.5px;font-weight:normal;" textLength="44.0" lengthAdjust="spacingAndGlyphs">0.024659</text>
<text x="329.8" y="28.2" fill="#e4e6ec" text-anchor="start" style="font-family:'Liberation Sans', Arial, sans-serif;font-size:10.5px;font-weight:bold;" textLength="9.2" lengthAdjust="spacingAndGlyphs">H:</text>
<text x="340.0" y="28.2" fill="#26a69a" text-anchor="start" style="font-family:'Liberation Sans', Arial, sans-serif;font-size:10.5px;font-weight:normal;" textLength="44.4" lengthAdjust="spacingAndGlyphs">0.024850</text>
<text x="387.8" y="28.2" fill="#e4e6ec" text-anchor="start" style="font-family:'Liberation Sans', Arial, sans-serif;font-size:10.5px;font-weight:bold;" textLength="8.2" lengthAdjust="spacingAndGlyphs">L:</text>
<text x="396.5" y="28.2" fill="#26a69a" text-anchor="start" style="font-family:'Liberation Sans', Arial, sans-serif;font-size:10.5px;font-weight:normal;" textLength="43.8" lengthAdjust="spacingAndGlyphs">0.024626</text>
<text x="443.9" y="28.2" fill="#e4e6ec" text-anchor="start" style="font-family:'Liberation Sans', Arial, sans-serif;font-size:10.5px;font-weight:bold;" textLength="9.1" lengthAdjust="spacingAndGlyphs">C:</text>
<text x="454.0" y="28.2" fill="#26a69a" text-anchor="start" style="font-family:'Liberation Sans', Arial, sans-serif;font-size:10.5px;font-weight:normal;" textLength="43.9" lengthAdjust="spacingAndGlyphs">0.024715</text>
<text x="11.8" y="107.0" fill="#eef4fc" text-anchor="start" style="font-family:'Liberation Sans', Arial, sans-serif;font-size:10.5px;font-weight:bold;" textLength="219.8" lengthAdjust="spacingAndGlyphs">Ethereum / Bitcoin, 4h, BINANCE, Heikin Ashi</text>
<text x="11.8" y="120.5" fill="#c8dcf4" text-anchor="start" style="font-family:'Liberation Sans', Arial, sans-serif;font-size:10.5px;font-weight:normal;" textLength="36.4" lengthAdjust="spacingAndGlyphs">Vol (20)</text>
<text x="12.6" y="53.6" fill="#b4d8fb" text-anchor="start" style="font-family:'Liberation Sans', Arial, sans-serif;font-size:10px;font-weight:normal;" textLength="64.3" lengthAdjust="spacingAndGlyphs">RSI (14, close)</text>
<text x="948.6" y="120.9" fill="#eaf4ff" text-anchor="start" style="font-family:'Liberation Sans', Arial, sans-serif;font-size:9.2px;font-weight:normal;" textLength="38.9" lengthAdjust="spacingAndGlyphs" stroke="#eaf4ff" stroke-width="0.3">0.029000</text>
<line x1="942" y1="117.6" x2="945" y2="117.6" stroke="#eaf4ff" stroke-width="1"/>
<text x="948.6" y="150.0" fill="#eaf4ff" text-anchor="start" style="font-family:'Liberation Sans', Arial, sans-serif;font-size:9.2px;font-weight:normal;" textLength="38.9" lengthAdjust="spacingAndGlyphs" stroke="#eaf4ff" stroke-width="0.3">0.028000</text>
<line x1="942" y1="146.7" x2="945" y2="146.7" stroke="#eaf4ff" stroke-width="1"/>
<text x="948.6" y="179.1" fill="#eaf4ff" text-anchor="start" style="font-family:'Liberation Sans', Arial, sans-serif;font-size:9.2px;font-weight:normal;" textLength="38.9" lengthAdjust="spacingAndGlyphs" stroke="#eaf4ff" stroke-width="0.3">0.027000</text>
<line x1="942" y1="175.8" x2="945" y2="175.8" stroke="#eaf4ff" stroke-width="1"/>
<text x="948.6" y="208.1" fill="#eaf4ff" text-anchor="start" style="font-family:'Liberation Sans', Arial, sans-serif;font-size:9.2px;font-weight:normal;" textLength="38.9" lengthAdjust="spacingAndGlyphs" stroke="#eaf4ff" stroke-width="0.3">0.026000</text>
<line x1="942" y1="204.8" x2="945" y2="204.8" stroke="#eaf4ff" stroke-width="1"/>
<text x="948.6" y="237.2" fill="#eaf4ff" text-anchor="start" style="font-family:'Liberation Sans', Arial, sans-serif;font-size:9.2px;font-weight:normal;" textLength="38.9" lengthAdjust="spacingAndGlyphs" stroke="#eaf4ff" stroke-width="0.3">0.025000</text>
<line x1="942" y1="233.9" x2="945" y2="233.9" stroke="#eaf4ff" stroke-width="1"/>
<text x="948.6" y="266.3" fill="#eaf4ff" text-anchor="start" style="font-family:'Liberation Sans', Arial, sans-serif;font-size:9.2px;font-weight:normal;" textLength="38.9" lengthAdjust="spacingAndGlyphs" stroke="#eaf4ff" stroke-width="0.3">0.024000</text>
<line x1="942" y1="263.0" x2="945" y2="263.0" stroke="#eaf4ff" stroke-width="1"/>
<text x="948.6" y="295.4" fill="#eaf4ff" text-anchor="start" style="font-family:'Liberation Sans', Arial, sans-serif;font-size:9.2px;font-weight:normal;" textLength="38.9" lengthAdjust="spacingAndGlyphs" stroke="#eaf4ff" stroke-width="0.3">0.023000</text>
<line x1="942" y1="292.1" x2="945" y2="292.1" stroke="#eaf4ff" stroke-width="1"/>
<text x="948.6" y="324.5" fill="#eaf4ff" text-anchor="start" style="font-family:'Liberation Sans', Arial, sans-serif;font-size:9.2px;font-weight:normal;" textLength="38.9" lengthAdjust="spacingAndGlyphs" stroke="#eaf4ff" stroke-width="0.3">0.022000</text>
<line x1="942" y1="321.2" x2="945" y2="321.2" stroke="#eaf4ff" stroke-width="1"/>
<text x="948.6" y="353.5" fill="#eaf4ff" text-anchor="start" style="font-family:'Liberation Sans', Arial, sans-serif;font-size:9.2px;font-weight:normal;" textLength="38.9" lengthAdjust="spacingAndGlyphs" stroke="#eaf4ff" stroke-width="0.3">0.021000</text>
<line x1="942" y1="350.2" x2="945" y2="350.2" stroke="#eaf4ff" stroke-width="1"/>
<text x="948.6" y="382.6" fill="#eaf4ff" text-anchor="start" style="font-family:'Liberation Sans', Arial, sans-serif;font-size:9.2px;font-weight:normal;" textLength="38.9" lengthAdjust="spacingAndGlyphs" stroke="#eaf4ff" stroke-width="0.3">0.020000</text>
<line x1="942" y1="379.3" x2="945" y2="379.3" stroke="#eaf4ff" stroke-width="1"/>
<text x="948.6" y="411.7" fill="#eaf4ff" text-anchor="start" style="font-family:'Liberation Sans', Arial, sans-serif;font-size:9.2px;font-weight:normal;" textLength="38.9" lengthAdjust="spacingAndGlyphs" stroke="#eaf4ff" stroke-width="0.3">0.019000</text>
<line x1="942" y1="408.4" x2="945" y2="408.4" stroke="#eaf4ff" stroke-width="1"/>
<text x="948.6" y="440.8" fill="#eaf4ff" text-anchor="start" style="font-family:'Liberation Sans', Arial, sans-serif;font-size:9.2px;font-weight:normal;" textLength="38.9" lengthAdjust="spacingAndGlyphs" stroke="#eaf4ff" stroke-width="0.3">0.018000</text>
<line x1="942" y1="437.5" x2="945" y2="437.5" stroke="#eaf4ff" stroke-width="1"/>
<text x="948.6" y="469.9" fill="#eaf4ff" text-anchor="start" style="font-family:'Liberation Sans', Arial, sans-serif;font-size:9.2px;font-weight:normal;" textLength="38.9" lengthAdjust="spacingAndGlyphs" stroke="#eaf4ff" stroke-width="0.3">0.017000</text>
<line x1="942" y1="466.6" x2="945" y2="466.6" stroke="#eaf4ff" stroke-width="1"/>
<text x="949.4" y="42.6" fill="#eaf4ff" text-anchor="start" style="font-family:'Liberation Sans', Arial, sans-serif;font-size:9.2px;font-weight:normal;" textLength="30.5" lengthAdjust="spacingAndGlyphs" stroke="#eaf4ff" stroke-width="0.3">100.00</text>
<line x1="942" y1="39" x2="945" y2="39" stroke="#eaf4ff" stroke-width="1"/>
<rect x="941.8" y="126.3" width="52.7" height="13.1" fill="#ffffff"/>
<line x1="942" y1="132.8" x2="945" y2="132.8" stroke="#333333" stroke-width="1"/>
<text x="948.6" y="136.2" fill="#333333" text-anchor="start" style="font-family:'Liberation Sans', Arial, sans-serif;font-size:9.6px;font-weight:normal;" textLength="38.9" lengthAdjust="spacingAndGlyphs">0.028456</text>
<rect x="941.8" y="199.0" width="52.7" height="12.4" fill="#ffffff"/>
<line x1="942" y1="205.2" x2="945" y2="205.2" stroke="#333333" stroke-width="1"/>
<text x="948.6" y="208.6" fill="#333333" text-anchor="start" style="font-family:'Liberation Sans', Arial, sans-serif;font-size:9.6px;font-weight:normal;" textLength="38.9" lengthAdjust="spacingAndGlyphs">0.025985</text>
<rect x="941.8" y="235.2" width="52.7" height="12.6" fill="#f57c1f"/>
<line x1="942" y1="241.5" x2="945" y2="241.5" stroke="#fff6e8" stroke-width="1"/>
<text x="948.6" y="244.9" fill="#fff6e8" text-anchor="start" style="font-family:'Liberation Sans', Arial, sans-serif;font-size:9.6px;font-weight:bold;" textLength="38.9" lengthAdjust="spacingAndGlyphs">0.024733</text>
<rect x="941.8" y="249.4" width="4.6" height="13" fill="#1563c4"/>
<rect x="946.4" y="249.4" width="48.1" height="13" fill="#fbfbfb"/>
<text x="950.0" y="259.3" fill="#222222" text-anchor="start" style="font-family:'Liberation Sans', Arial, sans-serif;font-size:9.6px;font-weight:normal;" textLength="37.0" lengthAdjust="spacingAndGlyphs">02:21:07</text>
<rect x="941.8" y="364.9" width="52.7" height="11.9" fill="#ffffff"/>
<line x1="942" y1="370.9" x2="945" y2="370.9" stroke="#333333" stroke-width="1"/>
<text x="948.6" y="374.2" fill="#333333" text-anchor="start" style="font-family:'Liberation Sans', Arial, sans-serif;font-size:9.6px;font-weight:normal;" textLength="38.9" lengthAdjust="spacingAndGlyphs">0.020222</text>
<rect x="941.8" y="465.2" width="52.7" height="13.3" fill="#ffffff"/>
<line x1="942" y1="471.9" x2="945" y2="471.9" stroke="#333333" stroke-width="1"/>
<text x="948.6" y="475.2" fill="#333333" text-anchor="start" style="font-family:'Liberation Sans', Arial, sans-serif;font-size:9.6px;font-weight:normal;" textLength="38.9" lengthAdjust="spacingAndGlyphs">0.016791</text>
<rect x="917" y="58.6" width="24.8" height="13.3" fill="#f4e4f6"/>
<text x="929.3" y="68.7" fill="#333333" text-anchor="middle" style="font-family:'Liberation Sans', Arial, sans-serif;font-size:9.6px;font-weight:normal;">RSI</text>
<rect x="941.8" y="58.6" width="37.8" height="13.3" fill="#ffffff"/>
<line x1="942" y1="65.2" x2="945" y2="65.2" stroke="#333" stroke-width="1"/>
<text x="949.3" y="68.7" fill="#333333" text-anchor="start" style="font-family:'Liberation Sans', Arial, sans-serif;font-size:9.6px;font-weight:normal;" textLength="25.8" lengthAdjust="spacingAndGlyphs">48.17</text>
<rect x="898.7" y="489.8" width="91" height="10.3" fill="#1e9e86"/>
<text x="904.5" y="498.3" fill="#e4fff6" text-anchor="start" style="font-family:'Liberation Sans', Arial, sans-serif;font-size:9.6px;font-weight:normal;" textLength="31.5" lengthAdjust="spacingAndGlyphs">Volume</text>
<line x1="942" y1="495" x2="945" y2="495" stroke="#e4fff6" stroke-width="1"/>
<text x="949.3" y="498.3" fill="#e4fff6" text-anchor="start" style="font-family:'Liberation Sans', Arial, sans-serif;font-size:9.6px;font-weight:normal;" textLength="34.5" lengthAdjust="spacingAndGlyphs">16.005K</text>
<text x="937.6" y="127.9" fill="#eaf4ff" text-anchor="end" style="font-family:'DejaVu Sans', 'Liberation Sans', sans-serif;font-size:8.4px;font-weight:bold;font-style:italic;" textLength="56.4" lengthAdjust="spacingAndGlyphs">Bullish Level</text>
<text x="937.4" y="380.7" fill="#eaf4ff" text-anchor="end" style="font-family:'DejaVu Sans', 'Liberation Sans', sans-serif;font-size:8.4px;font-weight:bold;font-style:italic;" textLength="43.0" lengthAdjust="spacingAndGlyphs">Key Level</text>
<text x="937.4" y="480.8" fill="#eaf4ff" text-anchor="end" style="font-family:'DejaVu Sans', 'Liberation Sans', sans-serif;font-size:8.4px;font-weight:bold;font-style:italic;" textLength="60.7" lengthAdjust="spacingAndGlyphs">Bearish Level</text>
<text x="48.4" y="516.6" fill="#eaf4ff" text-anchor="middle" style="font-family:'Liberation Sans', Arial, sans-serif;font-size:10px;font-weight:bold;">2020</text>
<line x1="48.4" y1="501" x2="48.4" y2="504" stroke="#cfe6ff" stroke-width="1"/>
<text x="123.0" y="516.6" fill="#eaf4ff" text-anchor="middle" style="font-family:'Liberation Sans', Arial, sans-serif;font-size:10px;font-weight:normal;">Feb</text>
<line x1="123" y1="501" x2="123" y2="504" stroke="#cfe6ff" stroke-width="1"/>
<text x="192.5" y="516.6" fill="#eaf4ff" text-anchor="middle" style="font-family:'Liberation Sans', Arial, sans-serif;font-size:10px;font-weight:normal;">Mar</text>
<line x1="192.5" y1="501" x2="192.5" y2="504" stroke="#cfe6ff" stroke-width="1"/>
<text x="267.5" y="516.6" fill="#eaf4ff" text-anchor="middle" style="font-family:'Liberation Sans', Arial, sans-serif;font-size:10px;font-weight:normal;">Apr</text>
<line x1="267.5" y1="501" x2="267.5" y2="504" stroke="#cfe6ff" stroke-width="1"/>
<text x="340.0" y="516.6" fill="#eaf4ff" text-anchor="middle" style="font-family:'Liberation Sans', Arial, sans-serif;font-size:10px;font-weight:normal;">May</text>
<line x1="340" y1="501" x2="340" y2="504" stroke="#cfe6ff" stroke-width="1"/>
<text x="415.0" y="516.6" fill="#eaf4ff" text-anchor="middle" style="font-family:'Liberation Sans', Arial, sans-serif;font-size:10px;font-weight:normal;">Jun</text>
<line x1="415" y1="501" x2="415" y2="504" stroke="#cfe6ff" stroke-width="1"/>
<text x="487.5" y="516.6" fill="#eaf4ff" text-anchor="middle" style="font-family:'Liberation Sans', Arial, sans-serif;font-size:10px;font-weight:normal;">Jul</text>
<line x1="487.5" y1="501" x2="487.5" y2="504" stroke="#cfe6ff" stroke-width="1"/>
<text x="562.5" y="516.6" fill="#eaf4ff" text-anchor="middle" style="font-family:'Liberation Sans', Arial, sans-serif;font-size:10px;font-weight:normal;">Aug</text>
<line x1="562.5" y1="501" x2="562.5" y2="504" stroke="#cfe6ff" stroke-width="1"/>
<text x="636.5" y="516.6" fill="#eaf4ff" text-anchor="middle" style="font-family:'Liberation Sans', Arial, sans-serif;font-size:10px;font-weight:normal;">Sep</text>
<line x1="636.5" y1="501" x2="636.5" y2="504" stroke="#cfe6ff" stroke-width="1"/>
<text x="95.3" y="154.3" fill="#d8914e" text-anchor="start" style="font-family:'Liberation Sans', Arial, sans-serif;font-size:9.2px;font-weight:normal;" textLength="50.8" lengthAdjust="spacingAndGlyphs">0(0.027832)</text>
<text x="86.3" y="235.4" fill="#e6f2ff" text-anchor="start" style="font-family:'Liberation Sans', Arial, sans-serif;font-size:9.2px;font-weight:normal;" textLength="59.8" lengthAdjust="spacingAndGlyphs">0.5(0.025044)</text>
<text x="76.2" y="281.4" fill="#e6f2ff" text-anchor="start" style="font-family:'Liberation Sans', Arial, sans-serif;font-size:9.2px;font-weight:normal;" textLength="69.8" lengthAdjust="spacingAndGlyphs">0.786(0.023446)</text>
<text x="431.0" y="368.0" fill="#e6f2ff" text-anchor="start" style="font-family:'Liberation Sans', Arial, sans-serif;font-size:9.2px;font-weight:normal;" textLength="50.4" lengthAdjust="spacingAndGlyphs">1(0.020476)</text>
<text x="91.2" y="365.3" fill="#f4f8ff" text-anchor="middle" style="font-family:'Liberation Sans', Arial, sans-serif;font-size:14px;font-weight:bold;">(v)</text>
<text x="82.0" y="384.3" fill="#f4f8ff" text-anchor="middle" style="font-family:'Liberation Sans', Arial, sans-serif;font-size:14px;font-weight:bold;">(iii)</text>
<text x="112.3" y="377.5" fill="#f4f8ff" text-anchor="middle" style="font-family:'Liberation Sans', Arial, sans-serif;font-size:14px;font-weight:bold;">(b)</text>
<text x="74.4" y="416.8" fill="#f4f8ff" text-anchor="middle" style="font-family:'Liberation Sans', Arial, sans-serif;font-size:14px;font-weight:bold;">(i)</text>
<text x="96.0" y="438.5" fill="#f4f8ff" text-anchor="middle" style="font-family:'Liberation Sans', Arial, sans-serif;font-size:14px;font-weight:bold;">(a)</text>
<text x="86.6" y="452.0" fill="#f4f8ff" text-anchor="middle" style="font-family:'Liberation Sans', Arial, sans-serif;font-size:14px;font-weight:bold;">(iv)</text>
<text x="119.1" y="449.3" fill="#f4f8ff" text-anchor="middle" style="font-family:'Liberation Sans', Arial, sans-serif;font-size:14px;font-weight:bold;">(c)</text>
<text x="81.2" y="481.9" fill="#f4f8ff" text-anchor="middle" style="font-family:'Liberation Sans', Arial, sans-serif;font-size:14px;font-weight:bold;">(ii)</text>
<text x="209.0" y="154.8" fill="#f4f8ff" text-anchor="middle" style="font-family:'Liberation Sans', Arial, sans-serif;font-size:14px;font-weight:bold;">(ii)</text>
<text x="222.3" y="213.3" fill="#f4f8ff" text-anchor="middle" style="font-family:'Liberation Sans', Arial, sans-serif;font-size:14px;font-weight:bold;">(iv)</text>
<text x="185.2" y="269.3" fill="#f4f8ff" text-anchor="middle" style="font-family:'Liberation Sans', Arial, sans-serif;font-size:14px;font-weight:bold;">(i)</text>
<text x="220.3" y="368.8" fill="#f4f8ff" text-anchor="middle" style="font-family:'Liberation Sans', Arial, sans-serif;font-size:14px;font-weight:bold;">(iii)</text>
<text x="255.6" y="393.2" fill="#f4f8ff" text-anchor="middle" style="font-family:'Liberation Sans', Arial, sans-serif;font-size:14px;font-weight:bold;">(v)</text>
<text x="146.6" y="283.0" fill="#f4f8ff" text-anchor="middle" style="font-family:'Liberation Sans', Arial, sans-serif;font-size:13px;font-weight:bold;">i</text>
<text x="130.0" y="401.4" fill="#f4f8ff" text-anchor="middle" style="font-family:'Liberation Sans', Arial, sans-serif;font-size:13px;font-weight:bold;">ii</text>
<text x="127.2" y="351.2" fill="#f4f8ff" text-anchor="middle" style="font-family:'Liberation Sans', Arial, sans-serif;font-size:13px;font-weight:bold;">i</text>
<text x="141.2" y="339.9" fill="#f4f8ff" text-anchor="middle" style="font-family:'Liberation Sans', Arial, sans-serif;font-size:13px;font-weight:bold;">iv</text>
<text x="149.4" y="330.8" fill="#f4f8ff" text-anchor="middle" style="font-family:'Liberation Sans', Arial, sans-serif;font-size:13px;font-weight:bold;">ii</text>
<text x="141.2" y="276.6" fill="#f4f8ff" text-anchor="middle" style="font-family:'Liberation Sans', Arial, sans-serif;font-size:13px;font-weight:bold;">v</text>
<text x="139.4" y="288.3" fill="#f4f8ff" text-anchor="middle" style="font-family:'Liberation Sans', Arial, sans-serif;font-size:13px;font-weight:bold;">iii</text>
<text x="154.4" y="252.9" fill="#f4f8ff" text-anchor="middle" style="font-family:'Liberation Sans', Arial, sans-serif;font-size:13px;font-weight:bold;">iv</text>
<text x="153.5" y="172.0" fill="#f4f8ff" text-anchor="middle" style="font-family:'Liberation Sans', Arial, sans-serif;font-size:13px;font-weight:bold;">iii</text>
<text x="157.5" y="136.4" fill="#f4f8ff" text-anchor="middle" style="font-family:'Liberation Sans', Arial, sans-serif;font-size:13px;font-weight:bold;">v</text>
<g transform="translate(187.6,169.9) scale(0.86,1)">
<text x="0.0" y="0.0" fill="#eef6ff" text-anchor="middle" style="font-family:'Liberation Sans', Arial, sans-serif;font-size:9.2px;font-weight:bold;">A</text>
</g>
<g transform="translate(192,175.3) scale(0.86,1)">
<text x="0.0" y="0.0" fill="#eef6ff" text-anchor="middle" style="font-family:'Liberation Sans', Arial, sans-serif;font-size:9.2px;font-weight:bold;">C</text>
</g>
<g transform="translate(197.5,187.3) scale(0.86,1)">
<text x="0.0" y="0.0" fill="#eef6ff" text-anchor="middle" style="font-family:'Liberation Sans', Arial, sans-serif;font-size:9.2px;font-weight:bold;">E</text>
</g>
<g transform="translate(190.7,247.8) scale(0.86,1)">
<text x="0.0" y="0.0" fill="#eef6ff" text-anchor="middle" style="font-family:'Liberation Sans', Arial, sans-serif;font-size:9.2px;font-weight:bold;">B</text>
</g>
<g transform="translate(196,238.8) scale(0.86,1)">
<text x="0.0" y="0.0" fill="#eef6ff" text-anchor="middle" style="font-family:'Liberation Sans', Arial, sans-serif;font-size:9.2px;font-weight:bold;">D</text>
</g>
<g transform="translate(282.7,259.3) scale(0.86,1)">
<text x="0.0" y="0.0" fill="#eef6ff" text-anchor="middle" style="font-family:'Liberation Sans', Arial, sans-serif;font-size:9.2px;font-weight:bold;">A</text>
</g>
<g transform="translate(290.8,325.90000000000003) scale(0.86,1)">
<text x="0.0" y="0.0" fill="#eef6ff" text-anchor="middle" style="font-family:'Liberation Sans', Arial, sans-serif;font-size:9.2px;font-weight:bold;">B</text>
</g>
<g transform="translate(322.8,179.0) scale(0.86,1)">
<text x="0.0" y="0.0" fill="#eef6ff" text-anchor="middle" style="font-family:'Liberation Sans', Arial, sans-serif;font-size:9.2px;font-weight:bold;">(A)</text>
</g>
<g transform="translate(323.4,198.0) scale(0.86,1)">
<text x="0.0" y="0.0" fill="#eef6ff" text-anchor="middle" style="font-family:'Liberation Sans', Arial, sans-serif;font-size:9.2px;font-weight:bold;">C</text>
</g>
<g transform="translate(343.7,247.3) scale(0.86,1)">
<text x="0.0" y="0.0" fill="#eef6ff" text-anchor="middle" style="font-family:'Liberation Sans', Arial, sans-serif;font-size:9.2px;font-weight:bold;">2</text>
</g>
<g transform="translate(338.5,294.5) scale(0.86,1)">
<text x="0.0" y="0.0" fill="#eef6ff" text-anchor="middle" style="font-family:'Liberation Sans', Arial, sans-serif;font-size:9.2px;font-weight:bold;">1</text>
</g>
<g transform="translate(361.8,284.3) scale(0.86,1)">
<text x="0.0" y="0.0" fill="#eef6ff" text-anchor="middle" style="font-family:'Liberation Sans', Arial, sans-serif;font-size:9.2px;font-weight:bold;">4</text>
</g>
<g transform="translate(355.7,366.3) scale(0.86,1)">
<text x="0.0" y="0.0" fill="#eef6ff" text-anchor="middle" style="font-family:'Liberation Sans', Arial, sans-serif;font-size:9.2px;font-weight:bold;">3</text>
</g>
<g transform="translate(381.5,384.1) scale(0.86,1)">
<text x="0.0" y="0.0" fill="#eef6ff" text-anchor="middle" style="font-family:'Liberation Sans', Arial, sans-serif;font-size:9.2px;font-weight:bold;">5</text>
</g>
<g transform="translate(381,399.1) scale(0.86,1)">
<text x="0.0" y="0.0" fill="#eef6ff" text-anchor="middle" style="font-family:'Liberation Sans', Arial, sans-serif;font-size:9.2px;font-weight:bold;">(B)</text>
</g>
<g transform="translate(428,188.20000000000002) scale(0.86,1)">
<text x="0.0" y="0.0" fill="#eef6ff" text-anchor="middle" style="font-family:'Liberation Sans', Arial, sans-serif;font-size:9.2px;font-weight:bold;">(C)</text>
</g>
<g transform="translate(607,192.0) scale(0.86,1)">
<text x="0.0" y="0.0" fill="#eef6ff" text-anchor="middle" style="font-family:'Liberation Sans', Arial, sans-serif;font-size:9.2px;font-weight:bold;">(E)</text>
</g>
<g transform="translate(538.5,395.3) scale(0.86,1)">
<text x="0.0" y="0.0" fill="#eef6ff" text-anchor="middle" style="font-family:'Liberation Sans', Arial, sans-serif;font-size:9.2px;font-weight:bold;">(D)</text>
</g>
<rect x="734.1" y="238.7" width="111.1" height="26.8" fill="#000000" stroke="#ffffff" stroke-width="1.6"/>
<text x="737.9" y="257.6" fill="#ffffff" text-anchor="start" style="font-family:'DejaVu Sans', 'Liberation Sans', sans-serif;font-size:20.5px;font-weight:bold;" textLength="97.4" lengthAdjust="spacingAndGlyphs">ETH/BTC</text>
<rect x="504.6" y="404.6" width="382.6" height="42.4" fill="#000000" stroke="#d8e4f0" stroke-width="1"/>
<text x="505.8" y="411.8" fill="#ffffff" text-anchor="start" style="font-family:'DejaVu Sans', 'Liberation Sans', sans-serif;font-size:7.7px;font-weight:bold;" textLength="116.6" lengthAdjust="spacingAndGlyphs">Dôležité hladiny na grafe:</text>
<text x="505.8" y="419.6" fill="#ffffff" text-anchor="start" style="font-family:'DejaVu Sans', 'Liberation Sans', sans-serif;font-size:7.7px;font-weight:bold;" textLength="248.6" lengthAdjust="spacingAndGlyphs">1. 0.022663 BTC - Golden ratio hladina. Nákupná zóna.</text>
<text x="505.8" y="427.4" fill="#ffffff" text-anchor="start" style="font-family:'DejaVu Sans', 'Liberation Sans', sans-serif;font-size:7.7px;font-weight:bold;" textLength="231.6" lengthAdjust="spacingAndGlyphs">2. 0.028215 BTC - Target pre swing trade obchody.</text>
<text x="505.8" y="435.2" fill="#ffffff" text-anchor="start" style="font-family:'DejaVu Sans', 'Liberation Sans', sans-serif;font-size:7.7px;font-weight:bold;" textLength="376.6" lengthAdjust="spacingAndGlyphs">3. 0.020593 BTC - Dôležitá nákupná hodnota. Očakávane potvrdenie dvojitého dna.</text>
<text x="505.8" y="443.0" fill="#ffffff" text-anchor="start" style="font-family:'DejaVu Sans', 'Liberation Sans', sans-serif;font-size:7.7px;font-weight:bold;" textLength="329.0" lengthAdjust="spacingAndGlyphs">4. 0.016985 BTC - Kľúčový level pre udržanie dlhodobého bullish trendu.</text>
<g fill="#2e9ef4"><circle cx="8.6" cy="541.1" r="3.8"/><circle cx="14.6" cy="538.6" r="5.8"/><circle cx="22.2" cy="541.1" r="3.8"/><rect x="8.6" y="541" width="13.6" height="3.9"/></g><path d="M6.9,542.7 L12.7,536.8 L17.9,541.9 L23.6,535.6" fill="none" stroke="#0d1b33" stroke-width="1.4"/>
<text x="27.2" y="542.4" fill="#d1d4dc" text-anchor="start" style="font-family:'Liberation Sans', Arial, sans-serif;font-size:10.5px;font-weight:normal;" textLength="57.8" lengthAdjust="spacingAndGlyphs">TradingView</text>
</svg>
</div></body></html>
